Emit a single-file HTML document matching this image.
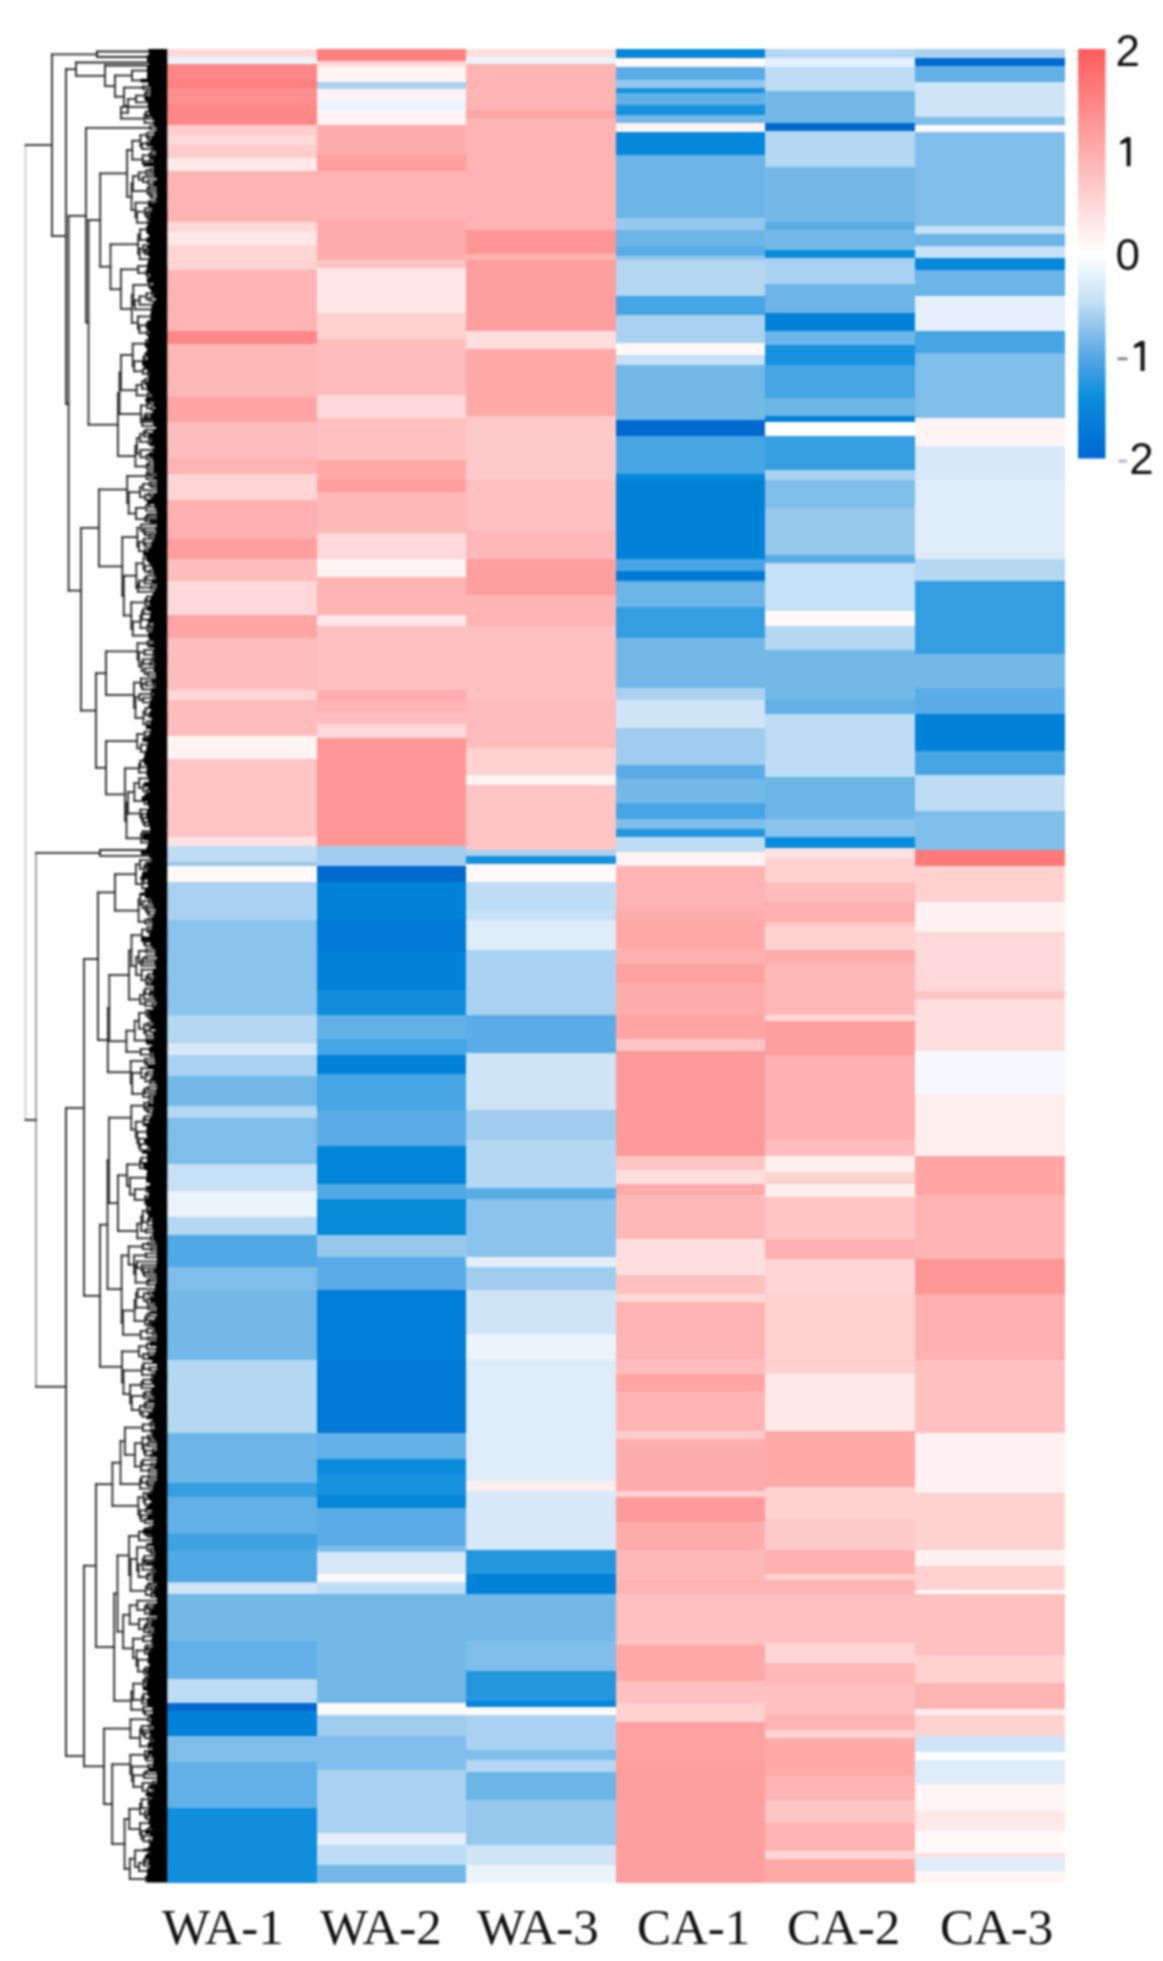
<!DOCTYPE html>
<html><head><meta charset="utf-8"><style>
html,body{margin:0;padding:0;background:#fff;}
body{width:1163px;height:1961px;overflow:hidden;position:relative;}
svg{position:absolute;left:0;top:0;}
#all{position:absolute;left:0;top:0;width:1163px;height:1961px;filter:blur(0.8px);}
.lab{position:absolute;font-family:"Liberation Serif",serif;font-size:51px;color:#111;white-space:nowrap;line-height:1;}
.tk{position:absolute;font-family:"Liberation Sans",sans-serif;font-size:44px;color:#111;white-space:nowrap;line-height:1;}
.tk span{color:#777;}
</style></head><body>
<div id="all">
<svg width="1163" height="1961" viewBox="0 0 1163 1961">
<defs><linearGradient id="cb" x1="0" y1="0" x2="0" y2="1">
<stop offset="0.000" stop-color="#ff5c5c"/>
<stop offset="0.025" stop-color="#ff6464"/>
<stop offset="0.050" stop-color="#ff6c6c"/>
<stop offset="0.075" stop-color="#ff7474"/>
<stop offset="0.100" stop-color="#ff7c7c"/>
<stop offset="0.125" stop-color="#ff8484"/>
<stop offset="0.150" stop-color="#ff8c8c"/>
<stop offset="0.175" stop-color="#ff9494"/>
<stop offset="0.200" stop-color="#ff9c9c"/>
<stop offset="0.225" stop-color="#ffa4a4"/>
<stop offset="0.250" stop-color="#ffacac"/>
<stop offset="0.275" stop-color="#ffb4b4"/>
<stop offset="0.300" stop-color="#ffbdbd"/>
<stop offset="0.325" stop-color="#ffc5c5"/>
<stop offset="0.350" stop-color="#ffcdcd"/>
<stop offset="0.375" stop-color="#ffd6d6"/>
<stop offset="0.400" stop-color="#ffdede"/>
<stop offset="0.425" stop-color="#ffe6e6"/>
<stop offset="0.450" stop-color="#ffeeee"/>
<stop offset="0.475" stop-color="#fff7f7"/>
<stop offset="0.500" stop-color="#ffffff"/>
<stop offset="0.525" stop-color="#f3f8fd"/>
<stop offset="0.550" stop-color="#e7f2fb"/>
<stop offset="0.575" stop-color="#daebf8"/>
<stop offset="0.600" stop-color="#cee4f6"/>
<stop offset="0.625" stop-color="#bedcf4"/>
<stop offset="0.650" stop-color="#a9d1f1"/>
<stop offset="0.675" stop-color="#95c7ee"/>
<stop offset="0.700" stop-color="#81bceb"/>
<stop offset="0.725" stop-color="#6cb2e9"/>
<stop offset="0.750" stop-color="#58a7e6"/>
<stop offset="0.775" stop-color="#44a1e4"/>
<stop offset="0.800" stop-color="#319ae2"/>
<stop offset="0.825" stop-color="#1d94df"/>
<stop offset="0.850" stop-color="#0a8edd"/>
<stop offset="0.875" stop-color="#0887dc"/>
<stop offset="0.900" stop-color="#0781da"/>
<stop offset="0.925" stop-color="#057ad8"/>
<stop offset="0.950" stop-color="#0373d7"/>
<stop offset="0.975" stop-color="#026dd6"/>
<stop offset="1.000" stop-color="#0066d4"/>
</linearGradient></defs>
<g shape-rendering="crispEdges">
<rect x="167.0" y="49.0" width="150.2" height="8.6" fill="#ffd9d9"/>
<rect x="167.0" y="57.0" width="150.2" height="7.1" fill="#ebf3fc"/>
<rect x="167.0" y="63.5" width="150.2" height="17.1" fill="#ff8787"/>
<rect x="167.0" y="80.0" width="150.2" height="8.6" fill="#ff8080"/>
<rect x="167.0" y="88.0" width="150.2" height="16.6" fill="#ff8f8f"/>
<rect x="167.0" y="104.0" width="150.2" height="21.6" fill="#ff8787"/>
<rect x="167.0" y="125.0" width="150.2" height="10.6" fill="#ffcdcd"/>
<rect x="167.0" y="135.0" width="150.2" height="10.6" fill="#ffd9d9"/>
<rect x="167.0" y="145.0" width="150.2" height="13.6" fill="#ffcdcd"/>
<rect x="167.0" y="158.0" width="150.2" height="13.1" fill="#ffe8e8"/>
<rect x="167.0" y="170.5" width="150.2" height="52.1" fill="#ffb4b4"/>
<rect x="167.0" y="222.0" width="150.2" height="10.6" fill="#ffd9d9"/>
<rect x="167.0" y="232.0" width="150.2" height="13.6" fill="#ffe8e8"/>
<rect x="167.0" y="245.0" width="150.2" height="17.6" fill="#ffd5d5"/>
<rect x="167.0" y="262.0" width="150.2" height="8.6" fill="#ffd1d1"/>
<rect x="167.0" y="270.0" width="150.2" height="61.6" fill="#ffb4b4"/>
<rect x="167.0" y="331.0" width="150.2" height="13.6" fill="#ff8787"/>
<rect x="167.0" y="344.0" width="150.2" height="53.1" fill="#ffb8b8"/>
<rect x="167.0" y="396.5" width="150.2" height="26.1" fill="#ffa5a5"/>
<rect x="167.0" y="422.0" width="150.2" height="36.6" fill="#ffbcbc"/>
<rect x="167.0" y="458.0" width="150.2" height="16.2" fill="#ffb4b4"/>
<rect x="167.0" y="473.6" width="150.2" height="27.0" fill="#ffd5d5"/>
<rect x="167.0" y="500.0" width="150.2" height="39.6" fill="#ffb0b0"/>
<rect x="167.0" y="539.0" width="150.2" height="20.6" fill="#ff9e9e"/>
<rect x="167.0" y="559.0" width="150.2" height="22.6" fill="#ffbcbc"/>
<rect x="167.0" y="581.0" width="150.2" height="34.1" fill="#ffd9d9"/>
<rect x="167.0" y="614.5" width="150.2" height="24.1" fill="#ffa5a5"/>
<rect x="167.0" y="638.0" width="150.2" height="52.6" fill="#ffbcbc"/>
<rect x="167.0" y="690.0" width="150.2" height="10.6" fill="#ffd5d5"/>
<rect x="167.0" y="700.0" width="150.2" height="36.2" fill="#ffbcbc"/>
<rect x="167.0" y="735.6" width="150.2" height="24.0" fill="#fff3f3"/>
<rect x="167.0" y="759.0" width="150.2" height="78.1" fill="#ffc4c4"/>
<rect x="167.0" y="836.5" width="150.2" height="10.1" fill="#ffe3e3"/>
<rect x="167.0" y="846.0" width="150.2" height="16.6" fill="#bedcf3"/>
<rect x="167.0" y="862.0" width="150.2" height="4.6" fill="#96c8ed"/>
<rect x="167.0" y="866.0" width="150.2" height="16.6" fill="#fff9f9"/>
<rect x="167.0" y="882.0" width="150.2" height="38.6" fill="#aad2f0"/>
<rect x="167.0" y="920.0" width="150.2" height="95.6" fill="#8ac3eb"/>
<rect x="167.0" y="1015.0" width="150.2" height="28.2" fill="#b4d7f2"/>
<rect x="167.0" y="1042.6" width="150.2" height="12.5" fill="#d7e8f8"/>
<rect x="167.0" y="1054.5" width="150.2" height="22.1" fill="#aad2f0"/>
<rect x="167.0" y="1076.0" width="150.2" height="30.6" fill="#73b9e8"/>
<rect x="167.0" y="1106.0" width="150.2" height="12.6" fill="#b4d7f2"/>
<rect x="167.0" y="1118.0" width="150.2" height="46.6" fill="#7fbeea"/>
<rect x="167.0" y="1164.0" width="150.2" height="27.6" fill="#c6e0f5"/>
<rect x="167.0" y="1191.0" width="150.2" height="26.6" fill="#ebf3fc"/>
<rect x="167.0" y="1217.0" width="150.2" height="18.6" fill="#b4d7f2"/>
<rect x="167.0" y="1235.0" width="150.2" height="32.2" fill="#50a8e5"/>
<rect x="167.0" y="1266.6" width="150.2" height="24.0" fill="#7fbeea"/>
<rect x="167.0" y="1290.0" width="150.2" height="70.6" fill="#73b9e8"/>
<rect x="167.0" y="1360.0" width="150.2" height="73.6" fill="#b4d7f2"/>
<rect x="167.0" y="1433.0" width="150.2" height="50.2" fill="#6bb5e7"/>
<rect x="167.0" y="1482.6" width="150.2" height="14.5" fill="#349ee1"/>
<rect x="167.0" y="1496.5" width="150.2" height="38.1" fill="#62b0e7"/>
<rect x="167.0" y="1534.0" width="150.2" height="16.6" fill="#3da1e2"/>
<rect x="167.0" y="1550.0" width="150.2" height="32.1" fill="#50a8e5"/>
<rect x="167.0" y="1581.5" width="150.2" height="3.1" fill="#b4d7f2"/>
<rect x="167.0" y="1584.0" width="150.2" height="10.6" fill="#cfe4f6"/>
<rect x="167.0" y="1594.0" width="150.2" height="47.6" fill="#73b9e8"/>
<rect x="167.0" y="1641.0" width="150.2" height="38.6" fill="#62b0e7"/>
<rect x="167.0" y="1679.0" width="150.2" height="24.2" fill="#bedcf3"/>
<rect x="167.0" y="1702.6" width="150.2" height="8.5" fill="#0069d0"/>
<rect x="167.0" y="1710.5" width="150.2" height="26.1" fill="#0082d8"/>
<rect x="167.0" y="1736.0" width="150.2" height="26.6" fill="#7fbeea"/>
<rect x="167.0" y="1762.0" width="150.2" height="46.1" fill="#62b0e7"/>
<rect x="167.0" y="1807.5" width="150.2" height="75.6" fill="#108edc"/>
<rect x="316.6" y="49.0" width="150.2" height="12.2" fill="#ff8080"/>
<rect x="316.6" y="60.6" width="150.2" height="5.7" fill="#ffd5d5"/>
<rect x="316.6" y="65.7" width="150.2" height="16.4" fill="#fff3f3"/>
<rect x="316.6" y="81.5" width="150.2" height="8.5" fill="#aad2f0"/>
<rect x="316.6" y="89.4" width="150.2" height="11.2" fill="#fff3f3"/>
<rect x="316.6" y="100.0" width="150.2" height="10.6" fill="#ebf3fc"/>
<rect x="316.6" y="110.0" width="150.2" height="15.6" fill="#fff3f3"/>
<rect x="316.6" y="125.0" width="150.2" height="30.3" fill="#ffacac"/>
<rect x="316.6" y="154.7" width="150.2" height="16.4" fill="#ff9e9e"/>
<rect x="316.6" y="170.5" width="150.2" height="50.1" fill="#ffb4b4"/>
<rect x="316.6" y="220.0" width="150.2" height="40.6" fill="#ffacac"/>
<rect x="316.6" y="260.0" width="150.2" height="8.6" fill="#ffc4c4"/>
<rect x="316.6" y="268.0" width="150.2" height="45.6" fill="#ffe6e6"/>
<rect x="316.6" y="313.0" width="150.2" height="26.6" fill="#ffd1d1"/>
<rect x="316.6" y="339.0" width="150.2" height="56.1" fill="#ffbcbc"/>
<rect x="316.6" y="394.5" width="150.2" height="24.1" fill="#ffd9d9"/>
<rect x="316.6" y="418.0" width="150.2" height="42.6" fill="#ffc0c0"/>
<rect x="316.6" y="460.0" width="150.2" height="20.6" fill="#ffa9a9"/>
<rect x="316.6" y="480.0" width="150.2" height="12.6" fill="#ff9e9e"/>
<rect x="316.6" y="492.0" width="150.2" height="41.6" fill="#ffb8b8"/>
<rect x="316.6" y="533.0" width="150.2" height="26.6" fill="#ffd9d9"/>
<rect x="316.6" y="559.0" width="150.2" height="18.6" fill="#fff3f3"/>
<rect x="316.6" y="577.0" width="150.2" height="38.1" fill="#ffb4b4"/>
<rect x="316.6" y="614.5" width="150.2" height="12.1" fill="#ffe8e8"/>
<rect x="316.6" y="626.0" width="150.2" height="64.6" fill="#ffc0c0"/>
<rect x="316.6" y="690.0" width="150.2" height="10.6" fill="#ffacac"/>
<rect x="316.6" y="700.0" width="150.2" height="12.6" fill="#ffb4b4"/>
<rect x="316.6" y="712.0" width="150.2" height="12.6" fill="#ffbcbc"/>
<rect x="316.6" y="724.0" width="150.2" height="14.2" fill="#ffd9d9"/>
<rect x="316.6" y="737.6" width="150.2" height="109.0" fill="#ff9696"/>
<rect x="316.6" y="846.0" width="150.2" height="20.6" fill="#a0cdee"/>
<rect x="316.6" y="866.0" width="150.2" height="16.6" fill="#0069d0"/>
<rect x="316.6" y="882.0" width="150.2" height="38.6" fill="#0082d8"/>
<rect x="316.6" y="920.0" width="150.2" height="32.2" fill="#007ad5"/>
<rect x="316.6" y="951.6" width="150.2" height="39.0" fill="#0082d8"/>
<rect x="316.6" y="990.0" width="150.2" height="25.6" fill="#108edc"/>
<rect x="316.6" y="1015.0" width="150.2" height="24.3" fill="#62b0e7"/>
<rect x="316.6" y="1038.7" width="150.2" height="16.4" fill="#46a5e4"/>
<rect x="316.6" y="1054.5" width="150.2" height="20.1" fill="#0082d8"/>
<rect x="316.6" y="1074.0" width="150.2" height="36.6" fill="#46a5e4"/>
<rect x="316.6" y="1110.0" width="150.2" height="36.1" fill="#5aace6"/>
<rect x="316.6" y="1145.5" width="150.2" height="3.1" fill="#0587da"/>
<rect x="316.6" y="1148.0" width="150.2" height="36.1" fill="#0284d9"/>
<rect x="316.6" y="1183.5" width="150.2" height="16.1" fill="#50a8e5"/>
<rect x="316.6" y="1199.0" width="150.2" height="36.6" fill="#088adb"/>
<rect x="316.6" y="1235.0" width="150.2" height="22.3" fill="#96c8ed"/>
<rect x="316.6" y="1256.7" width="150.2" height="33.9" fill="#5aace6"/>
<rect x="316.6" y="1290.0" width="150.2" height="70.6" fill="#007ed7"/>
<rect x="316.6" y="1360.0" width="150.2" height="73.6" fill="#007ad5"/>
<rect x="316.6" y="1433.0" width="150.2" height="26.6" fill="#62b0e7"/>
<rect x="316.6" y="1459.0" width="150.2" height="16.3" fill="#0a8cdc"/>
<rect x="316.6" y="1474.7" width="150.2" height="20.4" fill="#1691dd"/>
<rect x="316.6" y="1494.5" width="150.2" height="14.1" fill="#0587da"/>
<rect x="316.6" y="1508.0" width="150.2" height="38.6" fill="#5aace6"/>
<rect x="316.6" y="1546.0" width="150.2" height="6.6" fill="#7fbeea"/>
<rect x="316.6" y="1552.0" width="150.2" height="22.2" fill="#d7e8f8"/>
<rect x="316.6" y="1573.6" width="150.2" height="8.5" fill="#fff9f9"/>
<rect x="316.6" y="1581.5" width="150.2" height="5.1" fill="#c6e0f5"/>
<rect x="316.6" y="1586.0" width="150.2" height="8.6" fill="#bedcf3"/>
<rect x="316.6" y="1594.0" width="150.2" height="47.6" fill="#73b9e8"/>
<rect x="316.6" y="1641.0" width="150.2" height="62.2" fill="#73b9e8"/>
<rect x="316.6" y="1702.6" width="150.2" height="12.5" fill="#fff9f9"/>
<rect x="316.6" y="1714.5" width="150.2" height="22.1" fill="#a0cdee"/>
<rect x="316.6" y="1736.0" width="150.2" height="34.6" fill="#7fbeea"/>
<rect x="316.6" y="1770.0" width="150.2" height="38.1" fill="#aad2f0"/>
<rect x="316.6" y="1807.5" width="150.2" height="26.1" fill="#aad2f0"/>
<rect x="316.6" y="1833.0" width="150.2" height="12.6" fill="#e4effb"/>
<rect x="316.6" y="1845.0" width="150.2" height="20.6" fill="#bedcf3"/>
<rect x="316.6" y="1865.0" width="150.2" height="18.1" fill="#73b9e8"/>
<rect x="466.2" y="49.0" width="150.2" height="8.6" fill="#ffdede"/>
<rect x="466.2" y="57.0" width="150.2" height="7.1" fill="#ebf3fc"/>
<rect x="466.2" y="63.5" width="150.2" height="47.1" fill="#ffb4b4"/>
<rect x="466.2" y="110.0" width="150.2" height="8.6" fill="#ffa5a5"/>
<rect x="466.2" y="118.0" width="150.2" height="112.6" fill="#ffb4b4"/>
<rect x="466.2" y="230.0" width="150.2" height="24.2" fill="#ff9696"/>
<rect x="466.2" y="253.6" width="150.2" height="7.0" fill="#ffb4b4"/>
<rect x="466.2" y="260.0" width="150.2" height="71.6" fill="#ff9e9e"/>
<rect x="466.2" y="331.0" width="150.2" height="18.6" fill="#ffdede"/>
<rect x="466.2" y="349.0" width="150.2" height="67.6" fill="#ffa9a9"/>
<rect x="466.2" y="416.0" width="150.2" height="64.6" fill="#ffc9c9"/>
<rect x="466.2" y="480.0" width="150.2" height="51.6" fill="#ffc0c0"/>
<rect x="466.2" y="531.0" width="150.2" height="28.6" fill="#ffb8b8"/>
<rect x="466.2" y="559.0" width="150.2" height="36.6" fill="#ff9e9e"/>
<rect x="466.2" y="595.0" width="150.2" height="31.6" fill="#ffb4b4"/>
<rect x="466.2" y="626.0" width="150.2" height="74.6" fill="#ffc0c0"/>
<rect x="466.2" y="700.0" width="150.2" height="48.1" fill="#ffbcbc"/>
<rect x="466.2" y="747.5" width="150.2" height="28.1" fill="#ffd1d1"/>
<rect x="466.2" y="775.0" width="150.2" height="10.6" fill="#fff3f3"/>
<rect x="466.2" y="785.0" width="150.2" height="65.6" fill="#ffc4c4"/>
<rect x="466.2" y="850.0" width="150.2" height="6.6" fill="#aad2f0"/>
<rect x="466.2" y="856.0" width="150.2" height="8.6" fill="#1691dd"/>
<rect x="466.2" y="864.0" width="150.2" height="18.6" fill="#fff9f9"/>
<rect x="466.2" y="882.0" width="150.2" height="28.2" fill="#bedcf3"/>
<rect x="466.2" y="909.6" width="150.2" height="11.0" fill="#c6e0f5"/>
<rect x="466.2" y="920.0" width="150.2" height="30.3" fill="#deecf9"/>
<rect x="466.2" y="949.7" width="150.2" height="65.9" fill="#aad2f0"/>
<rect x="466.2" y="1015.0" width="150.2" height="38.1" fill="#5aace6"/>
<rect x="466.2" y="1052.5" width="150.2" height="58.1" fill="#cfe4f6"/>
<rect x="466.2" y="1110.0" width="150.2" height="30.6" fill="#a0cdee"/>
<rect x="466.2" y="1140.0" width="150.2" height="48.1" fill="#b4d7f2"/>
<rect x="466.2" y="1187.5" width="150.2" height="12.1" fill="#5aace6"/>
<rect x="466.2" y="1199.0" width="150.2" height="58.3" fill="#8ac3eb"/>
<rect x="466.2" y="1256.7" width="150.2" height="10.5" fill="#e4effb"/>
<rect x="466.2" y="1266.6" width="150.2" height="24.0" fill="#a0cdee"/>
<rect x="466.2" y="1290.0" width="150.2" height="44.6" fill="#cfe4f6"/>
<rect x="466.2" y="1334.0" width="150.2" height="26.6" fill="#ebf3fc"/>
<rect x="466.2" y="1360.0" width="150.2" height="121.2" fill="#deecf9"/>
<rect x="466.2" y="1480.6" width="150.2" height="10.5" fill="#ffeeee"/>
<rect x="466.2" y="1490.5" width="150.2" height="60.1" fill="#d7e8f8"/>
<rect x="466.2" y="1550.0" width="150.2" height="24.2" fill="#2396de"/>
<rect x="466.2" y="1573.6" width="150.2" height="21.0" fill="#0082d8"/>
<rect x="466.2" y="1594.0" width="150.2" height="47.6" fill="#73b9e8"/>
<rect x="466.2" y="1641.0" width="150.2" height="30.6" fill="#7fbeea"/>
<rect x="466.2" y="1671.0" width="150.2" height="30.2" fill="#2396de"/>
<rect x="466.2" y="1700.6" width="150.2" height="6.6" fill="#0587da"/>
<rect x="466.2" y="1706.6" width="150.2" height="8.5" fill="#fffbfb"/>
<rect x="466.2" y="1714.5" width="150.2" height="36.1" fill="#aad2f0"/>
<rect x="466.2" y="1750.0" width="150.2" height="10.6" fill="#7fbeea"/>
<rect x="466.2" y="1760.0" width="150.2" height="12.6" fill="#b4d7f2"/>
<rect x="466.2" y="1772.0" width="150.2" height="28.1" fill="#6bb5e7"/>
<rect x="466.2" y="1799.5" width="150.2" height="46.1" fill="#96c8ed"/>
<rect x="466.2" y="1845.0" width="150.2" height="20.6" fill="#cfe4f6"/>
<rect x="466.2" y="1865.0" width="150.2" height="18.1" fill="#ebf3fc"/>
<rect x="615.8" y="49.0" width="150.2" height="9.4" fill="#0587da"/>
<rect x="615.8" y="57.8" width="150.2" height="9.8" fill="#fff9f9"/>
<rect x="615.8" y="67.0" width="150.2" height="13.2" fill="#5aace6"/>
<rect x="615.8" y="79.6" width="150.2" height="8.5" fill="#96c8ed"/>
<rect x="615.8" y="87.5" width="150.2" height="6.5" fill="#1691dd"/>
<rect x="615.8" y="93.4" width="150.2" height="12.2" fill="#62b0e7"/>
<rect x="615.8" y="105.0" width="150.2" height="10.6" fill="#1691dd"/>
<rect x="615.8" y="115.0" width="150.2" height="8.6" fill="#73b9e8"/>
<rect x="615.8" y="123.0" width="150.2" height="9.4" fill="#fff3f3"/>
<rect x="615.8" y="131.8" width="150.2" height="23.5" fill="#0587da"/>
<rect x="615.8" y="154.7" width="150.2" height="63.9" fill="#6bb5e7"/>
<rect x="615.8" y="218.0" width="150.2" height="12.6" fill="#96c8ed"/>
<rect x="615.8" y="230.0" width="150.2" height="16.6" fill="#6bb5e7"/>
<rect x="615.8" y="246.0" width="150.2" height="10.2" fill="#5aace6"/>
<rect x="615.8" y="255.6" width="150.2" height="5.0" fill="#96c8ed"/>
<rect x="615.8" y="260.0" width="150.2" height="36.2" fill="#b4d7f2"/>
<rect x="615.8" y="295.6" width="150.2" height="20.4" fill="#46a5e4"/>
<rect x="615.8" y="315.4" width="150.2" height="28.2" fill="#aad2f0"/>
<rect x="615.8" y="343.0" width="150.2" height="12.6" fill="#fff9f9"/>
<rect x="615.8" y="355.0" width="150.2" height="10.6" fill="#c6e0f5"/>
<rect x="615.8" y="365.0" width="150.2" height="55.6" fill="#73b9e8"/>
<rect x="615.8" y="420.0" width="150.2" height="16.6" fill="#0069d0"/>
<rect x="615.8" y="436.0" width="150.2" height="38.2" fill="#46a5e4"/>
<rect x="615.8" y="473.6" width="150.2" height="7.0" fill="#0587da"/>
<rect x="615.8" y="480.0" width="150.2" height="79.6" fill="#0082d8"/>
<rect x="615.8" y="559.0" width="150.2" height="12.6" fill="#46a5e4"/>
<rect x="615.8" y="571.0" width="150.2" height="10.6" fill="#007ad5"/>
<rect x="615.8" y="581.0" width="150.2" height="26.2" fill="#6bb5e7"/>
<rect x="615.8" y="606.6" width="150.2" height="32.0" fill="#349ee1"/>
<rect x="615.8" y="638.0" width="150.2" height="50.3" fill="#73b9e8"/>
<rect x="615.8" y="687.7" width="150.2" height="12.9" fill="#aad2f0"/>
<rect x="615.8" y="700.0" width="150.2" height="28.3" fill="#cfe4f6"/>
<rect x="615.8" y="727.7" width="150.2" height="37.9" fill="#a0cdee"/>
<rect x="615.8" y="765.0" width="150.2" height="14.6" fill="#5aace6"/>
<rect x="615.8" y="779.0" width="150.2" height="24.6" fill="#73b9e8"/>
<rect x="615.8" y="803.0" width="150.2" height="16.3" fill="#46a5e4"/>
<rect x="615.8" y="818.7" width="150.2" height="10.5" fill="#7fbeea"/>
<rect x="615.8" y="828.6" width="150.2" height="8.5" fill="#2396de"/>
<rect x="615.8" y="836.5" width="150.2" height="16.4" fill="#bedcf3"/>
<rect x="615.8" y="852.3" width="150.2" height="14.3" fill="#fff3f3"/>
<rect x="615.8" y="866.0" width="150.2" height="44.2" fill="#ffb4b4"/>
<rect x="615.8" y="909.6" width="150.2" height="11.0" fill="#ffacac"/>
<rect x="615.8" y="920.0" width="150.2" height="28.3" fill="#ffa9a9"/>
<rect x="615.8" y="947.7" width="150.2" height="16.4" fill="#ffb0b0"/>
<rect x="615.8" y="963.5" width="150.2" height="20.4" fill="#ffa1a1"/>
<rect x="615.8" y="983.3" width="150.2" height="32.3" fill="#ffacac"/>
<rect x="615.8" y="1015.0" width="150.2" height="24.3" fill="#ffa5a5"/>
<rect x="615.8" y="1038.7" width="150.2" height="12.4" fill="#ffc4c4"/>
<rect x="615.8" y="1050.5" width="150.2" height="106.1" fill="#ff9a9a"/>
<rect x="615.8" y="1156.0" width="150.2" height="14.3" fill="#ffc4c4"/>
<rect x="615.8" y="1169.7" width="150.2" height="14.4" fill="#ffdede"/>
<rect x="615.8" y="1183.5" width="150.2" height="12.5" fill="#ffa9a9"/>
<rect x="615.8" y="1195.4" width="150.2" height="44.2" fill="#ffb8b8"/>
<rect x="615.8" y="1239.0" width="150.2" height="36.1" fill="#ffdede"/>
<rect x="615.8" y="1274.5" width="150.2" height="20.1" fill="#ffc0c0"/>
<rect x="615.8" y="1294.0" width="150.2" height="8.6" fill="#ffd9d9"/>
<rect x="615.8" y="1302.0" width="150.2" height="58.6" fill="#ffb4b4"/>
<rect x="615.8" y="1360.0" width="150.2" height="14.6" fill="#ffbcbc"/>
<rect x="615.8" y="1374.0" width="150.2" height="18.2" fill="#ffa5a5"/>
<rect x="615.8" y="1391.6" width="150.2" height="40.0" fill="#ffb4b4"/>
<rect x="615.8" y="1431.0" width="150.2" height="8.6" fill="#ffcdcd"/>
<rect x="615.8" y="1439.0" width="150.2" height="52.1" fill="#ffacac"/>
<rect x="615.8" y="1490.5" width="150.2" height="6.6" fill="#ffd1d1"/>
<rect x="615.8" y="1496.5" width="150.2" height="26.1" fill="#ff9a9a"/>
<rect x="615.8" y="1522.0" width="150.2" height="28.6" fill="#ffacac"/>
<rect x="615.8" y="1550.0" width="150.2" height="30.6" fill="#ffb8b8"/>
<rect x="615.8" y="1580.0" width="150.2" height="14.6" fill="#ffb4b4"/>
<rect x="615.8" y="1594.0" width="150.2" height="51.6" fill="#ffc0c0"/>
<rect x="615.8" y="1645.0" width="150.2" height="36.6" fill="#ffa9a9"/>
<rect x="615.8" y="1681.0" width="150.2" height="22.2" fill="#ffc0c0"/>
<rect x="615.8" y="1702.6" width="150.2" height="20.4" fill="#ffd1d1"/>
<rect x="615.8" y="1722.4" width="150.2" height="38.2" fill="#ffa1a1"/>
<rect x="615.8" y="1760.0" width="150.2" height="123.1" fill="#ff9e9e"/>
<rect x="765.4" y="49.0" width="150.2" height="9.4" fill="#b4d7f2"/>
<rect x="765.4" y="57.8" width="150.2" height="9.8" fill="#e4effb"/>
<rect x="765.4" y="67.0" width="150.2" height="25.0" fill="#bedcf3"/>
<rect x="765.4" y="91.4" width="150.2" height="32.2" fill="#73b9e8"/>
<rect x="765.4" y="123.0" width="150.2" height="8.6" fill="#0069d0"/>
<rect x="765.4" y="131.0" width="150.2" height="36.2" fill="#b4d7f2"/>
<rect x="765.4" y="166.6" width="150.2" height="56.0" fill="#73b9e8"/>
<rect x="765.4" y="222.0" width="150.2" height="8.6" fill="#5aace6"/>
<rect x="765.4" y="230.0" width="150.2" height="20.2" fill="#73b9e8"/>
<rect x="765.4" y="249.6" width="150.2" height="8.6" fill="#0a8cdc"/>
<rect x="765.4" y="257.6" width="150.2" height="26.7" fill="#aad2f0"/>
<rect x="765.4" y="283.7" width="150.2" height="30.3" fill="#6bb5e7"/>
<rect x="765.4" y="313.4" width="150.2" height="18.4" fill="#0082d8"/>
<rect x="765.4" y="331.2" width="150.2" height="14.4" fill="#6bb5e7"/>
<rect x="765.4" y="345.0" width="150.2" height="20.6" fill="#1691dd"/>
<rect x="765.4" y="365.0" width="150.2" height="34.0" fill="#46a5e4"/>
<rect x="765.4" y="398.4" width="150.2" height="18.2" fill="#6bb5e7"/>
<rect x="765.4" y="416.0" width="150.2" height="6.6" fill="#0082d8"/>
<rect x="765.4" y="422.0" width="150.2" height="14.6" fill="#ffffff"/>
<rect x="765.4" y="436.0" width="150.2" height="34.2" fill="#349ee1"/>
<rect x="765.4" y="469.6" width="150.2" height="11.0" fill="#aad2f0"/>
<rect x="765.4" y="480.0" width="150.2" height="28.3" fill="#7fbeea"/>
<rect x="765.4" y="507.7" width="150.2" height="47.9" fill="#96c8ed"/>
<rect x="765.4" y="555.0" width="150.2" height="8.6" fill="#5aace6"/>
<rect x="765.4" y="563.0" width="150.2" height="48.1" fill="#c6e0f5"/>
<rect x="765.4" y="610.5" width="150.2" height="16.5" fill="#fff9f9"/>
<rect x="765.4" y="626.4" width="150.2" height="24.2" fill="#b4d7f2"/>
<rect x="765.4" y="650.0" width="150.2" height="50.6" fill="#73b9e8"/>
<rect x="765.4" y="700.0" width="150.2" height="14.6" fill="#62b0e7"/>
<rect x="765.4" y="714.0" width="150.2" height="63.6" fill="#bedcf3"/>
<rect x="765.4" y="777.0" width="150.2" height="42.3" fill="#6bb5e7"/>
<rect x="765.4" y="818.7" width="150.2" height="18.4" fill="#8ac3eb"/>
<rect x="765.4" y="836.5" width="150.2" height="12.4" fill="#0a8cdc"/>
<rect x="765.4" y="848.3" width="150.2" height="10.3" fill="#ffe3e3"/>
<rect x="765.4" y="858.0" width="150.2" height="24.6" fill="#ffd1d1"/>
<rect x="765.4" y="882.0" width="150.2" height="20.3" fill="#ffbcbc"/>
<rect x="765.4" y="901.7" width="150.2" height="20.4" fill="#ffb0b0"/>
<rect x="765.4" y="921.5" width="150.2" height="5.1" fill="#ffc4c4"/>
<rect x="765.4" y="926.0" width="150.2" height="24.3" fill="#ffd1d1"/>
<rect x="765.4" y="949.7" width="150.2" height="14.4" fill="#ffacac"/>
<rect x="765.4" y="963.5" width="150.2" height="52.1" fill="#ffb8b8"/>
<rect x="765.4" y="1015.0" width="150.2" height="6.6" fill="#ffd9d9"/>
<rect x="765.4" y="1021.0" width="150.2" height="34.1" fill="#ff9e9e"/>
<rect x="765.4" y="1054.5" width="150.2" height="86.1" fill="#ffb0b0"/>
<rect x="765.4" y="1140.0" width="150.2" height="16.6" fill="#ffbcbc"/>
<rect x="765.4" y="1156.0" width="150.2" height="16.2" fill="#ffeeee"/>
<rect x="765.4" y="1171.6" width="150.2" height="12.5" fill="#ffd1d1"/>
<rect x="765.4" y="1183.5" width="150.2" height="14.5" fill="#ffeeee"/>
<rect x="765.4" y="1197.4" width="150.2" height="42.2" fill="#ffc4c4"/>
<rect x="765.4" y="1239.0" width="150.2" height="20.3" fill="#ffb0b0"/>
<rect x="765.4" y="1258.7" width="150.2" height="35.9" fill="#ffd5d5"/>
<rect x="765.4" y="1294.0" width="150.2" height="80.6" fill="#ffd1d1"/>
<rect x="765.4" y="1374.0" width="150.2" height="57.6" fill="#ffe8e8"/>
<rect x="765.4" y="1431.0" width="150.2" height="56.2" fill="#ffa9a9"/>
<rect x="765.4" y="1486.6" width="150.2" height="32.0" fill="#ffd1d1"/>
<rect x="765.4" y="1518.0" width="150.2" height="32.6" fill="#ffc9c9"/>
<rect x="765.4" y="1550.0" width="150.2" height="24.2" fill="#ffb0b0"/>
<rect x="765.4" y="1573.6" width="150.2" height="7.0" fill="#ffd1d1"/>
<rect x="765.4" y="1580.0" width="150.2" height="14.6" fill="#ffb4b4"/>
<rect x="765.4" y="1594.0" width="150.2" height="49.6" fill="#ffc0c0"/>
<rect x="765.4" y="1643.0" width="150.2" height="20.6" fill="#ffd5d5"/>
<rect x="765.4" y="1663.0" width="150.2" height="22.6" fill="#ffb8b8"/>
<rect x="765.4" y="1685.0" width="150.2" height="30.1" fill="#ffc0c0"/>
<rect x="765.4" y="1714.5" width="150.2" height="16.1" fill="#ffb4b4"/>
<rect x="765.4" y="1730.0" width="150.2" height="8.6" fill="#ffd1d1"/>
<rect x="765.4" y="1738.0" width="150.2" height="38.6" fill="#ffa9a9"/>
<rect x="765.4" y="1776.0" width="150.2" height="24.1" fill="#ffb4b4"/>
<rect x="765.4" y="1799.5" width="150.2" height="24.1" fill="#ffc4c4"/>
<rect x="765.4" y="1823.0" width="150.2" height="28.6" fill="#ffb4b4"/>
<rect x="765.4" y="1851.0" width="150.2" height="8.6" fill="#ffd5d5"/>
<rect x="765.4" y="1859.0" width="150.2" height="24.1" fill="#ffa9a9"/>
<rect x="915.0" y="49.0" width="150.2" height="9.4" fill="#aad2f0"/>
<rect x="915.0" y="57.8" width="150.2" height="8.5" fill="#0069d0"/>
<rect x="915.0" y="65.7" width="150.2" height="16.4" fill="#62b0e7"/>
<rect x="915.0" y="81.5" width="150.2" height="36.1" fill="#cfe4f6"/>
<rect x="915.0" y="117.0" width="150.2" height="8.6" fill="#7fbeea"/>
<rect x="915.0" y="125.0" width="150.2" height="7.4" fill="#fff9f9"/>
<rect x="915.0" y="131.8" width="150.2" height="94.8" fill="#7fbeea"/>
<rect x="915.0" y="226.0" width="150.2" height="8.4" fill="#c6e0f5"/>
<rect x="915.0" y="233.8" width="150.2" height="12.5" fill="#6bb5e7"/>
<rect x="915.0" y="245.7" width="150.2" height="12.5" fill="#c6e0f5"/>
<rect x="915.0" y="257.6" width="150.2" height="13.0" fill="#0587da"/>
<rect x="915.0" y="270.0" width="150.2" height="26.2" fill="#6bb5e7"/>
<rect x="915.0" y="295.6" width="150.2" height="36.2" fill="#e4effb"/>
<rect x="915.0" y="331.2" width="150.2" height="22.4" fill="#46a5e4"/>
<rect x="915.0" y="353.0" width="150.2" height="65.6" fill="#7fbeea"/>
<rect x="915.0" y="418.0" width="150.2" height="28.6" fill="#fff3f3"/>
<rect x="915.0" y="446.0" width="150.2" height="34.6" fill="#d7e8f8"/>
<rect x="915.0" y="480.0" width="150.2" height="79.6" fill="#deecf9"/>
<rect x="915.0" y="559.0" width="150.2" height="22.6" fill="#b4d7f2"/>
<rect x="915.0" y="581.0" width="150.2" height="73.6" fill="#349ee1"/>
<rect x="915.0" y="654.0" width="150.2" height="34.3" fill="#73b9e8"/>
<rect x="915.0" y="687.7" width="150.2" height="26.9" fill="#5aace6"/>
<rect x="915.0" y="714.0" width="150.2" height="38.0" fill="#0082d8"/>
<rect x="915.0" y="751.4" width="150.2" height="24.2" fill="#46a5e4"/>
<rect x="915.0" y="775.0" width="150.2" height="36.4" fill="#bedcf3"/>
<rect x="915.0" y="810.8" width="150.2" height="40.1" fill="#7fbeea"/>
<rect x="915.0" y="850.3" width="150.2" height="16.3" fill="#ff7979"/>
<rect x="915.0" y="866.0" width="150.2" height="36.3" fill="#ffd1d1"/>
<rect x="915.0" y="901.7" width="150.2" height="30.9" fill="#fff1f1"/>
<rect x="915.0" y="932.0" width="150.2" height="59.6" fill="#ffd9d9"/>
<rect x="915.0" y="991.0" width="150.2" height="8.6" fill="#ffc4c4"/>
<rect x="915.0" y="999.0" width="150.2" height="52.1" fill="#ffdede"/>
<rect x="915.0" y="1050.5" width="150.2" height="44.1" fill="#f5f9fe"/>
<rect x="915.0" y="1094.0" width="150.2" height="62.6" fill="#ffeeee"/>
<rect x="915.0" y="1156.0" width="150.2" height="40.0" fill="#ffa5a5"/>
<rect x="915.0" y="1195.4" width="150.2" height="63.9" fill="#ffb4b4"/>
<rect x="915.0" y="1258.7" width="150.2" height="35.9" fill="#ff9696"/>
<rect x="915.0" y="1294.0" width="150.2" height="66.6" fill="#ffb0b0"/>
<rect x="915.0" y="1360.0" width="150.2" height="73.6" fill="#ffc0c0"/>
<rect x="915.0" y="1433.0" width="150.2" height="60.1" fill="#fff1f1"/>
<rect x="915.0" y="1492.5" width="150.2" height="58.1" fill="#ffd1d1"/>
<rect x="915.0" y="1550.0" width="150.2" height="16.3" fill="#fff1f1"/>
<rect x="915.0" y="1565.7" width="150.2" height="24.9" fill="#ffd1d1"/>
<rect x="915.0" y="1590.0" width="150.2" height="4.6" fill="#fff9f9"/>
<rect x="915.0" y="1594.0" width="150.2" height="61.6" fill="#ffc0c0"/>
<rect x="915.0" y="1655.0" width="150.2" height="28.6" fill="#ffd1d1"/>
<rect x="915.0" y="1683.0" width="150.2" height="26.2" fill="#ffb4b4"/>
<rect x="915.0" y="1708.6" width="150.2" height="6.5" fill="#ffeeee"/>
<rect x="915.0" y="1714.5" width="150.2" height="22.1" fill="#ffd1d1"/>
<rect x="915.0" y="1736.0" width="150.2" height="16.6" fill="#cfe4f6"/>
<rect x="915.0" y="1752.0" width="150.2" height="8.6" fill="#ffffff"/>
<rect x="915.0" y="1760.0" width="150.2" height="24.3" fill="#deecf9"/>
<rect x="915.0" y="1783.7" width="150.2" height="28.3" fill="#fff5f5"/>
<rect x="915.0" y="1811.4" width="150.2" height="20.2" fill="#ffe8e8"/>
<rect x="915.0" y="1831.0" width="150.2" height="22.6" fill="#fff9f9"/>
<rect x="915.0" y="1853.0" width="150.2" height="4.6" fill="#ffdede"/>
<rect x="915.0" y="1857.0" width="150.2" height="14.6" fill="#deecf9"/>
<rect x="915.0" y="1871.0" width="150.2" height="12.1" fill="#fff5f5"/>
</g>
<g stroke-width="1.8" fill="none" stroke-linecap="square">
<line x1="150.1" y1="50.4" x2="150.1" y2="52.7" stroke="#262626"/>
<line x1="150.1" y1="50.4" x2="166.5" y2="50.4" stroke="#262626"/>
<line x1="150.1" y1="52.7" x2="166.5" y2="52.7" stroke="#262626"/>
<line x1="152.0" y1="57.8" x2="152.0" y2="60.1" stroke="#262626"/>
<line x1="152.0" y1="57.8" x2="166.5" y2="57.8" stroke="#262626"/>
<line x1="152.0" y1="60.1" x2="166.5" y2="60.1" stroke="#262626"/>
<line x1="150.5" y1="55.1" x2="150.5" y2="58.9" stroke="#262626"/>
<line x1="150.5" y1="55.1" x2="166.5" y2="55.1" stroke="#262626"/>
<line x1="150.5" y1="58.9" x2="152.0" y2="58.9" stroke="#262626"/>
<line x1="97.0" y1="51.5" x2="97.0" y2="57.0" stroke="#262626"/>
<line x1="97.0" y1="51.5" x2="150.1" y2="51.5" stroke="#262626"/>
<line x1="97.0" y1="57.0" x2="150.5" y2="57.0" stroke="#262626"/>
<line x1="152.2" y1="71.2" x2="152.2" y2="74.4" stroke="#262626"/>
<line x1="152.2" y1="71.2" x2="166.5" y2="71.2" stroke="#262626"/>
<line x1="152.2" y1="74.4" x2="166.5" y2="74.4" stroke="#262626"/>
<line x1="150.2" y1="68.3" x2="150.2" y2="72.8" stroke="#262626"/>
<line x1="150.2" y1="68.3" x2="166.5" y2="68.3" stroke="#262626"/>
<line x1="150.2" y1="72.8" x2="152.2" y2="72.8" stroke="#262626"/>
<line x1="153.2" y1="81.5" x2="153.2" y2="83.9" stroke="#262626"/>
<line x1="153.2" y1="81.5" x2="166.5" y2="81.5" stroke="#262626"/>
<line x1="153.2" y1="83.9" x2="166.5" y2="83.9" stroke="#262626"/>
<line x1="149.3" y1="78.1" x2="149.3" y2="82.7" stroke="#262626"/>
<line x1="149.3" y1="78.1" x2="166.5" y2="78.1" stroke="#262626"/>
<line x1="149.3" y1="82.7" x2="153.2" y2="82.7" stroke="#262626"/>
<line x1="132.0" y1="70.6" x2="132.0" y2="80.4" stroke="#262626"/>
<line x1="132.0" y1="70.6" x2="150.2" y2="70.6" stroke="#262626"/>
<line x1="132.0" y1="80.4" x2="149.3" y2="80.4" stroke="#262626"/>
<line x1="143.0" y1="86.3" x2="143.0" y2="88.8" stroke="#262626"/>
<line x1="143.0" y1="86.3" x2="166.5" y2="86.3" stroke="#262626"/>
<line x1="143.0" y1="88.8" x2="166.5" y2="88.8" stroke="#262626"/>
<line x1="146.6" y1="91.3" x2="146.6" y2="94.3" stroke="#262626"/>
<line x1="146.6" y1="91.3" x2="166.5" y2="91.3" stroke="#262626"/>
<line x1="146.6" y1="94.3" x2="166.5" y2="94.3" stroke="#262626"/>
<line x1="148.6" y1="97.2" x2="148.6" y2="99.7" stroke="#262626"/>
<line x1="148.6" y1="97.2" x2="166.5" y2="97.2" stroke="#262626"/>
<line x1="148.6" y1="99.7" x2="166.5" y2="99.7" stroke="#262626"/>
<line x1="145.1" y1="92.8" x2="145.1" y2="98.4" stroke="#262626"/>
<line x1="145.1" y1="92.8" x2="146.6" y2="92.8" stroke="#262626"/>
<line x1="145.1" y1="98.4" x2="148.6" y2="98.4" stroke="#262626"/>
<line x1="136.0" y1="95.6" x2="136.0" y2="102.4" stroke="#262626"/>
<line x1="136.0" y1="95.6" x2="145.1" y2="95.6" stroke="#262626"/>
<line x1="136.0" y1="102.4" x2="166.5" y2="102.4" stroke="#262626"/>
<line x1="150.9" y1="105.3" x2="150.9" y2="108.4" stroke="#262626"/>
<line x1="150.9" y1="105.3" x2="166.5" y2="105.3" stroke="#262626"/>
<line x1="150.9" y1="108.4" x2="166.5" y2="108.4" stroke="#262626"/>
<line x1="147.6" y1="115.2" x2="147.6" y2="118.7" stroke="#262626"/>
<line x1="147.6" y1="115.2" x2="166.5" y2="115.2" stroke="#262626"/>
<line x1="147.6" y1="118.7" x2="166.5" y2="118.7" stroke="#262626"/>
<line x1="146.1" y1="111.6" x2="146.1" y2="117.0" stroke="#262626"/>
<line x1="146.1" y1="111.6" x2="166.5" y2="111.6" stroke="#262626"/>
<line x1="146.1" y1="117.0" x2="147.6" y2="117.0" stroke="#262626"/>
<line x1="153.8" y1="121.7" x2="153.8" y2="124.0" stroke="#262626"/>
<line x1="153.8" y1="121.7" x2="166.5" y2="121.7" stroke="#262626"/>
<line x1="153.8" y1="124.0" x2="166.5" y2="124.0" stroke="#262626"/>
<line x1="144.6" y1="114.3" x2="144.6" y2="122.9" stroke="#262626"/>
<line x1="144.6" y1="114.3" x2="146.1" y2="114.3" stroke="#262626"/>
<line x1="144.6" y1="122.9" x2="153.8" y2="122.9" stroke="#262626"/>
<line x1="121.0" y1="106.9" x2="121.0" y2="118.6" stroke="#262626"/>
<line x1="121.0" y1="106.9" x2="150.9" y2="106.9" stroke="#262626"/>
<line x1="121.0" y1="118.6" x2="144.6" y2="118.6" stroke="#262626"/>
<line x1="128.0" y1="99.0" x2="128.0" y2="112.7" stroke="#262626"/>
<line x1="128.0" y1="99.0" x2="136.0" y2="99.0" stroke="#262626"/>
<line x1="128.0" y1="112.7" x2="121.0" y2="112.7" stroke="#262626"/>
<line x1="124.0" y1="87.6" x2="124.0" y2="105.9" stroke="#262626"/>
<line x1="124.0" y1="87.6" x2="143.0" y2="87.6" stroke="#262626"/>
<line x1="124.0" y1="105.9" x2="128.0" y2="105.9" stroke="#262626"/>
<line x1="115.0" y1="75.5" x2="115.0" y2="96.7" stroke="#262626"/>
<line x1="115.0" y1="75.5" x2="132.0" y2="75.5" stroke="#262626"/>
<line x1="115.0" y1="96.7" x2="124.0" y2="96.7" stroke="#262626"/>
<line x1="105.0" y1="65.5" x2="105.0" y2="86.1" stroke="#262626"/>
<line x1="105.0" y1="65.5" x2="166.5" y2="65.5" stroke="#262626"/>
<line x1="105.0" y1="86.1" x2="115.0" y2="86.1" stroke="#262626"/>
<line x1="76.0" y1="62.5" x2="76.0" y2="75.8" stroke="#262626"/>
<line x1="76.0" y1="62.5" x2="166.5" y2="62.5" stroke="#262626"/>
<line x1="76.0" y1="75.8" x2="105.0" y2="75.8" stroke="#262626"/>
<line x1="150.0" y1="126.3" x2="150.0" y2="129.3" stroke="#262626"/>
<line x1="150.0" y1="126.3" x2="166.5" y2="126.3" stroke="#262626"/>
<line x1="150.0" y1="129.3" x2="166.5" y2="129.3" stroke="#262626"/>
<line x1="148.4" y1="136.2" x2="148.4" y2="139.2" stroke="#262626"/>
<line x1="148.4" y1="136.2" x2="166.5" y2="136.2" stroke="#262626"/>
<line x1="148.4" y1="139.2" x2="166.5" y2="139.2" stroke="#262626"/>
<line x1="146.9" y1="132.8" x2="146.9" y2="137.7" stroke="#262626"/>
<line x1="146.9" y1="132.8" x2="166.5" y2="132.8" stroke="#262626"/>
<line x1="146.9" y1="137.7" x2="148.4" y2="137.7" stroke="#262626"/>
<line x1="147.4" y1="142.0" x2="147.4" y2="144.9" stroke="#262626"/>
<line x1="147.4" y1="142.0" x2="166.5" y2="142.0" stroke="#262626"/>
<line x1="147.4" y1="144.9" x2="166.5" y2="144.9" stroke="#262626"/>
<line x1="152.2" y1="147.7" x2="152.2" y2="150.1" stroke="#262626"/>
<line x1="152.2" y1="147.7" x2="166.5" y2="147.7" stroke="#262626"/>
<line x1="152.2" y1="150.1" x2="166.5" y2="150.1" stroke="#262626"/>
<line x1="141.9" y1="143.5" x2="141.9" y2="148.9" stroke="#262626"/>
<line x1="141.9" y1="143.5" x2="147.4" y2="143.5" stroke="#262626"/>
<line x1="141.9" y1="148.9" x2="152.2" y2="148.9" stroke="#262626"/>
<line x1="140.4" y1="135.2" x2="140.4" y2="146.2" stroke="#262626"/>
<line x1="140.4" y1="135.2" x2="146.9" y2="135.2" stroke="#262626"/>
<line x1="140.4" y1="146.2" x2="141.9" y2="146.2" stroke="#262626"/>
<line x1="151.1" y1="152.5" x2="151.1" y2="154.9" stroke="#262626"/>
<line x1="151.1" y1="152.5" x2="166.5" y2="152.5" stroke="#262626"/>
<line x1="151.1" y1="154.9" x2="166.5" y2="154.9" stroke="#262626"/>
<line x1="149.6" y1="153.7" x2="149.6" y2="157.2" stroke="#262626"/>
<line x1="149.6" y1="153.7" x2="151.1" y2="153.7" stroke="#262626"/>
<line x1="149.6" y1="157.2" x2="166.5" y2="157.2" stroke="#262626"/>
<line x1="149.8" y1="159.9" x2="149.8" y2="162.6" stroke="#262626"/>
<line x1="149.8" y1="159.9" x2="166.5" y2="159.9" stroke="#262626"/>
<line x1="149.8" y1="162.6" x2="166.5" y2="162.6" stroke="#262626"/>
<line x1="144.2" y1="161.3" x2="144.2" y2="165.8" stroke="#262626"/>
<line x1="144.2" y1="161.3" x2="149.8" y2="161.3" stroke="#262626"/>
<line x1="144.2" y1="165.8" x2="166.5" y2="165.8" stroke="#262626"/>
<line x1="142.7" y1="155.4" x2="142.7" y2="163.5" stroke="#262626"/>
<line x1="142.7" y1="155.4" x2="149.6" y2="155.4" stroke="#262626"/>
<line x1="142.7" y1="163.5" x2="144.2" y2="163.5" stroke="#262626"/>
<line x1="132.3" y1="140.7" x2="132.3" y2="159.5" stroke="#262626"/>
<line x1="132.3" y1="140.7" x2="140.4" y2="140.7" stroke="#262626"/>
<line x1="132.3" y1="159.5" x2="142.7" y2="159.5" stroke="#262626"/>
<line x1="150.2" y1="169.0" x2="150.2" y2="171.8" stroke="#262626"/>
<line x1="150.2" y1="169.0" x2="166.5" y2="169.0" stroke="#262626"/>
<line x1="150.2" y1="171.8" x2="166.5" y2="171.8" stroke="#262626"/>
<line x1="146.4" y1="170.4" x2="146.4" y2="174.5" stroke="#262626"/>
<line x1="146.4" y1="170.4" x2="150.2" y2="170.4" stroke="#262626"/>
<line x1="146.4" y1="174.5" x2="166.5" y2="174.5" stroke="#262626"/>
<line x1="148.1" y1="180.5" x2="148.1" y2="183.8" stroke="#262626"/>
<line x1="148.1" y1="180.5" x2="166.5" y2="180.5" stroke="#262626"/>
<line x1="148.1" y1="183.8" x2="166.5" y2="183.8" stroke="#262626"/>
<line x1="143.0" y1="177.2" x2="143.0" y2="182.1" stroke="#262626"/>
<line x1="143.0" y1="177.2" x2="166.5" y2="177.2" stroke="#262626"/>
<line x1="143.0" y1="182.1" x2="148.1" y2="182.1" stroke="#262626"/>
<line x1="138.8" y1="172.5" x2="138.8" y2="179.7" stroke="#262626"/>
<line x1="138.8" y1="172.5" x2="146.4" y2="172.5" stroke="#262626"/>
<line x1="138.8" y1="179.7" x2="143.0" y2="179.7" stroke="#262626"/>
<line x1="149.2" y1="186.5" x2="149.2" y2="189.2" stroke="#262626"/>
<line x1="149.2" y1="186.5" x2="166.5" y2="186.5" stroke="#262626"/>
<line x1="149.2" y1="189.2" x2="166.5" y2="189.2" stroke="#262626"/>
<line x1="151.5" y1="194.7" x2="151.5" y2="197.9" stroke="#262626"/>
<line x1="151.5" y1="194.7" x2="166.5" y2="194.7" stroke="#262626"/>
<line x1="151.5" y1="197.9" x2="166.5" y2="197.9" stroke="#262626"/>
<line x1="150.0" y1="191.8" x2="150.0" y2="196.3" stroke="#262626"/>
<line x1="150.0" y1="191.8" x2="166.5" y2="191.8" stroke="#262626"/>
<line x1="150.0" y1="196.3" x2="151.5" y2="196.3" stroke="#262626"/>
<line x1="147.6" y1="187.8" x2="147.6" y2="194.1" stroke="#262626"/>
<line x1="147.6" y1="187.8" x2="149.2" y2="187.8" stroke="#262626"/>
<line x1="147.6" y1="194.1" x2="150.0" y2="194.1" stroke="#262626"/>
<line x1="133.0" y1="176.1" x2="133.0" y2="191.0" stroke="#262626"/>
<line x1="133.0" y1="176.1" x2="138.8" y2="176.1" stroke="#262626"/>
<line x1="133.0" y1="191.0" x2="147.6" y2="191.0" stroke="#262626"/>
<line x1="149.4" y1="201.0" x2="149.4" y2="204.5" stroke="#262626"/>
<line x1="149.4" y1="201.0" x2="166.5" y2="201.0" stroke="#262626"/>
<line x1="149.4" y1="204.5" x2="166.5" y2="204.5" stroke="#262626"/>
<line x1="148.7" y1="211.4" x2="148.7" y2="213.7" stroke="#262626"/>
<line x1="148.7" y1="211.4" x2="166.5" y2="211.4" stroke="#262626"/>
<line x1="148.7" y1="213.7" x2="166.5" y2="213.7" stroke="#262626"/>
<line x1="148.0" y1="216.1" x2="148.0" y2="218.7" stroke="#262626"/>
<line x1="148.0" y1="216.1" x2="166.5" y2="216.1" stroke="#262626"/>
<line x1="148.0" y1="218.7" x2="166.5" y2="218.7" stroke="#262626"/>
<line x1="146.5" y1="212.5" x2="146.5" y2="217.4" stroke="#262626"/>
<line x1="146.5" y1="212.5" x2="148.7" y2="212.5" stroke="#262626"/>
<line x1="146.5" y1="217.4" x2="148.0" y2="217.4" stroke="#262626"/>
<line x1="145.0" y1="208.4" x2="145.0" y2="215.0" stroke="#262626"/>
<line x1="145.0" y1="208.4" x2="166.5" y2="208.4" stroke="#262626"/>
<line x1="145.0" y1="215.0" x2="146.5" y2="215.0" stroke="#262626"/>
<line x1="148.1" y1="221.4" x2="148.1" y2="223.9" stroke="#262626"/>
<line x1="148.1" y1="221.4" x2="166.5" y2="221.4" stroke="#262626"/>
<line x1="148.1" y1="223.9" x2="166.5" y2="223.9" stroke="#262626"/>
<line x1="137.0" y1="211.7" x2="137.0" y2="222.7" stroke="#262626"/>
<line x1="137.0" y1="211.7" x2="145.0" y2="211.7" stroke="#262626"/>
<line x1="137.0" y1="222.7" x2="148.1" y2="222.7" stroke="#262626"/>
<line x1="135.5" y1="202.7" x2="135.5" y2="217.2" stroke="#262626"/>
<line x1="135.5" y1="202.7" x2="149.4" y2="202.7" stroke="#262626"/>
<line x1="135.5" y1="217.2" x2="137.0" y2="217.2" stroke="#262626"/>
<line x1="131.5" y1="183.5" x2="131.5" y2="209.9" stroke="#262626"/>
<line x1="131.5" y1="183.5" x2="133.0" y2="183.5" stroke="#262626"/>
<line x1="131.5" y1="209.9" x2="135.5" y2="209.9" stroke="#262626"/>
<line x1="127.1" y1="150.1" x2="127.1" y2="196.7" stroke="#262626"/>
<line x1="127.1" y1="150.1" x2="132.3" y2="150.1" stroke="#262626"/>
<line x1="127.1" y1="196.7" x2="131.5" y2="196.7" stroke="#262626"/>
<line x1="149.6" y1="230.2" x2="149.6" y2="233.5" stroke="#262626"/>
<line x1="149.6" y1="230.2" x2="166.5" y2="230.2" stroke="#262626"/>
<line x1="149.6" y1="233.5" x2="166.5" y2="233.5" stroke="#262626"/>
<line x1="147.2" y1="227.0" x2="147.2" y2="231.9" stroke="#262626"/>
<line x1="147.2" y1="227.0" x2="166.5" y2="227.0" stroke="#262626"/>
<line x1="147.2" y1="231.9" x2="149.6" y2="231.9" stroke="#262626"/>
<line x1="150.1" y1="236.8" x2="150.1" y2="239.1" stroke="#262626"/>
<line x1="150.1" y1="236.8" x2="166.5" y2="236.8" stroke="#262626"/>
<line x1="150.1" y1="239.1" x2="166.5" y2="239.1" stroke="#262626"/>
<line x1="147.5" y1="238.0" x2="147.5" y2="241.9" stroke="#262626"/>
<line x1="147.5" y1="238.0" x2="150.1" y2="238.0" stroke="#262626"/>
<line x1="147.5" y1="241.9" x2="166.5" y2="241.9" stroke="#262626"/>
<line x1="140.2" y1="229.4" x2="140.2" y2="239.9" stroke="#262626"/>
<line x1="140.2" y1="229.4" x2="147.2" y2="229.4" stroke="#262626"/>
<line x1="140.2" y1="239.9" x2="147.5" y2="239.9" stroke="#262626"/>
<line x1="146.8" y1="248.4" x2="146.8" y2="251.5" stroke="#262626"/>
<line x1="146.8" y1="248.4" x2="166.5" y2="248.4" stroke="#262626"/>
<line x1="146.8" y1="251.5" x2="166.5" y2="251.5" stroke="#262626"/>
<line x1="144.8" y1="250.0" x2="144.8" y2="254.2" stroke="#262626"/>
<line x1="144.8" y1="250.0" x2="146.8" y2="250.0" stroke="#262626"/>
<line x1="144.8" y1="254.2" x2="166.5" y2="254.2" stroke="#262626"/>
<line x1="143.3" y1="245.2" x2="143.3" y2="252.1" stroke="#262626"/>
<line x1="143.3" y1="245.2" x2="166.5" y2="245.2" stroke="#262626"/>
<line x1="143.3" y1="252.1" x2="144.8" y2="252.1" stroke="#262626"/>
<line x1="151.1" y1="257.3" x2="151.1" y2="261.1" stroke="#262626"/>
<line x1="151.1" y1="257.3" x2="166.5" y2="257.3" stroke="#262626"/>
<line x1="151.1" y1="261.1" x2="166.5" y2="261.1" stroke="#262626"/>
<line x1="139.7" y1="248.7" x2="139.7" y2="259.2" stroke="#262626"/>
<line x1="139.7" y1="248.7" x2="143.3" y2="248.7" stroke="#262626"/>
<line x1="139.7" y1="259.2" x2="151.1" y2="259.2" stroke="#262626"/>
<line x1="138.2" y1="234.7" x2="138.2" y2="253.9" stroke="#262626"/>
<line x1="138.2" y1="234.7" x2="140.2" y2="234.7" stroke="#262626"/>
<line x1="138.2" y1="253.9" x2="139.7" y2="253.9" stroke="#262626"/>
<line x1="150.9" y1="264.6" x2="150.9" y2="267.5" stroke="#262626"/>
<line x1="150.9" y1="264.6" x2="166.5" y2="264.6" stroke="#262626"/>
<line x1="150.9" y1="267.5" x2="166.5" y2="267.5" stroke="#262626"/>
<line x1="151.9" y1="275.8" x2="151.9" y2="279.1" stroke="#262626"/>
<line x1="151.9" y1="275.8" x2="166.5" y2="275.8" stroke="#262626"/>
<line x1="151.9" y1="279.1" x2="166.5" y2="279.1" stroke="#262626"/>
<line x1="148.0" y1="273.1" x2="148.0" y2="277.5" stroke="#262626"/>
<line x1="148.0" y1="273.1" x2="166.5" y2="273.1" stroke="#262626"/>
<line x1="148.0" y1="277.5" x2="151.9" y2="277.5" stroke="#262626"/>
<line x1="146.5" y1="270.4" x2="146.5" y2="275.3" stroke="#262626"/>
<line x1="146.5" y1="270.4" x2="166.5" y2="270.4" stroke="#262626"/>
<line x1="146.5" y1="275.3" x2="148.0" y2="275.3" stroke="#262626"/>
<line x1="138.2" y1="266.0" x2="138.2" y2="272.9" stroke="#262626"/>
<line x1="138.2" y1="266.0" x2="150.9" y2="266.0" stroke="#262626"/>
<line x1="138.2" y1="272.9" x2="146.5" y2="272.9" stroke="#262626"/>
<line x1="150.6" y1="285.6" x2="150.6" y2="288.6" stroke="#262626"/>
<line x1="150.6" y1="285.6" x2="166.5" y2="285.6" stroke="#262626"/>
<line x1="150.6" y1="288.6" x2="166.5" y2="288.6" stroke="#262626"/>
<line x1="149.1" y1="282.6" x2="149.1" y2="287.1" stroke="#262626"/>
<line x1="149.1" y1="282.6" x2="166.5" y2="282.6" stroke="#262626"/>
<line x1="149.1" y1="287.1" x2="150.6" y2="287.1" stroke="#262626"/>
<line x1="152.3" y1="291.8" x2="152.3" y2="294.8" stroke="#262626"/>
<line x1="152.3" y1="291.8" x2="166.5" y2="291.8" stroke="#262626"/>
<line x1="152.3" y1="294.8" x2="166.5" y2="294.8" stroke="#262626"/>
<line x1="150.1" y1="297.7" x2="150.1" y2="301.1" stroke="#262626"/>
<line x1="150.1" y1="297.7" x2="166.5" y2="297.7" stroke="#262626"/>
<line x1="150.1" y1="301.1" x2="166.5" y2="301.1" stroke="#262626"/>
<line x1="146.6" y1="293.3" x2="146.6" y2="299.4" stroke="#262626"/>
<line x1="146.6" y1="293.3" x2="152.3" y2="293.3" stroke="#262626"/>
<line x1="146.6" y1="299.4" x2="150.1" y2="299.4" stroke="#262626"/>
<line x1="139.6" y1="296.4" x2="139.6" y2="304.7" stroke="#262626"/>
<line x1="139.6" y1="296.4" x2="146.6" y2="296.4" stroke="#262626"/>
<line x1="139.6" y1="304.7" x2="166.5" y2="304.7" stroke="#262626"/>
<line x1="152.4" y1="307.7" x2="152.4" y2="311.0" stroke="#262626"/>
<line x1="152.4" y1="307.7" x2="166.5" y2="307.7" stroke="#262626"/>
<line x1="152.4" y1="311.0" x2="166.5" y2="311.0" stroke="#262626"/>
<line x1="134.8" y1="300.5" x2="134.8" y2="309.4" stroke="#262626"/>
<line x1="134.8" y1="300.5" x2="139.6" y2="300.5" stroke="#262626"/>
<line x1="134.8" y1="309.4" x2="152.4" y2="309.4" stroke="#262626"/>
<line x1="133.3" y1="284.9" x2="133.3" y2="304.9" stroke="#262626"/>
<line x1="133.3" y1="284.9" x2="149.1" y2="284.9" stroke="#262626"/>
<line x1="133.3" y1="304.9" x2="134.8" y2="304.9" stroke="#262626"/>
<line x1="152.1" y1="314.8" x2="152.1" y2="318.3" stroke="#262626"/>
<line x1="152.1" y1="314.8" x2="166.5" y2="314.8" stroke="#262626"/>
<line x1="152.1" y1="318.3" x2="166.5" y2="318.3" stroke="#262626"/>
<line x1="148.1" y1="321.7" x2="148.1" y2="324.8" stroke="#262626"/>
<line x1="148.1" y1="321.7" x2="166.5" y2="321.7" stroke="#262626"/>
<line x1="148.1" y1="324.8" x2="166.5" y2="324.8" stroke="#262626"/>
<line x1="146.6" y1="323.2" x2="146.6" y2="327.5" stroke="#262626"/>
<line x1="146.6" y1="323.2" x2="148.1" y2="323.2" stroke="#262626"/>
<line x1="146.6" y1="327.5" x2="166.5" y2="327.5" stroke="#262626"/>
<line x1="149.2" y1="333.7" x2="149.2" y2="336.1" stroke="#262626"/>
<line x1="149.2" y1="333.7" x2="166.5" y2="333.7" stroke="#262626"/>
<line x1="149.2" y1="336.1" x2="166.5" y2="336.1" stroke="#262626"/>
<line x1="147.3" y1="330.6" x2="147.3" y2="334.9" stroke="#262626"/>
<line x1="147.3" y1="330.6" x2="166.5" y2="330.6" stroke="#262626"/>
<line x1="147.3" y1="334.9" x2="149.2" y2="334.9" stroke="#262626"/>
<line x1="139.4" y1="325.4" x2="139.4" y2="332.8" stroke="#262626"/>
<line x1="139.4" y1="325.4" x2="146.6" y2="325.4" stroke="#262626"/>
<line x1="139.4" y1="332.8" x2="147.3" y2="332.8" stroke="#262626"/>
<line x1="137.9" y1="316.5" x2="137.9" y2="329.1" stroke="#262626"/>
<line x1="137.9" y1="316.5" x2="152.1" y2="316.5" stroke="#262626"/>
<line x1="137.9" y1="329.1" x2="139.4" y2="329.1" stroke="#262626"/>
<line x1="131.8" y1="294.9" x2="131.8" y2="322.8" stroke="#262626"/>
<line x1="131.8" y1="294.9" x2="133.3" y2="294.9" stroke="#262626"/>
<line x1="131.8" y1="322.8" x2="137.9" y2="322.8" stroke="#262626"/>
<line x1="120.9" y1="269.4" x2="120.9" y2="308.9" stroke="#262626"/>
<line x1="120.9" y1="269.4" x2="138.2" y2="269.4" stroke="#262626"/>
<line x1="120.9" y1="308.9" x2="131.8" y2="308.9" stroke="#262626"/>
<line x1="110.5" y1="244.3" x2="110.5" y2="289.2" stroke="#262626"/>
<line x1="110.5" y1="244.3" x2="138.2" y2="244.3" stroke="#262626"/>
<line x1="110.5" y1="289.2" x2="120.9" y2="289.2" stroke="#262626"/>
<line x1="100.2" y1="173.4" x2="100.2" y2="266.7" stroke="#262626"/>
<line x1="100.2" y1="173.4" x2="127.1" y2="173.4" stroke="#262626"/>
<line x1="100.2" y1="266.7" x2="110.5" y2="266.7" stroke="#262626"/>
<line x1="152.1" y1="338.6" x2="152.1" y2="342.1" stroke="#262626"/>
<line x1="152.1" y1="338.6" x2="166.5" y2="338.6" stroke="#262626"/>
<line x1="152.1" y1="342.1" x2="166.5" y2="342.1" stroke="#262626"/>
<line x1="150.6" y1="345.5" x2="150.6" y2="348.8" stroke="#262626"/>
<line x1="150.6" y1="345.5" x2="166.5" y2="345.5" stroke="#262626"/>
<line x1="150.6" y1="348.8" x2="166.5" y2="348.8" stroke="#262626"/>
<line x1="146.2" y1="340.4" x2="146.2" y2="347.1" stroke="#262626"/>
<line x1="146.2" y1="340.4" x2="152.1" y2="340.4" stroke="#262626"/>
<line x1="146.2" y1="347.1" x2="150.6" y2="347.1" stroke="#262626"/>
<line x1="146.4" y1="352.4" x2="146.4" y2="355.4" stroke="#262626"/>
<line x1="146.4" y1="352.4" x2="166.5" y2="352.4" stroke="#262626"/>
<line x1="146.4" y1="355.4" x2="166.5" y2="355.4" stroke="#262626"/>
<line x1="149.9" y1="358.8" x2="149.9" y2="362.2" stroke="#262626"/>
<line x1="149.9" y1="358.8" x2="166.5" y2="358.8" stroke="#262626"/>
<line x1="149.9" y1="362.2" x2="166.5" y2="362.2" stroke="#262626"/>
<line x1="144.9" y1="353.9" x2="144.9" y2="360.5" stroke="#262626"/>
<line x1="144.9" y1="353.9" x2="146.4" y2="353.9" stroke="#262626"/>
<line x1="144.9" y1="360.5" x2="149.9" y2="360.5" stroke="#262626"/>
<line x1="143.4" y1="357.2" x2="143.4" y2="365.4" stroke="#262626"/>
<line x1="143.4" y1="357.2" x2="144.9" y2="357.2" stroke="#262626"/>
<line x1="143.4" y1="365.4" x2="166.5" y2="365.4" stroke="#262626"/>
<line x1="147.8" y1="371.9" x2="147.8" y2="375.4" stroke="#262626"/>
<line x1="147.8" y1="371.9" x2="166.5" y2="371.9" stroke="#262626"/>
<line x1="147.8" y1="375.4" x2="166.5" y2="375.4" stroke="#262626"/>
<line x1="142.9" y1="368.9" x2="142.9" y2="373.7" stroke="#262626"/>
<line x1="142.9" y1="368.9" x2="166.5" y2="368.9" stroke="#262626"/>
<line x1="142.9" y1="373.7" x2="147.8" y2="373.7" stroke="#262626"/>
<line x1="134.2" y1="361.3" x2="134.2" y2="371.3" stroke="#262626"/>
<line x1="134.2" y1="361.3" x2="143.4" y2="361.3" stroke="#262626"/>
<line x1="134.2" y1="371.3" x2="142.9" y2="371.3" stroke="#262626"/>
<line x1="132.7" y1="343.7" x2="132.7" y2="366.3" stroke="#262626"/>
<line x1="132.7" y1="343.7" x2="146.2" y2="343.7" stroke="#262626"/>
<line x1="132.7" y1="366.3" x2="134.2" y2="366.3" stroke="#262626"/>
<line x1="146.6" y1="382.1" x2="146.6" y2="385.2" stroke="#262626"/>
<line x1="146.6" y1="382.1" x2="166.5" y2="382.1" stroke="#262626"/>
<line x1="146.6" y1="385.2" x2="166.5" y2="385.2" stroke="#262626"/>
<line x1="144.9" y1="378.9" x2="144.9" y2="383.7" stroke="#262626"/>
<line x1="144.9" y1="378.9" x2="166.5" y2="378.9" stroke="#262626"/>
<line x1="144.9" y1="383.7" x2="146.6" y2="383.7" stroke="#262626"/>
<line x1="142.1" y1="381.3" x2="142.1" y2="388.7" stroke="#262626"/>
<line x1="142.1" y1="381.3" x2="144.9" y2="381.3" stroke="#262626"/>
<line x1="142.1" y1="388.7" x2="166.5" y2="388.7" stroke="#262626"/>
<line x1="149.3" y1="396.6" x2="149.3" y2="398.9" stroke="#262626"/>
<line x1="149.3" y1="396.6" x2="166.5" y2="396.6" stroke="#262626"/>
<line x1="149.3" y1="398.9" x2="166.5" y2="398.9" stroke="#262626"/>
<line x1="147.8" y1="393.0" x2="147.8" y2="397.8" stroke="#262626"/>
<line x1="147.8" y1="393.0" x2="166.5" y2="393.0" stroke="#262626"/>
<line x1="147.8" y1="397.8" x2="149.3" y2="397.8" stroke="#262626"/>
<line x1="136.6" y1="385.0" x2="136.6" y2="395.4" stroke="#262626"/>
<line x1="136.6" y1="385.0" x2="142.1" y2="385.0" stroke="#262626"/>
<line x1="136.6" y1="395.4" x2="147.8" y2="395.4" stroke="#262626"/>
<line x1="121.0" y1="355.0" x2="121.0" y2="390.2" stroke="#262626"/>
<line x1="121.0" y1="355.0" x2="132.7" y2="355.0" stroke="#262626"/>
<line x1="121.0" y1="390.2" x2="136.6" y2="390.2" stroke="#262626"/>
<line x1="148.8" y1="401.3" x2="148.8" y2="404.0" stroke="#262626"/>
<line x1="148.8" y1="401.3" x2="166.5" y2="401.3" stroke="#262626"/>
<line x1="148.8" y1="404.0" x2="166.5" y2="404.0" stroke="#262626"/>
<line x1="151.5" y1="406.7" x2="151.5" y2="410.1" stroke="#262626"/>
<line x1="151.5" y1="406.7" x2="166.5" y2="406.7" stroke="#262626"/>
<line x1="151.5" y1="410.1" x2="166.5" y2="410.1" stroke="#262626"/>
<line x1="147.3" y1="402.6" x2="147.3" y2="408.4" stroke="#262626"/>
<line x1="147.3" y1="402.6" x2="148.8" y2="402.6" stroke="#262626"/>
<line x1="147.3" y1="408.4" x2="151.5" y2="408.4" stroke="#262626"/>
<line x1="147.2" y1="416.3" x2="147.2" y2="418.9" stroke="#262626"/>
<line x1="147.2" y1="416.3" x2="166.5" y2="416.3" stroke="#262626"/>
<line x1="147.2" y1="418.9" x2="166.5" y2="418.9" stroke="#262626"/>
<line x1="145.7" y1="413.6" x2="145.7" y2="417.6" stroke="#262626"/>
<line x1="145.7" y1="413.6" x2="166.5" y2="413.6" stroke="#262626"/>
<line x1="145.7" y1="417.6" x2="147.2" y2="417.6" stroke="#262626"/>
<line x1="144.2" y1="415.6" x2="144.2" y2="422.1" stroke="#262626"/>
<line x1="144.2" y1="415.6" x2="145.7" y2="415.6" stroke="#262626"/>
<line x1="144.2" y1="422.1" x2="166.5" y2="422.1" stroke="#262626"/>
<line x1="142.4" y1="418.8" x2="142.4" y2="426.0" stroke="#262626"/>
<line x1="142.4" y1="418.8" x2="144.2" y2="418.8" stroke="#262626"/>
<line x1="142.4" y1="426.0" x2="166.5" y2="426.0" stroke="#262626"/>
<line x1="140.9" y1="405.5" x2="140.9" y2="422.4" stroke="#262626"/>
<line x1="140.9" y1="405.5" x2="147.3" y2="405.5" stroke="#262626"/>
<line x1="140.9" y1="422.4" x2="142.4" y2="422.4" stroke="#262626"/>
<line x1="119.5" y1="372.6" x2="119.5" y2="414.0" stroke="#262626"/>
<line x1="119.5" y1="372.6" x2="121.0" y2="372.6" stroke="#262626"/>
<line x1="119.5" y1="414.0" x2="140.9" y2="414.0" stroke="#262626"/>
<line x1="145.8" y1="429.7" x2="145.8" y2="433.3" stroke="#262626"/>
<line x1="145.8" y1="429.7" x2="166.5" y2="429.7" stroke="#262626"/>
<line x1="145.8" y1="433.3" x2="166.5" y2="433.3" stroke="#262626"/>
<line x1="143.7" y1="431.5" x2="143.7" y2="436.6" stroke="#262626"/>
<line x1="143.7" y1="431.5" x2="145.8" y2="431.5" stroke="#262626"/>
<line x1="143.7" y1="436.6" x2="166.5" y2="436.6" stroke="#262626"/>
<line x1="150.8" y1="442.4" x2="150.8" y2="445.6" stroke="#262626"/>
<line x1="150.8" y1="442.4" x2="166.5" y2="442.4" stroke="#262626"/>
<line x1="150.8" y1="445.6" x2="166.5" y2="445.6" stroke="#262626"/>
<line x1="148.8" y1="439.5" x2="148.8" y2="444.0" stroke="#262626"/>
<line x1="148.8" y1="439.5" x2="166.5" y2="439.5" stroke="#262626"/>
<line x1="148.8" y1="444.0" x2="150.8" y2="444.0" stroke="#262626"/>
<line x1="140.2" y1="434.1" x2="140.2" y2="441.8" stroke="#262626"/>
<line x1="140.2" y1="434.1" x2="143.7" y2="434.1" stroke="#262626"/>
<line x1="140.2" y1="441.8" x2="148.8" y2="441.8" stroke="#262626"/>
<line x1="153.2" y1="448.7" x2="153.2" y2="451.1" stroke="#262626"/>
<line x1="153.2" y1="448.7" x2="166.5" y2="448.7" stroke="#262626"/>
<line x1="153.2" y1="451.1" x2="166.5" y2="451.1" stroke="#262626"/>
<line x1="149.9" y1="453.5" x2="149.9" y2="456.5" stroke="#262626"/>
<line x1="149.9" y1="453.5" x2="166.5" y2="453.5" stroke="#262626"/>
<line x1="149.9" y1="456.5" x2="166.5" y2="456.5" stroke="#262626"/>
<line x1="146.7" y1="455.0" x2="146.7" y2="459.5" stroke="#262626"/>
<line x1="146.7" y1="455.0" x2="149.9" y2="455.0" stroke="#262626"/>
<line x1="146.7" y1="459.5" x2="166.5" y2="459.5" stroke="#262626"/>
<line x1="140.5" y1="449.9" x2="140.5" y2="457.3" stroke="#262626"/>
<line x1="140.5" y1="449.9" x2="153.2" y2="449.9" stroke="#262626"/>
<line x1="140.5" y1="457.3" x2="146.7" y2="457.3" stroke="#262626"/>
<line x1="136.9" y1="437.9" x2="136.9" y2="453.6" stroke="#262626"/>
<line x1="136.9" y1="437.9" x2="140.2" y2="437.9" stroke="#262626"/>
<line x1="136.9" y1="453.6" x2="140.5" y2="453.6" stroke="#262626"/>
<line x1="149.0" y1="462.5" x2="149.0" y2="465.7" stroke="#262626"/>
<line x1="149.0" y1="462.5" x2="166.5" y2="462.5" stroke="#262626"/>
<line x1="149.0" y1="465.7" x2="166.5" y2="465.7" stroke="#262626"/>
<line x1="146.8" y1="464.1" x2="146.8" y2="468.6" stroke="#262626"/>
<line x1="146.8" y1="464.1" x2="149.0" y2="464.1" stroke="#262626"/>
<line x1="146.8" y1="468.6" x2="166.5" y2="468.6" stroke="#262626"/>
<line x1="135.4" y1="445.8" x2="135.4" y2="466.4" stroke="#262626"/>
<line x1="135.4" y1="445.8" x2="136.9" y2="445.8" stroke="#262626"/>
<line x1="135.4" y1="466.4" x2="146.8" y2="466.4" stroke="#262626"/>
<line x1="117.9" y1="393.3" x2="117.9" y2="456.1" stroke="#262626"/>
<line x1="117.9" y1="393.3" x2="119.5" y2="393.3" stroke="#262626"/>
<line x1="117.9" y1="456.1" x2="135.4" y2="456.1" stroke="#262626"/>
<line x1="88.5" y1="220.1" x2="88.5" y2="424.7" stroke="#262626"/>
<line x1="88.5" y1="220.1" x2="100.2" y2="220.1" stroke="#262626"/>
<line x1="88.5" y1="424.7" x2="117.9" y2="424.7" stroke="#262626"/>
<line x1="86.0" y1="127.8" x2="86.0" y2="322.4" stroke="#262626"/>
<line x1="86.0" y1="127.8" x2="150.0" y2="127.8" stroke="#262626"/>
<line x1="86.0" y1="322.4" x2="88.5" y2="322.4" stroke="#262626"/>
<line x1="149.8" y1="474.0" x2="149.8" y2="476.3" stroke="#262626"/>
<line x1="149.8" y1="474.0" x2="166.5" y2="474.0" stroke="#262626"/>
<line x1="149.8" y1="476.3" x2="166.5" y2="476.3" stroke="#262626"/>
<line x1="148.1" y1="471.4" x2="148.1" y2="475.2" stroke="#262626"/>
<line x1="148.1" y1="471.4" x2="166.5" y2="471.4" stroke="#262626"/>
<line x1="148.1" y1="475.2" x2="149.8" y2="475.2" stroke="#262626"/>
<line x1="146.6" y1="473.3" x2="146.6" y2="479.0" stroke="#262626"/>
<line x1="146.6" y1="473.3" x2="148.1" y2="473.3" stroke="#262626"/>
<line x1="146.6" y1="479.0" x2="166.5" y2="479.0" stroke="#262626"/>
<line x1="152.3" y1="484.7" x2="152.3" y2="487.2" stroke="#262626"/>
<line x1="152.3" y1="484.7" x2="166.5" y2="484.7" stroke="#262626"/>
<line x1="152.3" y1="487.2" x2="166.5" y2="487.2" stroke="#262626"/>
<line x1="149.8" y1="482.0" x2="149.8" y2="486.0" stroke="#262626"/>
<line x1="149.8" y1="482.0" x2="166.5" y2="482.0" stroke="#262626"/>
<line x1="149.8" y1="486.0" x2="152.3" y2="486.0" stroke="#262626"/>
<line x1="143.1" y1="484.0" x2="143.1" y2="490.2" stroke="#262626"/>
<line x1="143.1" y1="484.0" x2="149.8" y2="484.0" stroke="#262626"/>
<line x1="143.1" y1="490.2" x2="166.5" y2="490.2" stroke="#262626"/>
<line x1="149.0" y1="493.5" x2="149.0" y2="496.0" stroke="#262626"/>
<line x1="149.0" y1="493.5" x2="166.5" y2="493.5" stroke="#262626"/>
<line x1="149.0" y1="496.0" x2="166.5" y2="496.0" stroke="#262626"/>
<line x1="151.1" y1="498.5" x2="151.1" y2="501.0" stroke="#262626"/>
<line x1="151.1" y1="498.5" x2="166.5" y2="498.5" stroke="#262626"/>
<line x1="151.1" y1="501.0" x2="166.5" y2="501.0" stroke="#262626"/>
<line x1="145.4" y1="494.7" x2="145.4" y2="499.8" stroke="#262626"/>
<line x1="145.4" y1="494.7" x2="149.0" y2="494.7" stroke="#262626"/>
<line x1="145.4" y1="499.8" x2="151.1" y2="499.8" stroke="#262626"/>
<line x1="140.1" y1="487.1" x2="140.1" y2="497.2" stroke="#262626"/>
<line x1="140.1" y1="487.1" x2="143.1" y2="487.1" stroke="#262626"/>
<line x1="140.1" y1="497.2" x2="145.4" y2="497.2" stroke="#262626"/>
<line x1="149.0" y1="503.6" x2="149.0" y2="506.9" stroke="#262626"/>
<line x1="149.0" y1="503.6" x2="166.5" y2="503.6" stroke="#262626"/>
<line x1="149.0" y1="506.9" x2="166.5" y2="506.9" stroke="#262626"/>
<line x1="146.2" y1="505.2" x2="146.2" y2="510.6" stroke="#262626"/>
<line x1="146.2" y1="505.2" x2="149.0" y2="505.2" stroke="#262626"/>
<line x1="146.2" y1="510.6" x2="166.5" y2="510.6" stroke="#262626"/>
<line x1="148.4" y1="513.9" x2="148.4" y2="516.2" stroke="#262626"/>
<line x1="148.4" y1="513.9" x2="166.5" y2="513.9" stroke="#262626"/>
<line x1="148.4" y1="516.2" x2="166.5" y2="516.2" stroke="#262626"/>
<line x1="146.9" y1="515.1" x2="146.9" y2="518.6" stroke="#262626"/>
<line x1="146.9" y1="515.1" x2="148.4" y2="515.1" stroke="#262626"/>
<line x1="146.9" y1="518.6" x2="166.5" y2="518.6" stroke="#262626"/>
<line x1="145.4" y1="516.8" x2="145.4" y2="521.3" stroke="#262626"/>
<line x1="145.4" y1="516.8" x2="146.9" y2="516.8" stroke="#262626"/>
<line x1="145.4" y1="521.3" x2="166.5" y2="521.3" stroke="#262626"/>
<line x1="136.0" y1="507.9" x2="136.0" y2="519.1" stroke="#262626"/>
<line x1="136.0" y1="507.9" x2="146.2" y2="507.9" stroke="#262626"/>
<line x1="136.0" y1="519.1" x2="145.4" y2="519.1" stroke="#262626"/>
<line x1="128.7" y1="492.2" x2="128.7" y2="513.5" stroke="#262626"/>
<line x1="128.7" y1="492.2" x2="140.1" y2="492.2" stroke="#262626"/>
<line x1="128.7" y1="513.5" x2="136.0" y2="513.5" stroke="#262626"/>
<line x1="127.2" y1="476.1" x2="127.2" y2="502.8" stroke="#262626"/>
<line x1="127.2" y1="476.1" x2="146.6" y2="476.1" stroke="#262626"/>
<line x1="127.2" y1="502.8" x2="128.7" y2="502.8" stroke="#262626"/>
<line x1="149.3" y1="534.2" x2="149.3" y2="536.6" stroke="#262626"/>
<line x1="149.3" y1="534.2" x2="166.5" y2="534.2" stroke="#262626"/>
<line x1="149.3" y1="536.6" x2="166.5" y2="536.6" stroke="#262626"/>
<line x1="145.5" y1="531.5" x2="145.5" y2="535.4" stroke="#262626"/>
<line x1="145.5" y1="531.5" x2="166.5" y2="531.5" stroke="#262626"/>
<line x1="145.5" y1="535.4" x2="149.3" y2="535.4" stroke="#262626"/>
<line x1="144.0" y1="528.2" x2="144.0" y2="533.5" stroke="#262626"/>
<line x1="144.0" y1="528.2" x2="166.5" y2="528.2" stroke="#262626"/>
<line x1="144.0" y1="533.5" x2="145.5" y2="533.5" stroke="#262626"/>
<line x1="141.3" y1="524.5" x2="141.3" y2="530.9" stroke="#262626"/>
<line x1="141.3" y1="524.5" x2="166.5" y2="524.5" stroke="#262626"/>
<line x1="141.3" y1="530.9" x2="144.0" y2="530.9" stroke="#262626"/>
<line x1="152.9" y1="541.8" x2="152.9" y2="544.1" stroke="#262626"/>
<line x1="152.9" y1="541.8" x2="166.5" y2="541.8" stroke="#262626"/>
<line x1="152.9" y1="544.1" x2="166.5" y2="544.1" stroke="#262626"/>
<line x1="145.2" y1="543.0" x2="145.2" y2="546.4" stroke="#262626"/>
<line x1="145.2" y1="543.0" x2="152.9" y2="543.0" stroke="#262626"/>
<line x1="145.2" y1="546.4" x2="166.5" y2="546.4" stroke="#262626"/>
<line x1="143.7" y1="539.0" x2="143.7" y2="544.7" stroke="#262626"/>
<line x1="143.7" y1="539.0" x2="166.5" y2="539.0" stroke="#262626"/>
<line x1="143.7" y1="544.7" x2="145.2" y2="544.7" stroke="#262626"/>
<line x1="145.3" y1="549.5" x2="145.3" y2="552.9" stroke="#262626"/>
<line x1="145.3" y1="549.5" x2="166.5" y2="549.5" stroke="#262626"/>
<line x1="145.3" y1="552.9" x2="166.5" y2="552.9" stroke="#262626"/>
<line x1="138.9" y1="541.9" x2="138.9" y2="551.2" stroke="#262626"/>
<line x1="138.9" y1="541.9" x2="143.7" y2="541.9" stroke="#262626"/>
<line x1="138.9" y1="551.2" x2="145.3" y2="551.2" stroke="#262626"/>
<line x1="137.4" y1="527.7" x2="137.4" y2="546.5" stroke="#262626"/>
<line x1="137.4" y1="527.7" x2="141.3" y2="527.7" stroke="#262626"/>
<line x1="137.4" y1="546.5" x2="138.9" y2="546.5" stroke="#262626"/>
<line x1="148.9" y1="558.8" x2="148.9" y2="561.4" stroke="#262626"/>
<line x1="148.9" y1="558.8" x2="166.5" y2="558.8" stroke="#262626"/>
<line x1="148.9" y1="561.4" x2="166.5" y2="561.4" stroke="#262626"/>
<line x1="147.4" y1="556.1" x2="147.4" y2="560.1" stroke="#262626"/>
<line x1="147.4" y1="556.1" x2="166.5" y2="556.1" stroke="#262626"/>
<line x1="147.4" y1="560.1" x2="148.9" y2="560.1" stroke="#262626"/>
<line x1="152.6" y1="564.2" x2="152.6" y2="567.4" stroke="#262626"/>
<line x1="152.6" y1="564.2" x2="166.5" y2="564.2" stroke="#262626"/>
<line x1="152.6" y1="567.4" x2="166.5" y2="567.4" stroke="#262626"/>
<line x1="149.3" y1="570.4" x2="149.3" y2="573.2" stroke="#262626"/>
<line x1="149.3" y1="570.4" x2="166.5" y2="570.4" stroke="#262626"/>
<line x1="149.3" y1="573.2" x2="166.5" y2="573.2" stroke="#262626"/>
<line x1="145.0" y1="565.8" x2="145.0" y2="571.8" stroke="#262626"/>
<line x1="145.0" y1="565.8" x2="152.6" y2="565.8" stroke="#262626"/>
<line x1="145.0" y1="571.8" x2="149.3" y2="571.8" stroke="#262626"/>
<line x1="143.5" y1="558.1" x2="143.5" y2="568.8" stroke="#262626"/>
<line x1="143.5" y1="558.1" x2="147.4" y2="558.1" stroke="#262626"/>
<line x1="143.5" y1="568.8" x2="145.0" y2="568.8" stroke="#262626"/>
<line x1="153.8" y1="578.7" x2="153.8" y2="581.1" stroke="#262626"/>
<line x1="153.8" y1="578.7" x2="166.5" y2="578.7" stroke="#262626"/>
<line x1="153.8" y1="581.1" x2="166.5" y2="581.1" stroke="#262626"/>
<line x1="146.2" y1="576.0" x2="146.2" y2="579.9" stroke="#262626"/>
<line x1="146.2" y1="576.0" x2="166.5" y2="576.0" stroke="#262626"/>
<line x1="146.2" y1="579.9" x2="153.8" y2="579.9" stroke="#262626"/>
<line x1="144.7" y1="577.9" x2="144.7" y2="583.5" stroke="#262626"/>
<line x1="144.7" y1="577.9" x2="146.2" y2="577.9" stroke="#262626"/>
<line x1="144.7" y1="583.5" x2="166.5" y2="583.5" stroke="#262626"/>
<line x1="151.2" y1="586.2" x2="151.2" y2="588.7" stroke="#262626"/>
<line x1="151.2" y1="586.2" x2="166.5" y2="586.2" stroke="#262626"/>
<line x1="151.2" y1="588.7" x2="166.5" y2="588.7" stroke="#262626"/>
<line x1="139.3" y1="580.7" x2="139.3" y2="587.5" stroke="#262626"/>
<line x1="139.3" y1="580.7" x2="144.7" y2="580.7" stroke="#262626"/>
<line x1="139.3" y1="587.5" x2="151.2" y2="587.5" stroke="#262626"/>
<line x1="137.8" y1="584.1" x2="137.8" y2="591.8" stroke="#262626"/>
<line x1="137.8" y1="584.1" x2="139.3" y2="584.1" stroke="#262626"/>
<line x1="137.8" y1="591.8" x2="166.5" y2="591.8" stroke="#262626"/>
<line x1="136.3" y1="563.4" x2="136.3" y2="588.0" stroke="#262626"/>
<line x1="136.3" y1="563.4" x2="143.5" y2="563.4" stroke="#262626"/>
<line x1="136.3" y1="588.0" x2="137.8" y2="588.0" stroke="#262626"/>
<line x1="152.9" y1="595.2" x2="152.9" y2="597.9" stroke="#262626"/>
<line x1="152.9" y1="595.2" x2="166.5" y2="595.2" stroke="#262626"/>
<line x1="152.9" y1="597.9" x2="166.5" y2="597.9" stroke="#262626"/>
<line x1="150.0" y1="600.6" x2="150.0" y2="602.9" stroke="#262626"/>
<line x1="150.0" y1="600.6" x2="166.5" y2="600.6" stroke="#262626"/>
<line x1="150.0" y1="602.9" x2="166.5" y2="602.9" stroke="#262626"/>
<line x1="146.9" y1="596.6" x2="146.9" y2="601.8" stroke="#262626"/>
<line x1="146.9" y1="596.6" x2="152.9" y2="596.6" stroke="#262626"/>
<line x1="146.9" y1="601.8" x2="150.0" y2="601.8" stroke="#262626"/>
<line x1="145.4" y1="599.2" x2="145.4" y2="605.6" stroke="#262626"/>
<line x1="145.4" y1="599.2" x2="146.9" y2="599.2" stroke="#262626"/>
<line x1="145.4" y1="605.6" x2="166.5" y2="605.6" stroke="#262626"/>
<line x1="151.7" y1="612.2" x2="151.7" y2="615.8" stroke="#262626"/>
<line x1="151.7" y1="612.2" x2="166.5" y2="612.2" stroke="#262626"/>
<line x1="151.7" y1="615.8" x2="166.5" y2="615.8" stroke="#262626"/>
<line x1="143.5" y1="608.6" x2="143.5" y2="614.0" stroke="#262626"/>
<line x1="143.5" y1="608.6" x2="166.5" y2="608.6" stroke="#262626"/>
<line x1="143.5" y1="614.0" x2="151.7" y2="614.0" stroke="#262626"/>
<line x1="152.1" y1="618.5" x2="152.1" y2="620.8" stroke="#262626"/>
<line x1="152.1" y1="618.5" x2="166.5" y2="618.5" stroke="#262626"/>
<line x1="152.1" y1="620.8" x2="166.5" y2="620.8" stroke="#262626"/>
<line x1="142.0" y1="611.3" x2="142.0" y2="619.6" stroke="#262626"/>
<line x1="142.0" y1="611.3" x2="143.5" y2="611.3" stroke="#262626"/>
<line x1="142.0" y1="619.6" x2="152.1" y2="619.6" stroke="#262626"/>
<line x1="150.5" y1="625.9" x2="150.5" y2="628.4" stroke="#262626"/>
<line x1="150.5" y1="625.9" x2="166.5" y2="625.9" stroke="#262626"/>
<line x1="150.5" y1="628.4" x2="166.5" y2="628.4" stroke="#262626"/>
<line x1="149.0" y1="623.1" x2="149.0" y2="627.1" stroke="#262626"/>
<line x1="149.0" y1="623.1" x2="166.5" y2="623.1" stroke="#262626"/>
<line x1="149.0" y1="627.1" x2="150.5" y2="627.1" stroke="#262626"/>
<line x1="147.5" y1="625.1" x2="147.5" y2="630.9" stroke="#262626"/>
<line x1="147.5" y1="625.1" x2="149.0" y2="625.1" stroke="#262626"/>
<line x1="147.5" y1="630.9" x2="166.5" y2="630.9" stroke="#262626"/>
<line x1="140.5" y1="615.4" x2="140.5" y2="628.0" stroke="#262626"/>
<line x1="140.5" y1="615.4" x2="142.0" y2="615.4" stroke="#262626"/>
<line x1="140.5" y1="628.0" x2="147.5" y2="628.0" stroke="#262626"/>
<line x1="151.8" y1="636.3" x2="151.8" y2="638.8" stroke="#262626"/>
<line x1="151.8" y1="636.3" x2="166.5" y2="636.3" stroke="#262626"/>
<line x1="151.8" y1="638.8" x2="166.5" y2="638.8" stroke="#262626"/>
<line x1="149.5" y1="633.6" x2="149.5" y2="637.5" stroke="#262626"/>
<line x1="149.5" y1="633.6" x2="166.5" y2="633.6" stroke="#262626"/>
<line x1="149.5" y1="637.5" x2="151.8" y2="637.5" stroke="#262626"/>
<line x1="132.8" y1="621.7" x2="132.8" y2="635.6" stroke="#262626"/>
<line x1="132.8" y1="621.7" x2="140.5" y2="621.7" stroke="#262626"/>
<line x1="132.8" y1="635.6" x2="149.5" y2="635.6" stroke="#262626"/>
<line x1="131.3" y1="602.4" x2="131.3" y2="628.6" stroke="#262626"/>
<line x1="131.3" y1="602.4" x2="145.4" y2="602.4" stroke="#262626"/>
<line x1="131.3" y1="628.6" x2="132.8" y2="628.6" stroke="#262626"/>
<line x1="123.8" y1="575.7" x2="123.8" y2="615.5" stroke="#262626"/>
<line x1="123.8" y1="575.7" x2="136.3" y2="575.7" stroke="#262626"/>
<line x1="123.8" y1="615.5" x2="131.3" y2="615.5" stroke="#262626"/>
<line x1="122.3" y1="537.1" x2="122.3" y2="595.6" stroke="#262626"/>
<line x1="122.3" y1="537.1" x2="137.4" y2="537.1" stroke="#262626"/>
<line x1="122.3" y1="595.6" x2="123.8" y2="595.6" stroke="#262626"/>
<line x1="99.0" y1="489.5" x2="99.0" y2="566.4" stroke="#262626"/>
<line x1="99.0" y1="489.5" x2="127.2" y2="489.5" stroke="#262626"/>
<line x1="99.0" y1="566.4" x2="122.3" y2="566.4" stroke="#262626"/>
<line x1="149.2" y1="644.1" x2="149.2" y2="646.6" stroke="#262626"/>
<line x1="149.2" y1="644.1" x2="166.5" y2="644.1" stroke="#262626"/>
<line x1="149.2" y1="646.6" x2="166.5" y2="646.6" stroke="#262626"/>
<line x1="147.7" y1="641.4" x2="147.7" y2="645.3" stroke="#262626"/>
<line x1="147.7" y1="641.4" x2="166.5" y2="641.4" stroke="#262626"/>
<line x1="147.7" y1="645.3" x2="149.2" y2="645.3" stroke="#262626"/>
<line x1="153.5" y1="653.5" x2="153.5" y2="655.8" stroke="#262626"/>
<line x1="153.5" y1="653.5" x2="166.5" y2="653.5" stroke="#262626"/>
<line x1="153.5" y1="655.8" x2="166.5" y2="655.8" stroke="#262626"/>
<line x1="144.5" y1="650.0" x2="144.5" y2="654.7" stroke="#262626"/>
<line x1="144.5" y1="650.0" x2="166.5" y2="650.0" stroke="#262626"/>
<line x1="144.5" y1="654.7" x2="153.5" y2="654.7" stroke="#262626"/>
<line x1="151.9" y1="658.2" x2="151.9" y2="660.5" stroke="#262626"/>
<line x1="151.9" y1="658.2" x2="166.5" y2="658.2" stroke="#262626"/>
<line x1="151.9" y1="660.5" x2="166.5" y2="660.5" stroke="#262626"/>
<line x1="150.0" y1="662.7" x2="150.0" y2="665.0" stroke="#262626"/>
<line x1="150.0" y1="662.7" x2="166.5" y2="662.7" stroke="#262626"/>
<line x1="150.0" y1="665.0" x2="166.5" y2="665.0" stroke="#262626"/>
<line x1="143.2" y1="659.3" x2="143.2" y2="663.9" stroke="#262626"/>
<line x1="143.2" y1="659.3" x2="151.9" y2="659.3" stroke="#262626"/>
<line x1="143.2" y1="663.9" x2="150.0" y2="663.9" stroke="#262626"/>
<line x1="147.8" y1="672.2" x2="147.8" y2="675.4" stroke="#262626"/>
<line x1="147.8" y1="672.2" x2="166.5" y2="672.2" stroke="#262626"/>
<line x1="147.8" y1="675.4" x2="166.5" y2="675.4" stroke="#262626"/>
<line x1="144.7" y1="668.2" x2="144.7" y2="673.8" stroke="#262626"/>
<line x1="144.7" y1="668.2" x2="166.5" y2="668.2" stroke="#262626"/>
<line x1="144.7" y1="673.8" x2="147.8" y2="673.8" stroke="#262626"/>
<line x1="141.7" y1="661.6" x2="141.7" y2="671.0" stroke="#262626"/>
<line x1="141.7" y1="661.6" x2="143.2" y2="661.6" stroke="#262626"/>
<line x1="141.7" y1="671.0" x2="144.7" y2="671.0" stroke="#262626"/>
<line x1="139.0" y1="652.3" x2="139.0" y2="666.3" stroke="#262626"/>
<line x1="139.0" y1="652.3" x2="144.5" y2="652.3" stroke="#262626"/>
<line x1="139.0" y1="666.3" x2="141.7" y2="666.3" stroke="#262626"/>
<line x1="137.5" y1="643.3" x2="137.5" y2="659.3" stroke="#262626"/>
<line x1="137.5" y1="643.3" x2="147.7" y2="643.3" stroke="#262626"/>
<line x1="137.5" y1="659.3" x2="139.0" y2="659.3" stroke="#262626"/>
<line x1="153.8" y1="684.4" x2="153.8" y2="686.6" stroke="#262626"/>
<line x1="153.8" y1="684.4" x2="166.5" y2="684.4" stroke="#262626"/>
<line x1="153.8" y1="686.6" x2="166.5" y2="686.6" stroke="#262626"/>
<line x1="146.1" y1="681.7" x2="146.1" y2="685.5" stroke="#262626"/>
<line x1="146.1" y1="681.7" x2="166.5" y2="681.7" stroke="#262626"/>
<line x1="146.1" y1="685.5" x2="153.8" y2="685.5" stroke="#262626"/>
<line x1="142.4" y1="683.6" x2="142.4" y2="689.5" stroke="#262626"/>
<line x1="142.4" y1="683.6" x2="146.1" y2="683.6" stroke="#262626"/>
<line x1="142.4" y1="689.5" x2="166.5" y2="689.5" stroke="#262626"/>
<line x1="140.9" y1="678.5" x2="140.9" y2="686.6" stroke="#262626"/>
<line x1="140.9" y1="678.5" x2="166.5" y2="678.5" stroke="#262626"/>
<line x1="140.9" y1="686.6" x2="142.4" y2="686.6" stroke="#262626"/>
<line x1="151.1" y1="692.9" x2="151.1" y2="695.3" stroke="#262626"/>
<line x1="151.1" y1="692.9" x2="166.5" y2="692.9" stroke="#262626"/>
<line x1="151.1" y1="695.3" x2="166.5" y2="695.3" stroke="#262626"/>
<line x1="150.8" y1="700.7" x2="150.8" y2="704.0" stroke="#262626"/>
<line x1="150.8" y1="700.7" x2="166.5" y2="700.7" stroke="#262626"/>
<line x1="150.8" y1="704.0" x2="166.5" y2="704.0" stroke="#262626"/>
<line x1="143.2" y1="697.8" x2="143.2" y2="702.4" stroke="#262626"/>
<line x1="143.2" y1="697.8" x2="166.5" y2="697.8" stroke="#262626"/>
<line x1="143.2" y1="702.4" x2="150.8" y2="702.4" stroke="#262626"/>
<line x1="139.4" y1="694.1" x2="139.4" y2="700.1" stroke="#262626"/>
<line x1="139.4" y1="694.1" x2="151.1" y2="694.1" stroke="#262626"/>
<line x1="139.4" y1="700.1" x2="143.2" y2="700.1" stroke="#262626"/>
<line x1="150.9" y1="711.5" x2="150.9" y2="714.4" stroke="#262626"/>
<line x1="150.9" y1="711.5" x2="166.5" y2="711.5" stroke="#262626"/>
<line x1="150.9" y1="714.4" x2="166.5" y2="714.4" stroke="#262626"/>
<line x1="149.4" y1="712.9" x2="149.4" y2="717.2" stroke="#262626"/>
<line x1="149.4" y1="712.9" x2="150.9" y2="712.9" stroke="#262626"/>
<line x1="149.4" y1="717.2" x2="166.5" y2="717.2" stroke="#262626"/>
<line x1="145.6" y1="708.0" x2="145.6" y2="715.1" stroke="#262626"/>
<line x1="145.6" y1="708.0" x2="166.5" y2="708.0" stroke="#262626"/>
<line x1="145.6" y1="715.1" x2="149.4" y2="715.1" stroke="#262626"/>
<line x1="152.1" y1="719.9" x2="152.1" y2="722.7" stroke="#262626"/>
<line x1="152.1" y1="719.9" x2="166.5" y2="719.9" stroke="#262626"/>
<line x1="152.1" y1="722.7" x2="166.5" y2="722.7" stroke="#262626"/>
<line x1="153.1" y1="725.6" x2="153.1" y2="728.5" stroke="#262626"/>
<line x1="153.1" y1="725.6" x2="166.5" y2="725.6" stroke="#262626"/>
<line x1="153.1" y1="728.5" x2="166.5" y2="728.5" stroke="#262626"/>
<line x1="147.4" y1="721.3" x2="147.4" y2="727.1" stroke="#262626"/>
<line x1="147.4" y1="721.3" x2="152.1" y2="721.3" stroke="#262626"/>
<line x1="147.4" y1="727.1" x2="153.1" y2="727.1" stroke="#262626"/>
<line x1="143.5" y1="711.5" x2="143.5" y2="724.2" stroke="#262626"/>
<line x1="143.5" y1="711.5" x2="145.6" y2="711.5" stroke="#262626"/>
<line x1="143.5" y1="724.2" x2="147.4" y2="724.2" stroke="#262626"/>
<line x1="135.5" y1="697.1" x2="135.5" y2="717.9" stroke="#262626"/>
<line x1="135.5" y1="697.1" x2="139.4" y2="697.1" stroke="#262626"/>
<line x1="135.5" y1="717.9" x2="143.5" y2="717.9" stroke="#262626"/>
<line x1="134.0" y1="682.6" x2="134.0" y2="707.5" stroke="#262626"/>
<line x1="134.0" y1="682.6" x2="140.9" y2="682.6" stroke="#262626"/>
<line x1="134.0" y1="707.5" x2="135.5" y2="707.5" stroke="#262626"/>
<line x1="106.0" y1="651.3" x2="106.0" y2="695.0" stroke="#262626"/>
<line x1="106.0" y1="651.3" x2="137.5" y2="651.3" stroke="#262626"/>
<line x1="106.0" y1="695.0" x2="134.0" y2="695.0" stroke="#262626"/>
<line x1="149.2" y1="734.9" x2="149.2" y2="738.1" stroke="#262626"/>
<line x1="149.2" y1="734.9" x2="166.5" y2="734.9" stroke="#262626"/>
<line x1="149.2" y1="738.1" x2="166.5" y2="738.1" stroke="#262626"/>
<line x1="144.7" y1="731.6" x2="144.7" y2="736.5" stroke="#262626"/>
<line x1="144.7" y1="731.6" x2="166.5" y2="731.6" stroke="#262626"/>
<line x1="144.7" y1="736.5" x2="149.2" y2="736.5" stroke="#262626"/>
<line x1="150.7" y1="741.0" x2="150.7" y2="743.8" stroke="#262626"/>
<line x1="150.7" y1="741.0" x2="166.5" y2="741.0" stroke="#262626"/>
<line x1="150.7" y1="743.8" x2="166.5" y2="743.8" stroke="#262626"/>
<line x1="148.4" y1="742.4" x2="148.4" y2="746.9" stroke="#262626"/>
<line x1="148.4" y1="742.4" x2="150.7" y2="742.4" stroke="#262626"/>
<line x1="148.4" y1="746.9" x2="166.5" y2="746.9" stroke="#262626"/>
<line x1="151.8" y1="750.3" x2="151.8" y2="753.4" stroke="#262626"/>
<line x1="151.8" y1="750.3" x2="166.5" y2="750.3" stroke="#262626"/>
<line x1="151.8" y1="753.4" x2="166.5" y2="753.4" stroke="#262626"/>
<line x1="141.0" y1="744.6" x2="141.0" y2="751.9" stroke="#262626"/>
<line x1="141.0" y1="744.6" x2="148.4" y2="744.6" stroke="#262626"/>
<line x1="141.0" y1="751.9" x2="151.8" y2="751.9" stroke="#262626"/>
<line x1="137.2" y1="734.1" x2="137.2" y2="748.3" stroke="#262626"/>
<line x1="137.2" y1="734.1" x2="144.7" y2="734.1" stroke="#262626"/>
<line x1="137.2" y1="748.3" x2="141.0" y2="748.3" stroke="#262626"/>
<line x1="147.4" y1="756.5" x2="147.4" y2="759.5" stroke="#262626"/>
<line x1="147.4" y1="756.5" x2="166.5" y2="756.5" stroke="#262626"/>
<line x1="147.4" y1="759.5" x2="166.5" y2="759.5" stroke="#262626"/>
<line x1="151.1" y1="762.2" x2="151.1" y2="764.5" stroke="#262626"/>
<line x1="151.1" y1="762.2" x2="166.5" y2="762.2" stroke="#262626"/>
<line x1="151.1" y1="764.5" x2="166.5" y2="764.5" stroke="#262626"/>
<line x1="145.9" y1="758.0" x2="145.9" y2="763.4" stroke="#262626"/>
<line x1="145.9" y1="758.0" x2="147.4" y2="758.0" stroke="#262626"/>
<line x1="145.9" y1="763.4" x2="151.1" y2="763.4" stroke="#262626"/>
<line x1="140.5" y1="760.7" x2="140.5" y2="767.3" stroke="#262626"/>
<line x1="140.5" y1="760.7" x2="145.9" y2="760.7" stroke="#262626"/>
<line x1="140.5" y1="767.3" x2="166.5" y2="767.3" stroke="#262626"/>
<line x1="147.3" y1="771.0" x2="147.3" y2="774.1" stroke="#262626"/>
<line x1="147.3" y1="771.0" x2="166.5" y2="771.0" stroke="#262626"/>
<line x1="147.3" y1="774.1" x2="166.5" y2="774.1" stroke="#262626"/>
<line x1="139.0" y1="764.0" x2="139.0" y2="772.5" stroke="#262626"/>
<line x1="139.0" y1="764.0" x2="140.5" y2="764.0" stroke="#262626"/>
<line x1="139.0" y1="772.5" x2="147.3" y2="772.5" stroke="#262626"/>
<line x1="151.6" y1="776.8" x2="151.6" y2="780.1" stroke="#262626"/>
<line x1="151.6" y1="776.8" x2="166.5" y2="776.8" stroke="#262626"/>
<line x1="151.6" y1="780.1" x2="166.5" y2="780.1" stroke="#262626"/>
<line x1="148.1" y1="783.4" x2="148.1" y2="786.0" stroke="#262626"/>
<line x1="148.1" y1="783.4" x2="166.5" y2="783.4" stroke="#262626"/>
<line x1="148.1" y1="786.0" x2="166.5" y2="786.0" stroke="#262626"/>
<line x1="147.3" y1="789.4" x2="147.3" y2="793.2" stroke="#262626"/>
<line x1="147.3" y1="789.4" x2="166.5" y2="789.4" stroke="#262626"/>
<line x1="147.3" y1="793.2" x2="166.5" y2="793.2" stroke="#262626"/>
<line x1="143.4" y1="784.7" x2="143.4" y2="791.3" stroke="#262626"/>
<line x1="143.4" y1="784.7" x2="148.1" y2="784.7" stroke="#262626"/>
<line x1="143.4" y1="791.3" x2="147.3" y2="791.3" stroke="#262626"/>
<line x1="139.2" y1="778.4" x2="139.2" y2="788.0" stroke="#262626"/>
<line x1="139.2" y1="778.4" x2="151.6" y2="778.4" stroke="#262626"/>
<line x1="139.2" y1="788.0" x2="143.4" y2="788.0" stroke="#262626"/>
<line x1="147.6" y1="796.3" x2="147.6" y2="799.3" stroke="#262626"/>
<line x1="147.6" y1="796.3" x2="166.5" y2="796.3" stroke="#262626"/>
<line x1="147.6" y1="799.3" x2="166.5" y2="799.3" stroke="#262626"/>
<line x1="149.5" y1="802.6" x2="149.5" y2="805.7" stroke="#262626"/>
<line x1="149.5" y1="802.6" x2="166.5" y2="802.6" stroke="#262626"/>
<line x1="149.5" y1="805.7" x2="166.5" y2="805.7" stroke="#262626"/>
<line x1="144.6" y1="797.8" x2="144.6" y2="804.2" stroke="#262626"/>
<line x1="144.6" y1="797.8" x2="147.6" y2="797.8" stroke="#262626"/>
<line x1="144.6" y1="804.2" x2="149.5" y2="804.2" stroke="#262626"/>
<line x1="134.4" y1="783.2" x2="134.4" y2="801.0" stroke="#262626"/>
<line x1="134.4" y1="783.2" x2="139.2" y2="783.2" stroke="#262626"/>
<line x1="134.4" y1="801.0" x2="144.6" y2="801.0" stroke="#262626"/>
<line x1="152.4" y1="808.4" x2="152.4" y2="810.9" stroke="#262626"/>
<line x1="152.4" y1="808.4" x2="166.5" y2="808.4" stroke="#262626"/>
<line x1="152.4" y1="810.9" x2="166.5" y2="810.9" stroke="#262626"/>
<line x1="149.5" y1="821.2" x2="149.5" y2="823.6" stroke="#262626"/>
<line x1="149.5" y1="821.2" x2="166.5" y2="821.2" stroke="#262626"/>
<line x1="149.5" y1="823.6" x2="166.5" y2="823.6" stroke="#262626"/>
<line x1="144.9" y1="822.4" x2="144.9" y2="826.0" stroke="#262626"/>
<line x1="144.9" y1="822.4" x2="149.5" y2="822.4" stroke="#262626"/>
<line x1="144.9" y1="826.0" x2="166.5" y2="826.0" stroke="#262626"/>
<line x1="143.4" y1="817.8" x2="143.4" y2="824.2" stroke="#262626"/>
<line x1="143.4" y1="817.8" x2="166.5" y2="817.8" stroke="#262626"/>
<line x1="143.4" y1="824.2" x2="144.9" y2="824.2" stroke="#262626"/>
<line x1="141.9" y1="813.8" x2="141.9" y2="821.0" stroke="#262626"/>
<line x1="141.9" y1="813.8" x2="166.5" y2="813.8" stroke="#262626"/>
<line x1="141.9" y1="821.0" x2="143.4" y2="821.0" stroke="#262626"/>
<line x1="140.4" y1="809.6" x2="140.4" y2="817.4" stroke="#262626"/>
<line x1="140.4" y1="809.6" x2="152.4" y2="809.6" stroke="#262626"/>
<line x1="140.4" y1="817.4" x2="141.9" y2="817.4" stroke="#262626"/>
<line x1="128.0" y1="792.1" x2="128.0" y2="813.5" stroke="#262626"/>
<line x1="128.0" y1="792.1" x2="134.4" y2="792.1" stroke="#262626"/>
<line x1="128.0" y1="813.5" x2="140.4" y2="813.5" stroke="#262626"/>
<line x1="151.7" y1="829.4" x2="151.7" y2="832.9" stroke="#262626"/>
<line x1="151.7" y1="829.4" x2="166.5" y2="829.4" stroke="#262626"/>
<line x1="151.7" y1="832.9" x2="166.5" y2="832.9" stroke="#262626"/>
<line x1="152.0" y1="835.7" x2="152.0" y2="838.4" stroke="#262626"/>
<line x1="152.0" y1="835.7" x2="166.5" y2="835.7" stroke="#262626"/>
<line x1="152.0" y1="838.4" x2="166.5" y2="838.4" stroke="#262626"/>
<line x1="142.7" y1="831.2" x2="142.7" y2="837.0" stroke="#262626"/>
<line x1="142.7" y1="831.2" x2="151.7" y2="831.2" stroke="#262626"/>
<line x1="142.7" y1="837.0" x2="152.0" y2="837.0" stroke="#262626"/>
<line x1="148.9" y1="841.0" x2="148.9" y2="844.2" stroke="#262626"/>
<line x1="148.9" y1="841.0" x2="166.5" y2="841.0" stroke="#262626"/>
<line x1="148.9" y1="844.2" x2="166.5" y2="844.2" stroke="#262626"/>
<line x1="141.2" y1="834.1" x2="141.2" y2="842.6" stroke="#262626"/>
<line x1="141.2" y1="834.1" x2="142.7" y2="834.1" stroke="#262626"/>
<line x1="141.2" y1="842.6" x2="148.9" y2="842.6" stroke="#262626"/>
<line x1="126.5" y1="802.8" x2="126.5" y2="838.3" stroke="#262626"/>
<line x1="126.5" y1="802.8" x2="128.0" y2="802.8" stroke="#262626"/>
<line x1="126.5" y1="838.3" x2="141.2" y2="838.3" stroke="#262626"/>
<line x1="125.0" y1="768.3" x2="125.0" y2="820.6" stroke="#262626"/>
<line x1="125.0" y1="768.3" x2="139.0" y2="768.3" stroke="#262626"/>
<line x1="125.0" y1="820.6" x2="126.5" y2="820.6" stroke="#262626"/>
<line x1="106.0" y1="741.2" x2="106.0" y2="794.4" stroke="#262626"/>
<line x1="106.0" y1="741.2" x2="137.2" y2="741.2" stroke="#262626"/>
<line x1="106.0" y1="794.4" x2="125.0" y2="794.4" stroke="#262626"/>
<line x1="96.0" y1="673.2" x2="96.0" y2="767.8" stroke="#262626"/>
<line x1="96.0" y1="673.2" x2="106.0" y2="673.2" stroke="#262626"/>
<line x1="96.0" y1="767.8" x2="106.0" y2="767.8" stroke="#262626"/>
<line x1="81.0" y1="527.9" x2="81.0" y2="710.6" stroke="#262626"/>
<line x1="81.0" y1="527.9" x2="99.0" y2="527.9" stroke="#262626"/>
<line x1="81.0" y1="710.6" x2="96.0" y2="710.6" stroke="#262626"/>
<line x1="68.6" y1="215.8" x2="68.6" y2="590.6" stroke="#262626"/>
<line x1="68.6" y1="215.8" x2="86.0" y2="215.8" stroke="#262626"/>
<line x1="68.6" y1="590.6" x2="81.0" y2="590.6" stroke="#262626"/>
<line x1="66.0" y1="69.2" x2="66.0" y2="404.0" stroke="#262626"/>
<line x1="66.0" y1="69.2" x2="76.0" y2="69.2" stroke="#262626"/>
<line x1="66.0" y1="404.0" x2="68.6" y2="404.0" stroke="#262626"/>
<line x1="52.0" y1="54.3" x2="52.0" y2="236.0" stroke="#262626"/>
<line x1="52.0" y1="54.3" x2="97.0" y2="54.3" stroke="#262626"/>
<line x1="52.0" y1="236.0" x2="66.0" y2="236.0" stroke="#262626"/>
<line x1="147.2" y1="848.2" x2="147.2" y2="851.8" stroke="#262626"/>
<line x1="147.2" y1="848.2" x2="166.5" y2="848.2" stroke="#262626"/>
<line x1="147.2" y1="851.8" x2="166.5" y2="851.8" stroke="#262626"/>
<line x1="150.9" y1="854.6" x2="150.9" y2="857.0" stroke="#262626"/>
<line x1="150.9" y1="854.6" x2="166.5" y2="854.6" stroke="#262626"/>
<line x1="150.9" y1="857.0" x2="166.5" y2="857.0" stroke="#262626"/>
<line x1="100.0" y1="850.0" x2="100.0" y2="855.8" stroke="#262626"/>
<line x1="100.0" y1="850.0" x2="147.2" y2="850.0" stroke="#262626"/>
<line x1="100.0" y1="855.8" x2="150.9" y2="855.8" stroke="#262626"/>
<line x1="147.2" y1="866.3" x2="147.2" y2="869.1" stroke="#262626"/>
<line x1="147.2" y1="866.3" x2="166.5" y2="866.3" stroke="#262626"/>
<line x1="147.2" y1="869.1" x2="166.5" y2="869.1" stroke="#262626"/>
<line x1="145.7" y1="863.5" x2="145.7" y2="867.7" stroke="#262626"/>
<line x1="145.7" y1="863.5" x2="166.5" y2="863.5" stroke="#262626"/>
<line x1="145.7" y1="867.7" x2="147.2" y2="867.7" stroke="#262626"/>
<line x1="144.2" y1="865.6" x2="144.2" y2="871.9" stroke="#262626"/>
<line x1="144.2" y1="865.6" x2="145.7" y2="865.6" stroke="#262626"/>
<line x1="144.2" y1="871.9" x2="166.5" y2="871.9" stroke="#262626"/>
<line x1="140.1" y1="860.1" x2="140.1" y2="868.8" stroke="#262626"/>
<line x1="140.1" y1="860.1" x2="166.5" y2="860.1" stroke="#262626"/>
<line x1="140.1" y1="868.8" x2="144.2" y2="868.8" stroke="#262626"/>
<line x1="151.5" y1="874.7" x2="151.5" y2="877.8" stroke="#262626"/>
<line x1="151.5" y1="874.7" x2="166.5" y2="874.7" stroke="#262626"/>
<line x1="151.5" y1="877.8" x2="166.5" y2="877.8" stroke="#262626"/>
<line x1="150.8" y1="881.6" x2="150.8" y2="885.1" stroke="#262626"/>
<line x1="150.8" y1="881.6" x2="166.5" y2="881.6" stroke="#262626"/>
<line x1="150.8" y1="885.1" x2="166.5" y2="885.1" stroke="#262626"/>
<line x1="143.7" y1="876.3" x2="143.7" y2="883.3" stroke="#262626"/>
<line x1="143.7" y1="876.3" x2="151.5" y2="876.3" stroke="#262626"/>
<line x1="143.7" y1="883.3" x2="150.8" y2="883.3" stroke="#262626"/>
<line x1="142.2" y1="879.8" x2="142.2" y2="888.3" stroke="#262626"/>
<line x1="142.2" y1="879.8" x2="143.7" y2="879.8" stroke="#262626"/>
<line x1="142.2" y1="888.3" x2="166.5" y2="888.3" stroke="#262626"/>
<line x1="135.9" y1="864.4" x2="135.9" y2="884.0" stroke="#262626"/>
<line x1="135.9" y1="864.4" x2="140.1" y2="864.4" stroke="#262626"/>
<line x1="135.9" y1="884.0" x2="142.2" y2="884.0" stroke="#262626"/>
<line x1="148.5" y1="891.4" x2="148.5" y2="893.8" stroke="#262626"/>
<line x1="148.5" y1="891.4" x2="166.5" y2="891.4" stroke="#262626"/>
<line x1="148.5" y1="893.8" x2="166.5" y2="893.8" stroke="#262626"/>
<line x1="146.8" y1="892.6" x2="146.8" y2="896.3" stroke="#262626"/>
<line x1="146.8" y1="892.6" x2="148.5" y2="892.6" stroke="#262626"/>
<line x1="146.8" y1="896.3" x2="166.5" y2="896.3" stroke="#262626"/>
<line x1="149.2" y1="899.6" x2="149.2" y2="902.8" stroke="#262626"/>
<line x1="149.2" y1="899.6" x2="166.5" y2="899.6" stroke="#262626"/>
<line x1="149.2" y1="902.8" x2="166.5" y2="902.8" stroke="#262626"/>
<line x1="148.7" y1="911.5" x2="148.7" y2="915.2" stroke="#262626"/>
<line x1="148.7" y1="911.5" x2="166.5" y2="911.5" stroke="#262626"/>
<line x1="148.7" y1="915.2" x2="166.5" y2="915.2" stroke="#262626"/>
<line x1="147.2" y1="908.3" x2="147.2" y2="913.3" stroke="#262626"/>
<line x1="147.2" y1="908.3" x2="166.5" y2="908.3" stroke="#262626"/>
<line x1="147.2" y1="913.3" x2="148.7" y2="913.3" stroke="#262626"/>
<line x1="145.7" y1="905.6" x2="145.7" y2="910.8" stroke="#262626"/>
<line x1="145.7" y1="905.6" x2="166.5" y2="905.6" stroke="#262626"/>
<line x1="145.7" y1="910.8" x2="147.2" y2="910.8" stroke="#262626"/>
<line x1="142.7" y1="901.2" x2="142.7" y2="908.2" stroke="#262626"/>
<line x1="142.7" y1="901.2" x2="149.2" y2="901.2" stroke="#262626"/>
<line x1="142.7" y1="908.2" x2="145.7" y2="908.2" stroke="#262626"/>
<line x1="140.1" y1="894.5" x2="140.1" y2="904.7" stroke="#262626"/>
<line x1="140.1" y1="894.5" x2="146.8" y2="894.5" stroke="#262626"/>
<line x1="140.1" y1="904.7" x2="142.7" y2="904.7" stroke="#262626"/>
<line x1="148.8" y1="918.4" x2="148.8" y2="921.0" stroke="#262626"/>
<line x1="148.8" y1="918.4" x2="166.5" y2="918.4" stroke="#262626"/>
<line x1="148.8" y1="921.0" x2="166.5" y2="921.0" stroke="#262626"/>
<line x1="145.4" y1="919.7" x2="145.4" y2="923.6" stroke="#262626"/>
<line x1="145.4" y1="919.7" x2="148.8" y2="919.7" stroke="#262626"/>
<line x1="145.4" y1="923.6" x2="166.5" y2="923.6" stroke="#262626"/>
<line x1="138.6" y1="899.6" x2="138.6" y2="921.7" stroke="#262626"/>
<line x1="138.6" y1="899.6" x2="140.1" y2="899.6" stroke="#262626"/>
<line x1="138.6" y1="921.7" x2="145.4" y2="921.7" stroke="#262626"/>
<line x1="115.0" y1="874.2" x2="115.0" y2="910.6" stroke="#262626"/>
<line x1="115.0" y1="874.2" x2="135.9" y2="874.2" stroke="#262626"/>
<line x1="115.0" y1="910.6" x2="138.6" y2="910.6" stroke="#262626"/>
<line x1="149.6" y1="930.6" x2="149.6" y2="933.4" stroke="#262626"/>
<line x1="149.6" y1="930.6" x2="166.5" y2="930.6" stroke="#262626"/>
<line x1="149.6" y1="933.4" x2="166.5" y2="933.4" stroke="#262626"/>
<line x1="147.6" y1="927.1" x2="147.6" y2="932.0" stroke="#262626"/>
<line x1="147.6" y1="927.1" x2="166.5" y2="927.1" stroke="#262626"/>
<line x1="147.6" y1="932.0" x2="149.6" y2="932.0" stroke="#262626"/>
<line x1="152.6" y1="936.1" x2="152.6" y2="939.1" stroke="#262626"/>
<line x1="152.6" y1="936.1" x2="166.5" y2="936.1" stroke="#262626"/>
<line x1="152.6" y1="939.1" x2="166.5" y2="939.1" stroke="#262626"/>
<line x1="152.6" y1="944.8" x2="152.6" y2="947.1" stroke="#262626"/>
<line x1="152.6" y1="944.8" x2="166.5" y2="944.8" stroke="#262626"/>
<line x1="152.6" y1="947.1" x2="166.5" y2="947.1" stroke="#262626"/>
<line x1="145.4" y1="942.1" x2="145.4" y2="946.0" stroke="#262626"/>
<line x1="145.4" y1="942.1" x2="166.5" y2="942.1" stroke="#262626"/>
<line x1="145.4" y1="946.0" x2="152.6" y2="946.0" stroke="#262626"/>
<line x1="143.9" y1="937.6" x2="143.9" y2="944.1" stroke="#262626"/>
<line x1="143.9" y1="937.6" x2="152.6" y2="937.6" stroke="#262626"/>
<line x1="143.9" y1="944.1" x2="145.4" y2="944.1" stroke="#262626"/>
<line x1="142.1" y1="929.6" x2="142.1" y2="940.8" stroke="#262626"/>
<line x1="142.1" y1="929.6" x2="147.6" y2="929.6" stroke="#262626"/>
<line x1="142.1" y1="940.8" x2="143.9" y2="940.8" stroke="#262626"/>
<line x1="146.4" y1="949.4" x2="146.4" y2="952.4" stroke="#262626"/>
<line x1="146.4" y1="949.4" x2="166.5" y2="949.4" stroke="#262626"/>
<line x1="146.4" y1="952.4" x2="166.5" y2="952.4" stroke="#262626"/>
<line x1="146.1" y1="956.1" x2="146.1" y2="959.4" stroke="#262626"/>
<line x1="146.1" y1="956.1" x2="166.5" y2="956.1" stroke="#262626"/>
<line x1="146.1" y1="959.4" x2="166.5" y2="959.4" stroke="#262626"/>
<line x1="143.0" y1="957.8" x2="143.0" y2="962.4" stroke="#262626"/>
<line x1="143.0" y1="957.8" x2="146.1" y2="957.8" stroke="#262626"/>
<line x1="143.0" y1="962.4" x2="166.5" y2="962.4" stroke="#262626"/>
<line x1="141.5" y1="960.1" x2="141.5" y2="965.7" stroke="#262626"/>
<line x1="141.5" y1="960.1" x2="143.0" y2="960.1" stroke="#262626"/>
<line x1="141.5" y1="965.7" x2="166.5" y2="965.7" stroke="#262626"/>
<line x1="138.8" y1="950.9" x2="138.8" y2="962.9" stroke="#262626"/>
<line x1="138.8" y1="950.9" x2="146.4" y2="950.9" stroke="#262626"/>
<line x1="138.8" y1="962.9" x2="141.5" y2="962.9" stroke="#262626"/>
<line x1="149.8" y1="977.6" x2="149.8" y2="980.1" stroke="#262626"/>
<line x1="149.8" y1="977.6" x2="166.5" y2="977.6" stroke="#262626"/>
<line x1="149.8" y1="980.1" x2="166.5" y2="980.1" stroke="#262626"/>
<line x1="148.3" y1="974.1" x2="148.3" y2="978.9" stroke="#262626"/>
<line x1="148.3" y1="974.1" x2="166.5" y2="974.1" stroke="#262626"/>
<line x1="148.3" y1="978.9" x2="149.8" y2="978.9" stroke="#262626"/>
<line x1="147.6" y1="982.6" x2="147.6" y2="985.2" stroke="#262626"/>
<line x1="147.6" y1="982.6" x2="166.5" y2="982.6" stroke="#262626"/>
<line x1="147.6" y1="985.2" x2="166.5" y2="985.2" stroke="#262626"/>
<line x1="146.1" y1="976.5" x2="146.1" y2="983.9" stroke="#262626"/>
<line x1="146.1" y1="976.5" x2="148.3" y2="976.5" stroke="#262626"/>
<line x1="146.1" y1="983.9" x2="147.6" y2="983.9" stroke="#262626"/>
<line x1="141.6" y1="969.7" x2="141.6" y2="980.2" stroke="#262626"/>
<line x1="141.6" y1="969.7" x2="166.5" y2="969.7" stroke="#262626"/>
<line x1="141.6" y1="980.2" x2="146.1" y2="980.2" stroke="#262626"/>
<line x1="136.2" y1="956.9" x2="136.2" y2="975.0" stroke="#262626"/>
<line x1="136.2" y1="956.9" x2="138.8" y2="956.9" stroke="#262626"/>
<line x1="136.2" y1="975.0" x2="141.6" y2="975.0" stroke="#262626"/>
<line x1="131.5" y1="935.2" x2="131.5" y2="965.9" stroke="#262626"/>
<line x1="131.5" y1="935.2" x2="142.1" y2="935.2" stroke="#262626"/>
<line x1="131.5" y1="965.9" x2="136.2" y2="965.9" stroke="#262626"/>
<line x1="150.1" y1="992.5" x2="150.1" y2="996.0" stroke="#262626"/>
<line x1="150.1" y1="992.5" x2="166.5" y2="992.5" stroke="#262626"/>
<line x1="150.1" y1="996.0" x2="166.5" y2="996.0" stroke="#262626"/>
<line x1="145.3" y1="988.5" x2="145.3" y2="994.2" stroke="#262626"/>
<line x1="145.3" y1="988.5" x2="166.5" y2="988.5" stroke="#262626"/>
<line x1="145.3" y1="994.2" x2="150.1" y2="994.2" stroke="#262626"/>
<line x1="143.8" y1="991.3" x2="143.8" y2="998.9" stroke="#262626"/>
<line x1="143.8" y1="991.3" x2="145.3" y2="991.3" stroke="#262626"/>
<line x1="143.8" y1="998.9" x2="166.5" y2="998.9" stroke="#262626"/>
<line x1="152.6" y1="1004.4" x2="152.6" y2="1006.9" stroke="#262626"/>
<line x1="152.6" y1="1004.4" x2="166.5" y2="1004.4" stroke="#262626"/>
<line x1="152.6" y1="1006.9" x2="166.5" y2="1006.9" stroke="#262626"/>
<line x1="145.2" y1="1001.7" x2="145.2" y2="1005.7" stroke="#262626"/>
<line x1="145.2" y1="1001.7" x2="166.5" y2="1001.7" stroke="#262626"/>
<line x1="145.2" y1="1005.7" x2="152.6" y2="1005.7" stroke="#262626"/>
<line x1="140.2" y1="995.1" x2="140.2" y2="1003.7" stroke="#262626"/>
<line x1="140.2" y1="995.1" x2="143.8" y2="995.1" stroke="#262626"/>
<line x1="140.2" y1="1003.7" x2="145.2" y2="1003.7" stroke="#262626"/>
<line x1="129.0" y1="950.6" x2="129.0" y2="999.4" stroke="#262626"/>
<line x1="129.0" y1="950.6" x2="131.5" y2="950.6" stroke="#262626"/>
<line x1="129.0" y1="999.4" x2="140.2" y2="999.4" stroke="#262626"/>
<line x1="150.1" y1="1016.4" x2="150.1" y2="1019.8" stroke="#262626"/>
<line x1="150.1" y1="1016.4" x2="166.5" y2="1016.4" stroke="#262626"/>
<line x1="150.1" y1="1019.8" x2="166.5" y2="1019.8" stroke="#262626"/>
<line x1="148.6" y1="1013.5" x2="148.6" y2="1018.1" stroke="#262626"/>
<line x1="148.6" y1="1013.5" x2="166.5" y2="1013.5" stroke="#262626"/>
<line x1="148.6" y1="1018.1" x2="150.1" y2="1018.1" stroke="#262626"/>
<line x1="146.3" y1="1010.0" x2="146.3" y2="1015.8" stroke="#262626"/>
<line x1="146.3" y1="1010.0" x2="166.5" y2="1010.0" stroke="#262626"/>
<line x1="146.3" y1="1015.8" x2="148.6" y2="1015.8" stroke="#262626"/>
<line x1="147.6" y1="1023.2" x2="147.6" y2="1025.9" stroke="#262626"/>
<line x1="147.6" y1="1023.2" x2="166.5" y2="1023.2" stroke="#262626"/>
<line x1="147.6" y1="1025.9" x2="166.5" y2="1025.9" stroke="#262626"/>
<line x1="149.8" y1="1028.7" x2="149.8" y2="1032.0" stroke="#262626"/>
<line x1="149.8" y1="1028.7" x2="166.5" y2="1028.7" stroke="#262626"/>
<line x1="149.8" y1="1032.0" x2="166.5" y2="1032.0" stroke="#262626"/>
<line x1="146.2" y1="1030.3" x2="146.2" y2="1035.5" stroke="#262626"/>
<line x1="146.2" y1="1030.3" x2="149.8" y2="1030.3" stroke="#262626"/>
<line x1="146.2" y1="1035.5" x2="166.5" y2="1035.5" stroke="#262626"/>
<line x1="144.2" y1="1024.5" x2="144.2" y2="1032.9" stroke="#262626"/>
<line x1="144.2" y1="1024.5" x2="147.6" y2="1024.5" stroke="#262626"/>
<line x1="144.2" y1="1032.9" x2="146.2" y2="1032.9" stroke="#262626"/>
<line x1="139.1" y1="1012.9" x2="139.1" y2="1028.7" stroke="#262626"/>
<line x1="139.1" y1="1012.9" x2="146.3" y2="1012.9" stroke="#262626"/>
<line x1="139.1" y1="1028.7" x2="144.2" y2="1028.7" stroke="#262626"/>
<line x1="148.1" y1="1041.3" x2="148.1" y2="1043.7" stroke="#262626"/>
<line x1="148.1" y1="1041.3" x2="166.5" y2="1041.3" stroke="#262626"/>
<line x1="148.1" y1="1043.7" x2="166.5" y2="1043.7" stroke="#262626"/>
<line x1="146.6" y1="1038.6" x2="146.6" y2="1042.5" stroke="#262626"/>
<line x1="146.6" y1="1038.6" x2="166.5" y2="1038.6" stroke="#262626"/>
<line x1="146.6" y1="1042.5" x2="148.1" y2="1042.5" stroke="#262626"/>
<line x1="134.7" y1="1020.8" x2="134.7" y2="1040.5" stroke="#262626"/>
<line x1="134.7" y1="1020.8" x2="139.1" y2="1020.8" stroke="#262626"/>
<line x1="134.7" y1="1040.5" x2="146.6" y2="1040.5" stroke="#262626"/>
<line x1="152.6" y1="1046.0" x2="152.6" y2="1048.3" stroke="#262626"/>
<line x1="152.6" y1="1046.0" x2="166.5" y2="1046.0" stroke="#262626"/>
<line x1="152.6" y1="1048.3" x2="166.5" y2="1048.3" stroke="#262626"/>
<line x1="150.3" y1="1047.2" x2="150.3" y2="1050.6" stroke="#262626"/>
<line x1="150.3" y1="1047.2" x2="152.6" y2="1047.2" stroke="#262626"/>
<line x1="150.3" y1="1050.6" x2="166.5" y2="1050.6" stroke="#262626"/>
<line x1="150.7" y1="1053.3" x2="150.7" y2="1056.0" stroke="#262626"/>
<line x1="150.7" y1="1053.3" x2="166.5" y2="1053.3" stroke="#262626"/>
<line x1="150.7" y1="1056.0" x2="166.5" y2="1056.0" stroke="#262626"/>
<line x1="140.7" y1="1048.9" x2="140.7" y2="1054.6" stroke="#262626"/>
<line x1="140.7" y1="1048.9" x2="150.3" y2="1048.9" stroke="#262626"/>
<line x1="140.7" y1="1054.6" x2="150.7" y2="1054.6" stroke="#262626"/>
<line x1="126.4" y1="1030.7" x2="126.4" y2="1051.8" stroke="#262626"/>
<line x1="126.4" y1="1030.7" x2="134.7" y2="1030.7" stroke="#262626"/>
<line x1="126.4" y1="1051.8" x2="140.7" y2="1051.8" stroke="#262626"/>
<line x1="109.3" y1="975.0" x2="109.3" y2="1041.2" stroke="#262626"/>
<line x1="109.3" y1="975.0" x2="129.0" y2="975.0" stroke="#262626"/>
<line x1="109.3" y1="1041.2" x2="126.4" y2="1041.2" stroke="#262626"/>
<line x1="146.5" y1="1061.8" x2="146.5" y2="1065.0" stroke="#262626"/>
<line x1="146.5" y1="1061.8" x2="166.5" y2="1061.8" stroke="#262626"/>
<line x1="146.5" y1="1065.0" x2="166.5" y2="1065.0" stroke="#262626"/>
<line x1="145.0" y1="1058.6" x2="145.0" y2="1063.4" stroke="#262626"/>
<line x1="145.0" y1="1058.6" x2="166.5" y2="1058.6" stroke="#262626"/>
<line x1="145.0" y1="1063.4" x2="146.5" y2="1063.4" stroke="#262626"/>
<line x1="147.0" y1="1072.0" x2="147.0" y2="1075.2" stroke="#262626"/>
<line x1="147.0" y1="1072.0" x2="166.5" y2="1072.0" stroke="#262626"/>
<line x1="147.0" y1="1075.2" x2="166.5" y2="1075.2" stroke="#262626"/>
<line x1="151.6" y1="1078.1" x2="151.6" y2="1080.9" stroke="#262626"/>
<line x1="151.6" y1="1078.1" x2="166.5" y2="1078.1" stroke="#262626"/>
<line x1="151.6" y1="1080.9" x2="166.5" y2="1080.9" stroke="#262626"/>
<line x1="150.1" y1="1079.5" x2="150.1" y2="1083.6" stroke="#262626"/>
<line x1="150.1" y1="1079.5" x2="151.6" y2="1079.5" stroke="#262626"/>
<line x1="150.1" y1="1083.6" x2="166.5" y2="1083.6" stroke="#262626"/>
<line x1="145.5" y1="1073.6" x2="145.5" y2="1081.5" stroke="#262626"/>
<line x1="145.5" y1="1073.6" x2="147.0" y2="1073.6" stroke="#262626"/>
<line x1="145.5" y1="1081.5" x2="150.1" y2="1081.5" stroke="#262626"/>
<line x1="141.3" y1="1068.2" x2="141.3" y2="1077.6" stroke="#262626"/>
<line x1="141.3" y1="1068.2" x2="166.5" y2="1068.2" stroke="#262626"/>
<line x1="141.3" y1="1077.6" x2="145.5" y2="1077.6" stroke="#262626"/>
<line x1="148.2" y1="1086.8" x2="148.2" y2="1090.1" stroke="#262626"/>
<line x1="148.2" y1="1086.8" x2="166.5" y2="1086.8" stroke="#262626"/>
<line x1="148.2" y1="1090.1" x2="166.5" y2="1090.1" stroke="#262626"/>
<line x1="144.9" y1="1088.5" x2="144.9" y2="1092.8" stroke="#262626"/>
<line x1="144.9" y1="1088.5" x2="148.2" y2="1088.5" stroke="#262626"/>
<line x1="144.9" y1="1092.8" x2="166.5" y2="1092.8" stroke="#262626"/>
<line x1="149.4" y1="1095.5" x2="149.4" y2="1098.5" stroke="#262626"/>
<line x1="149.4" y1="1095.5" x2="166.5" y2="1095.5" stroke="#262626"/>
<line x1="149.4" y1="1098.5" x2="166.5" y2="1098.5" stroke="#262626"/>
<line x1="143.4" y1="1090.6" x2="143.4" y2="1097.0" stroke="#262626"/>
<line x1="143.4" y1="1090.6" x2="144.9" y2="1090.6" stroke="#262626"/>
<line x1="143.4" y1="1097.0" x2="149.4" y2="1097.0" stroke="#262626"/>
<line x1="132.2" y1="1072.9" x2="132.2" y2="1093.8" stroke="#262626"/>
<line x1="132.2" y1="1072.9" x2="141.3" y2="1072.9" stroke="#262626"/>
<line x1="132.2" y1="1093.8" x2="143.4" y2="1093.8" stroke="#262626"/>
<line x1="130.7" y1="1061.0" x2="130.7" y2="1083.3" stroke="#262626"/>
<line x1="130.7" y1="1061.0" x2="145.0" y2="1061.0" stroke="#262626"/>
<line x1="130.7" y1="1083.3" x2="132.2" y2="1083.3" stroke="#262626"/>
<line x1="107.8" y1="1008.1" x2="107.8" y2="1072.2" stroke="#262626"/>
<line x1="107.8" y1="1008.1" x2="109.3" y2="1008.1" stroke="#262626"/>
<line x1="107.8" y1="1072.2" x2="130.7" y2="1072.2" stroke="#262626"/>
<line x1="98.0" y1="892.4" x2="98.0" y2="1040.1" stroke="#262626"/>
<line x1="98.0" y1="892.4" x2="115.0" y2="892.4" stroke="#262626"/>
<line x1="98.0" y1="1040.1" x2="107.8" y2="1040.1" stroke="#262626"/>
<line x1="149.1" y1="1101.3" x2="149.1" y2="1104.0" stroke="#262626"/>
<line x1="149.1" y1="1101.3" x2="166.5" y2="1101.3" stroke="#262626"/>
<line x1="149.1" y1="1104.0" x2="166.5" y2="1104.0" stroke="#262626"/>
<line x1="148.5" y1="1109.3" x2="148.5" y2="1112.8" stroke="#262626"/>
<line x1="148.5" y1="1109.3" x2="166.5" y2="1109.3" stroke="#262626"/>
<line x1="148.5" y1="1112.8" x2="166.5" y2="1112.8" stroke="#262626"/>
<line x1="145.9" y1="1106.6" x2="145.9" y2="1111.1" stroke="#262626"/>
<line x1="145.9" y1="1106.6" x2="166.5" y2="1106.6" stroke="#262626"/>
<line x1="145.9" y1="1111.1" x2="148.5" y2="1111.1" stroke="#262626"/>
<line x1="144.3" y1="1102.7" x2="144.3" y2="1108.8" stroke="#262626"/>
<line x1="144.3" y1="1102.7" x2="149.1" y2="1102.7" stroke="#262626"/>
<line x1="144.3" y1="1108.8" x2="145.9" y2="1108.8" stroke="#262626"/>
<line x1="151.4" y1="1119.0" x2="151.4" y2="1121.3" stroke="#262626"/>
<line x1="151.4" y1="1119.0" x2="166.5" y2="1119.0" stroke="#262626"/>
<line x1="151.4" y1="1121.3" x2="166.5" y2="1121.3" stroke="#262626"/>
<line x1="145.1" y1="1116.3" x2="145.1" y2="1120.2" stroke="#262626"/>
<line x1="145.1" y1="1116.3" x2="166.5" y2="1116.3" stroke="#262626"/>
<line x1="145.1" y1="1120.2" x2="151.4" y2="1120.2" stroke="#262626"/>
<line x1="147.4" y1="1123.8" x2="147.4" y2="1126.7" stroke="#262626"/>
<line x1="147.4" y1="1123.8" x2="166.5" y2="1123.8" stroke="#262626"/>
<line x1="147.4" y1="1126.7" x2="166.5" y2="1126.7" stroke="#262626"/>
<line x1="143.6" y1="1118.2" x2="143.6" y2="1125.2" stroke="#262626"/>
<line x1="143.6" y1="1118.2" x2="145.1" y2="1118.2" stroke="#262626"/>
<line x1="143.6" y1="1125.2" x2="147.4" y2="1125.2" stroke="#262626"/>
<line x1="148.5" y1="1132.6" x2="148.5" y2="1135.5" stroke="#262626"/>
<line x1="148.5" y1="1132.6" x2="166.5" y2="1132.6" stroke="#262626"/>
<line x1="148.5" y1="1135.5" x2="166.5" y2="1135.5" stroke="#262626"/>
<line x1="147.0" y1="1129.6" x2="147.0" y2="1134.1" stroke="#262626"/>
<line x1="147.0" y1="1129.6" x2="166.5" y2="1129.6" stroke="#262626"/>
<line x1="147.0" y1="1134.1" x2="148.5" y2="1134.1" stroke="#262626"/>
<line x1="149.5" y1="1142.5" x2="149.5" y2="1145.9" stroke="#262626"/>
<line x1="149.5" y1="1142.5" x2="166.5" y2="1142.5" stroke="#262626"/>
<line x1="149.5" y1="1145.9" x2="166.5" y2="1145.9" stroke="#262626"/>
<line x1="147.8" y1="1148.6" x2="147.8" y2="1152.0" stroke="#262626"/>
<line x1="147.8" y1="1148.6" x2="166.5" y2="1148.6" stroke="#262626"/>
<line x1="147.8" y1="1152.0" x2="166.5" y2="1152.0" stroke="#262626"/>
<line x1="140.3" y1="1144.2" x2="140.3" y2="1150.3" stroke="#262626"/>
<line x1="140.3" y1="1144.2" x2="149.5" y2="1144.2" stroke="#262626"/>
<line x1="140.3" y1="1150.3" x2="147.8" y2="1150.3" stroke="#262626"/>
<line x1="138.8" y1="1138.7" x2="138.8" y2="1147.3" stroke="#262626"/>
<line x1="138.8" y1="1138.7" x2="166.5" y2="1138.7" stroke="#262626"/>
<line x1="138.8" y1="1147.3" x2="140.3" y2="1147.3" stroke="#262626"/>
<line x1="137.3" y1="1131.8" x2="137.3" y2="1143.0" stroke="#262626"/>
<line x1="137.3" y1="1131.8" x2="147.0" y2="1131.8" stroke="#262626"/>
<line x1="137.3" y1="1143.0" x2="138.8" y2="1143.0" stroke="#262626"/>
<line x1="135.8" y1="1121.7" x2="135.8" y2="1137.4" stroke="#262626"/>
<line x1="135.8" y1="1121.7" x2="143.6" y2="1121.7" stroke="#262626"/>
<line x1="135.8" y1="1137.4" x2="137.3" y2="1137.4" stroke="#262626"/>
<line x1="131.3" y1="1105.7" x2="131.3" y2="1129.6" stroke="#262626"/>
<line x1="131.3" y1="1105.7" x2="144.3" y2="1105.7" stroke="#262626"/>
<line x1="131.3" y1="1129.6" x2="135.8" y2="1129.6" stroke="#262626"/>
<line x1="150.5" y1="1155.9" x2="150.5" y2="1159.6" stroke="#262626"/>
<line x1="150.5" y1="1155.9" x2="166.5" y2="1155.9" stroke="#262626"/>
<line x1="150.5" y1="1159.6" x2="166.5" y2="1159.6" stroke="#262626"/>
<line x1="141.4" y1="1157.7" x2="141.4" y2="1163.5" stroke="#262626"/>
<line x1="141.4" y1="1157.7" x2="150.5" y2="1157.7" stroke="#262626"/>
<line x1="141.4" y1="1163.5" x2="166.5" y2="1163.5" stroke="#262626"/>
<line x1="148.1" y1="1166.9" x2="148.1" y2="1169.6" stroke="#262626"/>
<line x1="148.1" y1="1166.9" x2="166.5" y2="1166.9" stroke="#262626"/>
<line x1="148.1" y1="1169.6" x2="166.5" y2="1169.6" stroke="#262626"/>
<line x1="139.9" y1="1160.6" x2="139.9" y2="1168.2" stroke="#262626"/>
<line x1="139.9" y1="1160.6" x2="141.4" y2="1160.6" stroke="#262626"/>
<line x1="139.9" y1="1168.2" x2="148.1" y2="1168.2" stroke="#262626"/>
<line x1="150.8" y1="1175.3" x2="150.8" y2="1177.8" stroke="#262626"/>
<line x1="150.8" y1="1175.3" x2="166.5" y2="1175.3" stroke="#262626"/>
<line x1="150.8" y1="1177.8" x2="166.5" y2="1177.8" stroke="#262626"/>
<line x1="149.3" y1="1172.5" x2="149.3" y2="1176.6" stroke="#262626"/>
<line x1="149.3" y1="1172.5" x2="166.5" y2="1172.5" stroke="#262626"/>
<line x1="149.3" y1="1176.6" x2="150.8" y2="1176.6" stroke="#262626"/>
<line x1="147.4" y1="1174.5" x2="147.4" y2="1181.0" stroke="#262626"/>
<line x1="147.4" y1="1174.5" x2="149.3" y2="1174.5" stroke="#262626"/>
<line x1="147.4" y1="1181.0" x2="166.5" y2="1181.0" stroke="#262626"/>
<line x1="151.6" y1="1185.0" x2="151.6" y2="1188.2" stroke="#262626"/>
<line x1="151.6" y1="1185.0" x2="166.5" y2="1185.0" stroke="#262626"/>
<line x1="151.6" y1="1188.2" x2="166.5" y2="1188.2" stroke="#262626"/>
<line x1="146.6" y1="1186.6" x2="146.6" y2="1191.8" stroke="#262626"/>
<line x1="146.6" y1="1186.6" x2="151.6" y2="1186.6" stroke="#262626"/>
<line x1="146.6" y1="1191.8" x2="166.5" y2="1191.8" stroke="#262626"/>
<line x1="152.5" y1="1199.6" x2="152.5" y2="1202.8" stroke="#262626"/>
<line x1="152.5" y1="1199.6" x2="166.5" y2="1199.6" stroke="#262626"/>
<line x1="152.5" y1="1202.8" x2="166.5" y2="1202.8" stroke="#262626"/>
<line x1="150.5" y1="1201.2" x2="150.5" y2="1205.9" stroke="#262626"/>
<line x1="150.5" y1="1201.2" x2="152.5" y2="1201.2" stroke="#262626"/>
<line x1="150.5" y1="1205.9" x2="166.5" y2="1205.9" stroke="#262626"/>
<line x1="145.2" y1="1196.1" x2="145.2" y2="1203.5" stroke="#262626"/>
<line x1="145.2" y1="1196.1" x2="166.5" y2="1196.1" stroke="#262626"/>
<line x1="145.2" y1="1203.5" x2="150.5" y2="1203.5" stroke="#262626"/>
<line x1="134.7" y1="1189.2" x2="134.7" y2="1199.8" stroke="#262626"/>
<line x1="134.7" y1="1189.2" x2="146.6" y2="1189.2" stroke="#262626"/>
<line x1="134.7" y1="1199.8" x2="145.2" y2="1199.8" stroke="#262626"/>
<line x1="130.0" y1="1177.7" x2="130.0" y2="1194.5" stroke="#262626"/>
<line x1="130.0" y1="1177.7" x2="147.4" y2="1177.7" stroke="#262626"/>
<line x1="130.0" y1="1194.5" x2="134.7" y2="1194.5" stroke="#262626"/>
<line x1="127.0" y1="1164.4" x2="127.0" y2="1186.1" stroke="#262626"/>
<line x1="127.0" y1="1164.4" x2="139.9" y2="1164.4" stroke="#262626"/>
<line x1="127.0" y1="1186.1" x2="130.0" y2="1186.1" stroke="#262626"/>
<line x1="148.5" y1="1211.3" x2="148.5" y2="1214.1" stroke="#262626"/>
<line x1="148.5" y1="1211.3" x2="166.5" y2="1211.3" stroke="#262626"/>
<line x1="148.5" y1="1214.1" x2="166.5" y2="1214.1" stroke="#262626"/>
<line x1="147.0" y1="1208.6" x2="147.0" y2="1212.7" stroke="#262626"/>
<line x1="147.0" y1="1208.6" x2="166.5" y2="1208.6" stroke="#262626"/>
<line x1="147.0" y1="1212.7" x2="148.5" y2="1212.7" stroke="#262626"/>
<line x1="149.2" y1="1217.0" x2="149.2" y2="1220.8" stroke="#262626"/>
<line x1="149.2" y1="1217.0" x2="166.5" y2="1217.0" stroke="#262626"/>
<line x1="149.2" y1="1220.8" x2="166.5" y2="1220.8" stroke="#262626"/>
<line x1="152.8" y1="1224.2" x2="152.8" y2="1226.7" stroke="#262626"/>
<line x1="152.8" y1="1224.2" x2="166.5" y2="1224.2" stroke="#262626"/>
<line x1="152.8" y1="1226.7" x2="166.5" y2="1226.7" stroke="#262626"/>
<line x1="147.7" y1="1218.9" x2="147.7" y2="1225.5" stroke="#262626"/>
<line x1="147.7" y1="1218.9" x2="149.2" y2="1218.9" stroke="#262626"/>
<line x1="147.7" y1="1225.5" x2="152.8" y2="1225.5" stroke="#262626"/>
<line x1="142.8" y1="1210.7" x2="142.8" y2="1222.2" stroke="#262626"/>
<line x1="142.8" y1="1210.7" x2="147.0" y2="1210.7" stroke="#262626"/>
<line x1="142.8" y1="1222.2" x2="147.7" y2="1222.2" stroke="#262626"/>
<line x1="145.9" y1="1229.2" x2="145.9" y2="1232.5" stroke="#262626"/>
<line x1="145.9" y1="1229.2" x2="166.5" y2="1229.2" stroke="#262626"/>
<line x1="145.9" y1="1232.5" x2="166.5" y2="1232.5" stroke="#262626"/>
<line x1="141.3" y1="1216.4" x2="141.3" y2="1230.9" stroke="#262626"/>
<line x1="141.3" y1="1216.4" x2="142.8" y2="1216.4" stroke="#262626"/>
<line x1="141.3" y1="1230.9" x2="145.9" y2="1230.9" stroke="#262626"/>
<line x1="150.9" y1="1236.5" x2="150.9" y2="1240.0" stroke="#262626"/>
<line x1="150.9" y1="1236.5" x2="166.5" y2="1236.5" stroke="#262626"/>
<line x1="150.9" y1="1240.0" x2="166.5" y2="1240.0" stroke="#262626"/>
<line x1="137.3" y1="1223.7" x2="137.3" y2="1238.3" stroke="#262626"/>
<line x1="137.3" y1="1223.7" x2="141.3" y2="1223.7" stroke="#262626"/>
<line x1="137.3" y1="1238.3" x2="150.9" y2="1238.3" stroke="#262626"/>
<line x1="118.0" y1="1175.3" x2="118.0" y2="1231.0" stroke="#262626"/>
<line x1="118.0" y1="1175.3" x2="127.0" y2="1175.3" stroke="#262626"/>
<line x1="118.0" y1="1231.0" x2="137.3" y2="1231.0" stroke="#262626"/>
<line x1="109.0" y1="1117.7" x2="109.0" y2="1203.1" stroke="#262626"/>
<line x1="109.0" y1="1117.7" x2="131.3" y2="1117.7" stroke="#262626"/>
<line x1="109.0" y1="1203.1" x2="118.0" y2="1203.1" stroke="#262626"/>
<line x1="147.9" y1="1242.7" x2="147.9" y2="1245.2" stroke="#262626"/>
<line x1="147.9" y1="1242.7" x2="166.5" y2="1242.7" stroke="#262626"/>
<line x1="147.9" y1="1245.2" x2="166.5" y2="1245.2" stroke="#262626"/>
<line x1="151.1" y1="1247.7" x2="151.1" y2="1250.4" stroke="#262626"/>
<line x1="151.1" y1="1247.7" x2="166.5" y2="1247.7" stroke="#262626"/>
<line x1="151.1" y1="1250.4" x2="166.5" y2="1250.4" stroke="#262626"/>
<line x1="142.8" y1="1243.9" x2="142.8" y2="1249.1" stroke="#262626"/>
<line x1="142.8" y1="1243.9" x2="147.9" y2="1243.9" stroke="#262626"/>
<line x1="142.8" y1="1249.1" x2="151.1" y2="1249.1" stroke="#262626"/>
<line x1="145.8" y1="1253.5" x2="145.8" y2="1257.3" stroke="#262626"/>
<line x1="145.8" y1="1253.5" x2="166.5" y2="1253.5" stroke="#262626"/>
<line x1="145.8" y1="1257.3" x2="166.5" y2="1257.3" stroke="#262626"/>
<line x1="148.5" y1="1270.7" x2="148.5" y2="1273.5" stroke="#262626"/>
<line x1="148.5" y1="1270.7" x2="166.5" y2="1270.7" stroke="#262626"/>
<line x1="148.5" y1="1273.5" x2="166.5" y2="1273.5" stroke="#262626"/>
<line x1="144.7" y1="1272.1" x2="144.7" y2="1276.3" stroke="#262626"/>
<line x1="144.7" y1="1272.1" x2="148.5" y2="1272.1" stroke="#262626"/>
<line x1="144.7" y1="1276.3" x2="166.5" y2="1276.3" stroke="#262626"/>
<line x1="143.2" y1="1268.0" x2="143.2" y2="1274.2" stroke="#262626"/>
<line x1="143.2" y1="1268.0" x2="166.5" y2="1268.0" stroke="#262626"/>
<line x1="143.2" y1="1274.2" x2="144.7" y2="1274.2" stroke="#262626"/>
<line x1="141.7" y1="1265.1" x2="141.7" y2="1271.1" stroke="#262626"/>
<line x1="141.7" y1="1265.1" x2="166.5" y2="1265.1" stroke="#262626"/>
<line x1="141.7" y1="1271.1" x2="143.2" y2="1271.1" stroke="#262626"/>
<line x1="137.1" y1="1261.5" x2="137.1" y2="1268.1" stroke="#262626"/>
<line x1="137.1" y1="1261.5" x2="166.5" y2="1261.5" stroke="#262626"/>
<line x1="137.1" y1="1268.1" x2="141.7" y2="1268.1" stroke="#262626"/>
<line x1="148.9" y1="1279.0" x2="148.9" y2="1281.6" stroke="#262626"/>
<line x1="148.9" y1="1279.0" x2="166.5" y2="1279.0" stroke="#262626"/>
<line x1="148.9" y1="1281.6" x2="166.5" y2="1281.6" stroke="#262626"/>
<line x1="147.4" y1="1280.3" x2="147.4" y2="1284.9" stroke="#262626"/>
<line x1="147.4" y1="1280.3" x2="148.9" y2="1280.3" stroke="#262626"/>
<line x1="147.4" y1="1284.9" x2="166.5" y2="1284.9" stroke="#262626"/>
<line x1="135.6" y1="1264.8" x2="135.6" y2="1282.6" stroke="#262626"/>
<line x1="135.6" y1="1264.8" x2="137.1" y2="1264.8" stroke="#262626"/>
<line x1="135.6" y1="1282.6" x2="147.4" y2="1282.6" stroke="#262626"/>
<line x1="134.1" y1="1255.4" x2="134.1" y2="1273.7" stroke="#262626"/>
<line x1="134.1" y1="1255.4" x2="145.8" y2="1255.4" stroke="#262626"/>
<line x1="134.1" y1="1273.7" x2="135.6" y2="1273.7" stroke="#262626"/>
<line x1="128.7" y1="1246.5" x2="128.7" y2="1264.6" stroke="#262626"/>
<line x1="128.7" y1="1246.5" x2="142.8" y2="1246.5" stroke="#262626"/>
<line x1="128.7" y1="1264.6" x2="134.1" y2="1264.6" stroke="#262626"/>
<line x1="148.1" y1="1292.1" x2="148.1" y2="1294.5" stroke="#262626"/>
<line x1="148.1" y1="1292.1" x2="166.5" y2="1292.1" stroke="#262626"/>
<line x1="148.1" y1="1294.5" x2="166.5" y2="1294.5" stroke="#262626"/>
<line x1="150.8" y1="1297.0" x2="150.8" y2="1300.3" stroke="#262626"/>
<line x1="150.8" y1="1297.0" x2="166.5" y2="1297.0" stroke="#262626"/>
<line x1="150.8" y1="1300.3" x2="166.5" y2="1300.3" stroke="#262626"/>
<line x1="147.4" y1="1298.6" x2="147.4" y2="1303.5" stroke="#262626"/>
<line x1="147.4" y1="1298.6" x2="150.8" y2="1298.6" stroke="#262626"/>
<line x1="147.4" y1="1303.5" x2="166.5" y2="1303.5" stroke="#262626"/>
<line x1="143.9" y1="1293.3" x2="143.9" y2="1301.1" stroke="#262626"/>
<line x1="143.9" y1="1293.3" x2="148.1" y2="1293.3" stroke="#262626"/>
<line x1="143.9" y1="1301.1" x2="147.4" y2="1301.1" stroke="#262626"/>
<line x1="137.6" y1="1288.9" x2="137.6" y2="1297.2" stroke="#262626"/>
<line x1="137.6" y1="1288.9" x2="166.5" y2="1288.9" stroke="#262626"/>
<line x1="137.6" y1="1297.2" x2="143.9" y2="1297.2" stroke="#262626"/>
<line x1="148.2" y1="1306.2" x2="148.2" y2="1308.9" stroke="#262626"/>
<line x1="148.2" y1="1306.2" x2="166.5" y2="1306.2" stroke="#262626"/>
<line x1="148.2" y1="1308.9" x2="166.5" y2="1308.9" stroke="#262626"/>
<line x1="136.1" y1="1293.0" x2="136.1" y2="1307.6" stroke="#262626"/>
<line x1="136.1" y1="1293.0" x2="137.6" y2="1293.0" stroke="#262626"/>
<line x1="136.1" y1="1307.6" x2="148.2" y2="1307.6" stroke="#262626"/>
<line x1="149.3" y1="1312.5" x2="149.3" y2="1316.4" stroke="#262626"/>
<line x1="149.3" y1="1312.5" x2="166.5" y2="1312.5" stroke="#262626"/>
<line x1="149.3" y1="1316.4" x2="166.5" y2="1316.4" stroke="#262626"/>
<line x1="146.7" y1="1314.4" x2="146.7" y2="1320.1" stroke="#262626"/>
<line x1="146.7" y1="1314.4" x2="149.3" y2="1314.4" stroke="#262626"/>
<line x1="146.7" y1="1320.1" x2="166.5" y2="1320.1" stroke="#262626"/>
<line x1="148.7" y1="1323.4" x2="148.7" y2="1326.0" stroke="#262626"/>
<line x1="148.7" y1="1323.4" x2="166.5" y2="1323.4" stroke="#262626"/>
<line x1="148.7" y1="1326.0" x2="166.5" y2="1326.0" stroke="#262626"/>
<line x1="145.2" y1="1317.3" x2="145.2" y2="1324.7" stroke="#262626"/>
<line x1="145.2" y1="1317.3" x2="146.7" y2="1317.3" stroke="#262626"/>
<line x1="145.2" y1="1324.7" x2="148.7" y2="1324.7" stroke="#262626"/>
<line x1="134.6" y1="1300.3" x2="134.6" y2="1321.0" stroke="#262626"/>
<line x1="134.6" y1="1300.3" x2="136.1" y2="1300.3" stroke="#262626"/>
<line x1="134.6" y1="1321.0" x2="145.2" y2="1321.0" stroke="#262626"/>
<line x1="153.0" y1="1331.6" x2="153.0" y2="1334.4" stroke="#262626"/>
<line x1="153.0" y1="1331.6" x2="166.5" y2="1331.6" stroke="#262626"/>
<line x1="153.0" y1="1334.4" x2="166.5" y2="1334.4" stroke="#262626"/>
<line x1="146.9" y1="1328.7" x2="146.9" y2="1333.0" stroke="#262626"/>
<line x1="146.9" y1="1328.7" x2="166.5" y2="1328.7" stroke="#262626"/>
<line x1="146.9" y1="1333.0" x2="153.0" y2="1333.0" stroke="#262626"/>
<line x1="148.1" y1="1337.3" x2="148.1" y2="1339.6" stroke="#262626"/>
<line x1="148.1" y1="1337.3" x2="166.5" y2="1337.3" stroke="#262626"/>
<line x1="148.1" y1="1339.6" x2="166.5" y2="1339.6" stroke="#262626"/>
<line x1="140.7" y1="1330.9" x2="140.7" y2="1338.5" stroke="#262626"/>
<line x1="140.7" y1="1330.9" x2="146.9" y2="1330.9" stroke="#262626"/>
<line x1="140.7" y1="1338.5" x2="148.1" y2="1338.5" stroke="#262626"/>
<line x1="123.1" y1="1310.6" x2="123.1" y2="1334.7" stroke="#262626"/>
<line x1="123.1" y1="1310.6" x2="134.6" y2="1310.6" stroke="#262626"/>
<line x1="123.1" y1="1334.7" x2="140.7" y2="1334.7" stroke="#262626"/>
<line x1="121.6" y1="1255.5" x2="121.6" y2="1322.6" stroke="#262626"/>
<line x1="121.6" y1="1255.5" x2="128.7" y2="1255.5" stroke="#262626"/>
<line x1="121.6" y1="1322.6" x2="123.1" y2="1322.6" stroke="#262626"/>
<line x1="107.5" y1="1160.4" x2="107.5" y2="1289.1" stroke="#262626"/>
<line x1="107.5" y1="1160.4" x2="109.0" y2="1160.4" stroke="#262626"/>
<line x1="107.5" y1="1289.1" x2="121.6" y2="1289.1" stroke="#262626"/>
<line x1="151.1" y1="1342.1" x2="151.1" y2="1345.3" stroke="#262626"/>
<line x1="151.1" y1="1342.1" x2="166.5" y2="1342.1" stroke="#262626"/>
<line x1="151.1" y1="1345.3" x2="166.5" y2="1345.3" stroke="#262626"/>
<line x1="146.9" y1="1343.7" x2="146.9" y2="1348.9" stroke="#262626"/>
<line x1="146.9" y1="1343.7" x2="151.1" y2="1343.7" stroke="#262626"/>
<line x1="146.9" y1="1348.9" x2="166.5" y2="1348.9" stroke="#262626"/>
<line x1="148.1" y1="1352.4" x2="148.1" y2="1355.4" stroke="#262626"/>
<line x1="148.1" y1="1352.4" x2="166.5" y2="1352.4" stroke="#262626"/>
<line x1="148.1" y1="1355.4" x2="166.5" y2="1355.4" stroke="#262626"/>
<line x1="143.4" y1="1353.9" x2="143.4" y2="1358.9" stroke="#262626"/>
<line x1="143.4" y1="1353.9" x2="148.1" y2="1353.9" stroke="#262626"/>
<line x1="143.4" y1="1358.9" x2="166.5" y2="1358.9" stroke="#262626"/>
<line x1="138.9" y1="1346.3" x2="138.9" y2="1356.4" stroke="#262626"/>
<line x1="138.9" y1="1346.3" x2="146.9" y2="1346.3" stroke="#262626"/>
<line x1="138.9" y1="1356.4" x2="143.4" y2="1356.4" stroke="#262626"/>
<line x1="149.6" y1="1367.3" x2="149.6" y2="1370.8" stroke="#262626"/>
<line x1="149.6" y1="1367.3" x2="166.5" y2="1367.3" stroke="#262626"/>
<line x1="149.6" y1="1370.8" x2="166.5" y2="1370.8" stroke="#262626"/>
<line x1="143.5" y1="1363.2" x2="143.5" y2="1369.0" stroke="#262626"/>
<line x1="143.5" y1="1363.2" x2="166.5" y2="1363.2" stroke="#262626"/>
<line x1="143.5" y1="1369.0" x2="149.6" y2="1369.0" stroke="#262626"/>
<line x1="152.5" y1="1373.8" x2="152.5" y2="1376.1" stroke="#262626"/>
<line x1="152.5" y1="1373.8" x2="166.5" y2="1373.8" stroke="#262626"/>
<line x1="152.5" y1="1376.1" x2="166.5" y2="1376.1" stroke="#262626"/>
<line x1="142.0" y1="1366.1" x2="142.0" y2="1374.9" stroke="#262626"/>
<line x1="142.0" y1="1366.1" x2="143.5" y2="1366.1" stroke="#262626"/>
<line x1="142.0" y1="1374.9" x2="152.5" y2="1374.9" stroke="#262626"/>
<line x1="151.4" y1="1378.5" x2="151.4" y2="1381.0" stroke="#262626"/>
<line x1="151.4" y1="1378.5" x2="166.5" y2="1378.5" stroke="#262626"/>
<line x1="151.4" y1="1381.0" x2="166.5" y2="1381.0" stroke="#262626"/>
<line x1="143.1" y1="1379.8" x2="143.1" y2="1384.2" stroke="#262626"/>
<line x1="143.1" y1="1379.8" x2="151.4" y2="1379.8" stroke="#262626"/>
<line x1="143.1" y1="1384.2" x2="166.5" y2="1384.2" stroke="#262626"/>
<line x1="141.6" y1="1382.0" x2="141.6" y2="1388.0" stroke="#262626"/>
<line x1="141.6" y1="1382.0" x2="143.1" y2="1382.0" stroke="#262626"/>
<line x1="141.6" y1="1388.0" x2="166.5" y2="1388.0" stroke="#262626"/>
<line x1="145.2" y1="1391.8" x2="145.2" y2="1395.3" stroke="#262626"/>
<line x1="145.2" y1="1391.8" x2="166.5" y2="1391.8" stroke="#262626"/>
<line x1="145.2" y1="1395.3" x2="166.5" y2="1395.3" stroke="#262626"/>
<line x1="143.7" y1="1393.5" x2="143.7" y2="1398.3" stroke="#262626"/>
<line x1="143.7" y1="1393.5" x2="145.2" y2="1393.5" stroke="#262626"/>
<line x1="143.7" y1="1398.3" x2="166.5" y2="1398.3" stroke="#262626"/>
<line x1="146.1" y1="1402.0" x2="146.1" y2="1405.3" stroke="#262626"/>
<line x1="146.1" y1="1402.0" x2="166.5" y2="1402.0" stroke="#262626"/>
<line x1="146.1" y1="1405.3" x2="166.5" y2="1405.3" stroke="#262626"/>
<line x1="144.6" y1="1403.6" x2="144.6" y2="1408.2" stroke="#262626"/>
<line x1="144.6" y1="1403.6" x2="146.1" y2="1403.6" stroke="#262626"/>
<line x1="144.6" y1="1408.2" x2="166.5" y2="1408.2" stroke="#262626"/>
<line x1="151.4" y1="1414.9" x2="151.4" y2="1418.1" stroke="#262626"/>
<line x1="151.4" y1="1414.9" x2="166.5" y2="1414.9" stroke="#262626"/>
<line x1="151.4" y1="1418.1" x2="166.5" y2="1418.1" stroke="#262626"/>
<line x1="142.3" y1="1411.6" x2="142.3" y2="1416.5" stroke="#262626"/>
<line x1="142.3" y1="1411.6" x2="166.5" y2="1411.6" stroke="#262626"/>
<line x1="142.3" y1="1416.5" x2="151.4" y2="1416.5" stroke="#262626"/>
<line x1="139.9" y1="1405.9" x2="139.9" y2="1414.1" stroke="#262626"/>
<line x1="139.9" y1="1405.9" x2="144.6" y2="1405.9" stroke="#262626"/>
<line x1="139.9" y1="1414.1" x2="142.3" y2="1414.1" stroke="#262626"/>
<line x1="131.7" y1="1395.9" x2="131.7" y2="1410.0" stroke="#262626"/>
<line x1="131.7" y1="1395.9" x2="143.7" y2="1395.9" stroke="#262626"/>
<line x1="131.7" y1="1410.0" x2="139.9" y2="1410.0" stroke="#262626"/>
<line x1="130.2" y1="1385.0" x2="130.2" y2="1403.0" stroke="#262626"/>
<line x1="130.2" y1="1385.0" x2="141.6" y2="1385.0" stroke="#262626"/>
<line x1="130.2" y1="1403.0" x2="131.7" y2="1403.0" stroke="#262626"/>
<line x1="123.5" y1="1370.5" x2="123.5" y2="1394.0" stroke="#262626"/>
<line x1="123.5" y1="1370.5" x2="142.0" y2="1370.5" stroke="#262626"/>
<line x1="123.5" y1="1394.0" x2="130.2" y2="1394.0" stroke="#262626"/>
<line x1="122.0" y1="1351.4" x2="122.0" y2="1382.3" stroke="#262626"/>
<line x1="122.0" y1="1351.4" x2="138.9" y2="1351.4" stroke="#262626"/>
<line x1="122.0" y1="1382.3" x2="123.5" y2="1382.3" stroke="#262626"/>
<line x1="100.0" y1="1224.7" x2="100.0" y2="1366.8" stroke="#262626"/>
<line x1="100.0" y1="1224.7" x2="107.5" y2="1224.7" stroke="#262626"/>
<line x1="100.0" y1="1366.8" x2="122.0" y2="1366.8" stroke="#262626"/>
<line x1="84.0" y1="959.0" x2="84.0" y2="1295.8" stroke="#262626"/>
<line x1="84.0" y1="959.0" x2="98.0" y2="959.0" stroke="#262626"/>
<line x1="84.0" y1="1295.8" x2="100.0" y2="1295.8" stroke="#262626"/>
<line x1="152.0" y1="1421.3" x2="152.0" y2="1423.6" stroke="#262626"/>
<line x1="152.0" y1="1421.3" x2="166.5" y2="1421.3" stroke="#262626"/>
<line x1="152.0" y1="1423.6" x2="166.5" y2="1423.6" stroke="#262626"/>
<line x1="150.5" y1="1422.5" x2="150.5" y2="1426.2" stroke="#262626"/>
<line x1="150.5" y1="1422.5" x2="152.0" y2="1422.5" stroke="#262626"/>
<line x1="150.5" y1="1426.2" x2="166.5" y2="1426.2" stroke="#262626"/>
<line x1="151.1" y1="1429.3" x2="151.1" y2="1432.4" stroke="#262626"/>
<line x1="151.1" y1="1429.3" x2="166.5" y2="1429.3" stroke="#262626"/>
<line x1="151.1" y1="1432.4" x2="166.5" y2="1432.4" stroke="#262626"/>
<line x1="142.8" y1="1424.4" x2="142.8" y2="1430.8" stroke="#262626"/>
<line x1="142.8" y1="1424.4" x2="150.5" y2="1424.4" stroke="#262626"/>
<line x1="142.8" y1="1430.8" x2="151.1" y2="1430.8" stroke="#262626"/>
<line x1="149.7" y1="1438.3" x2="149.7" y2="1440.7" stroke="#262626"/>
<line x1="149.7" y1="1438.3" x2="166.5" y2="1438.3" stroke="#262626"/>
<line x1="149.7" y1="1440.7" x2="166.5" y2="1440.7" stroke="#262626"/>
<line x1="148.2" y1="1435.6" x2="148.2" y2="1439.5" stroke="#262626"/>
<line x1="148.2" y1="1435.6" x2="166.5" y2="1435.6" stroke="#262626"/>
<line x1="148.2" y1="1439.5" x2="149.7" y2="1439.5" stroke="#262626"/>
<line x1="147.5" y1="1443.1" x2="147.5" y2="1446.2" stroke="#262626"/>
<line x1="147.5" y1="1443.1" x2="166.5" y2="1443.1" stroke="#262626"/>
<line x1="147.5" y1="1446.2" x2="166.5" y2="1446.2" stroke="#262626"/>
<line x1="153.1" y1="1449.3" x2="153.1" y2="1451.8" stroke="#262626"/>
<line x1="153.1" y1="1449.3" x2="166.5" y2="1449.3" stroke="#262626"/>
<line x1="153.1" y1="1451.8" x2="166.5" y2="1451.8" stroke="#262626"/>
<line x1="150.8" y1="1454.4" x2="150.8" y2="1456.7" stroke="#262626"/>
<line x1="150.8" y1="1454.4" x2="166.5" y2="1454.4" stroke="#262626"/>
<line x1="150.8" y1="1456.7" x2="166.5" y2="1456.7" stroke="#262626"/>
<line x1="145.4" y1="1450.6" x2="145.4" y2="1455.6" stroke="#262626"/>
<line x1="145.4" y1="1450.6" x2="153.1" y2="1450.6" stroke="#262626"/>
<line x1="145.4" y1="1455.6" x2="150.8" y2="1455.6" stroke="#262626"/>
<line x1="143.9" y1="1444.7" x2="143.9" y2="1453.1" stroke="#262626"/>
<line x1="143.9" y1="1444.7" x2="147.5" y2="1444.7" stroke="#262626"/>
<line x1="143.9" y1="1453.1" x2="145.4" y2="1453.1" stroke="#262626"/>
<line x1="142.4" y1="1437.5" x2="142.4" y2="1448.9" stroke="#262626"/>
<line x1="142.4" y1="1437.5" x2="148.2" y2="1437.5" stroke="#262626"/>
<line x1="142.4" y1="1448.9" x2="143.9" y2="1448.9" stroke="#262626"/>
<line x1="151.4" y1="1463.5" x2="151.4" y2="1466.3" stroke="#262626"/>
<line x1="151.4" y1="1463.5" x2="166.5" y2="1463.5" stroke="#262626"/>
<line x1="151.4" y1="1466.3" x2="166.5" y2="1466.3" stroke="#262626"/>
<line x1="142.7" y1="1459.9" x2="142.7" y2="1464.9" stroke="#262626"/>
<line x1="142.7" y1="1459.9" x2="166.5" y2="1459.9" stroke="#262626"/>
<line x1="142.7" y1="1464.9" x2="151.4" y2="1464.9" stroke="#262626"/>
<line x1="149.0" y1="1469.0" x2="149.0" y2="1472.1" stroke="#262626"/>
<line x1="149.0" y1="1469.0" x2="166.5" y2="1469.0" stroke="#262626"/>
<line x1="149.0" y1="1472.1" x2="166.5" y2="1472.1" stroke="#262626"/>
<line x1="141.2" y1="1462.4" x2="141.2" y2="1470.6" stroke="#262626"/>
<line x1="141.2" y1="1462.4" x2="142.7" y2="1462.4" stroke="#262626"/>
<line x1="141.2" y1="1470.6" x2="149.0" y2="1470.6" stroke="#262626"/>
<line x1="134.9" y1="1443.2" x2="134.9" y2="1466.5" stroke="#262626"/>
<line x1="134.9" y1="1443.2" x2="142.4" y2="1443.2" stroke="#262626"/>
<line x1="134.9" y1="1466.5" x2="141.2" y2="1466.5" stroke="#262626"/>
<line x1="124.9" y1="1427.6" x2="124.9" y2="1454.8" stroke="#262626"/>
<line x1="124.9" y1="1427.6" x2="142.8" y2="1427.6" stroke="#262626"/>
<line x1="124.9" y1="1454.8" x2="134.9" y2="1454.8" stroke="#262626"/>
<line x1="148.7" y1="1475.3" x2="148.7" y2="1478.0" stroke="#262626"/>
<line x1="148.7" y1="1475.3" x2="166.5" y2="1475.3" stroke="#262626"/>
<line x1="148.7" y1="1478.0" x2="166.5" y2="1478.0" stroke="#262626"/>
<line x1="148.3" y1="1483.4" x2="148.3" y2="1485.9" stroke="#262626"/>
<line x1="148.3" y1="1483.4" x2="166.5" y2="1483.4" stroke="#262626"/>
<line x1="148.3" y1="1485.9" x2="166.5" y2="1485.9" stroke="#262626"/>
<line x1="146.8" y1="1480.7" x2="146.8" y2="1484.6" stroke="#262626"/>
<line x1="146.8" y1="1480.7" x2="166.5" y2="1480.7" stroke="#262626"/>
<line x1="146.8" y1="1484.6" x2="148.3" y2="1484.6" stroke="#262626"/>
<line x1="141.6" y1="1476.6" x2="141.6" y2="1482.7" stroke="#262626"/>
<line x1="141.6" y1="1476.6" x2="148.7" y2="1476.6" stroke="#262626"/>
<line x1="141.6" y1="1482.7" x2="146.8" y2="1482.7" stroke="#262626"/>
<line x1="140.1" y1="1479.6" x2="140.1" y2="1488.6" stroke="#262626"/>
<line x1="140.1" y1="1479.6" x2="141.6" y2="1479.6" stroke="#262626"/>
<line x1="140.1" y1="1488.6" x2="166.5" y2="1488.6" stroke="#262626"/>
<line x1="120.5" y1="1441.2" x2="120.5" y2="1484.1" stroke="#262626"/>
<line x1="120.5" y1="1441.2" x2="124.9" y2="1441.2" stroke="#262626"/>
<line x1="120.5" y1="1484.1" x2="140.1" y2="1484.1" stroke="#262626"/>
<line x1="150.4" y1="1491.6" x2="150.4" y2="1494.1" stroke="#262626"/>
<line x1="150.4" y1="1491.6" x2="166.5" y2="1491.6" stroke="#262626"/>
<line x1="150.4" y1="1494.1" x2="166.5" y2="1494.1" stroke="#262626"/>
<line x1="151.7" y1="1497.3" x2="151.7" y2="1500.7" stroke="#262626"/>
<line x1="151.7" y1="1497.3" x2="166.5" y2="1497.3" stroke="#262626"/>
<line x1="151.7" y1="1500.7" x2="166.5" y2="1500.7" stroke="#262626"/>
<line x1="151.6" y1="1503.4" x2="151.6" y2="1505.9" stroke="#262626"/>
<line x1="151.6" y1="1503.4" x2="166.5" y2="1503.4" stroke="#262626"/>
<line x1="151.6" y1="1505.9" x2="166.5" y2="1505.9" stroke="#262626"/>
<line x1="145.1" y1="1499.0" x2="145.1" y2="1504.7" stroke="#262626"/>
<line x1="145.1" y1="1499.0" x2="151.7" y2="1499.0" stroke="#262626"/>
<line x1="145.1" y1="1504.7" x2="151.6" y2="1504.7" stroke="#262626"/>
<line x1="143.6" y1="1492.8" x2="143.6" y2="1501.8" stroke="#262626"/>
<line x1="143.6" y1="1492.8" x2="150.4" y2="1492.8" stroke="#262626"/>
<line x1="143.6" y1="1501.8" x2="145.1" y2="1501.8" stroke="#262626"/>
<line x1="145.9" y1="1508.7" x2="145.9" y2="1512.1" stroke="#262626"/>
<line x1="145.9" y1="1508.7" x2="166.5" y2="1508.7" stroke="#262626"/>
<line x1="145.9" y1="1512.1" x2="166.5" y2="1512.1" stroke="#262626"/>
<line x1="145.1" y1="1519.0" x2="145.1" y2="1523.2" stroke="#262626"/>
<line x1="145.1" y1="1519.0" x2="166.5" y2="1519.0" stroke="#262626"/>
<line x1="145.1" y1="1523.2" x2="166.5" y2="1523.2" stroke="#262626"/>
<line x1="141.3" y1="1515.3" x2="141.3" y2="1521.1" stroke="#262626"/>
<line x1="141.3" y1="1515.3" x2="166.5" y2="1515.3" stroke="#262626"/>
<line x1="141.3" y1="1521.1" x2="145.1" y2="1521.1" stroke="#262626"/>
<line x1="139.8" y1="1510.4" x2="139.8" y2="1518.2" stroke="#262626"/>
<line x1="139.8" y1="1510.4" x2="145.9" y2="1510.4" stroke="#262626"/>
<line x1="139.8" y1="1518.2" x2="141.3" y2="1518.2" stroke="#262626"/>
<line x1="138.3" y1="1497.3" x2="138.3" y2="1514.3" stroke="#262626"/>
<line x1="138.3" y1="1497.3" x2="143.6" y2="1497.3" stroke="#262626"/>
<line x1="138.3" y1="1514.3" x2="139.8" y2="1514.3" stroke="#262626"/>
<line x1="112.4" y1="1462.7" x2="112.4" y2="1505.8" stroke="#262626"/>
<line x1="112.4" y1="1462.7" x2="120.5" y2="1462.7" stroke="#262626"/>
<line x1="112.4" y1="1505.8" x2="138.3" y2="1505.8" stroke="#262626"/>
<line x1="149.3" y1="1526.8" x2="149.3" y2="1529.6" stroke="#262626"/>
<line x1="149.3" y1="1526.8" x2="166.5" y2="1526.8" stroke="#262626"/>
<line x1="149.3" y1="1529.6" x2="166.5" y2="1529.6" stroke="#262626"/>
<line x1="149.4" y1="1532.3" x2="149.4" y2="1534.6" stroke="#262626"/>
<line x1="149.4" y1="1532.3" x2="166.5" y2="1532.3" stroke="#262626"/>
<line x1="149.4" y1="1534.6" x2="166.5" y2="1534.6" stroke="#262626"/>
<line x1="147.9" y1="1533.4" x2="147.9" y2="1536.9" stroke="#262626"/>
<line x1="147.9" y1="1533.4" x2="149.4" y2="1533.4" stroke="#262626"/>
<line x1="147.9" y1="1536.9" x2="166.5" y2="1536.9" stroke="#262626"/>
<line x1="145.3" y1="1528.2" x2="145.3" y2="1535.1" stroke="#262626"/>
<line x1="145.3" y1="1528.2" x2="149.3" y2="1528.2" stroke="#262626"/>
<line x1="145.3" y1="1535.1" x2="147.9" y2="1535.1" stroke="#262626"/>
<line x1="138.9" y1="1531.7" x2="138.9" y2="1540.3" stroke="#262626"/>
<line x1="138.9" y1="1531.7" x2="145.3" y2="1531.7" stroke="#262626"/>
<line x1="138.9" y1="1540.3" x2="166.5" y2="1540.3" stroke="#262626"/>
<line x1="151.9" y1="1551.3" x2="151.9" y2="1553.6" stroke="#262626"/>
<line x1="151.9" y1="1551.3" x2="166.5" y2="1551.3" stroke="#262626"/>
<line x1="151.9" y1="1553.6" x2="166.5" y2="1553.6" stroke="#262626"/>
<line x1="150.4" y1="1548.2" x2="150.4" y2="1552.5" stroke="#262626"/>
<line x1="150.4" y1="1548.2" x2="166.5" y2="1548.2" stroke="#262626"/>
<line x1="150.4" y1="1552.5" x2="151.9" y2="1552.5" stroke="#262626"/>
<line x1="147.1" y1="1544.4" x2="147.1" y2="1550.3" stroke="#262626"/>
<line x1="147.1" y1="1544.4" x2="166.5" y2="1544.4" stroke="#262626"/>
<line x1="147.1" y1="1550.3" x2="150.4" y2="1550.3" stroke="#262626"/>
<line x1="153.4" y1="1558.7" x2="153.4" y2="1561.4" stroke="#262626"/>
<line x1="153.4" y1="1558.7" x2="166.5" y2="1558.7" stroke="#262626"/>
<line x1="153.4" y1="1561.4" x2="166.5" y2="1561.4" stroke="#262626"/>
<line x1="153.5" y1="1564.0" x2="153.5" y2="1566.3" stroke="#262626"/>
<line x1="153.5" y1="1564.0" x2="166.5" y2="1564.0" stroke="#262626"/>
<line x1="153.5" y1="1566.3" x2="166.5" y2="1566.3" stroke="#262626"/>
<line x1="145.7" y1="1560.1" x2="145.7" y2="1565.2" stroke="#262626"/>
<line x1="145.7" y1="1560.1" x2="153.4" y2="1560.1" stroke="#262626"/>
<line x1="145.7" y1="1565.2" x2="153.5" y2="1565.2" stroke="#262626"/>
<line x1="144.2" y1="1556.0" x2="144.2" y2="1562.6" stroke="#262626"/>
<line x1="144.2" y1="1556.0" x2="166.5" y2="1556.0" stroke="#262626"/>
<line x1="144.2" y1="1562.6" x2="145.7" y2="1562.6" stroke="#262626"/>
<line x1="152.4" y1="1568.6" x2="152.4" y2="1570.8" stroke="#262626"/>
<line x1="152.4" y1="1568.6" x2="166.5" y2="1568.6" stroke="#262626"/>
<line x1="152.4" y1="1570.8" x2="166.5" y2="1570.8" stroke="#262626"/>
<line x1="142.7" y1="1559.3" x2="142.7" y2="1569.7" stroke="#262626"/>
<line x1="142.7" y1="1559.3" x2="144.2" y2="1559.3" stroke="#262626"/>
<line x1="142.7" y1="1569.7" x2="152.4" y2="1569.7" stroke="#262626"/>
<line x1="149.2" y1="1573.1" x2="149.2" y2="1575.8" stroke="#262626"/>
<line x1="149.2" y1="1573.1" x2="166.5" y2="1573.1" stroke="#262626"/>
<line x1="149.2" y1="1575.8" x2="166.5" y2="1575.8" stroke="#262626"/>
<line x1="146.9" y1="1574.5" x2="146.9" y2="1579.4" stroke="#262626"/>
<line x1="146.9" y1="1574.5" x2="149.2" y2="1574.5" stroke="#262626"/>
<line x1="146.9" y1="1579.4" x2="166.5" y2="1579.4" stroke="#262626"/>
<line x1="138.6" y1="1564.5" x2="138.6" y2="1576.9" stroke="#262626"/>
<line x1="138.6" y1="1564.5" x2="142.7" y2="1564.5" stroke="#262626"/>
<line x1="138.6" y1="1576.9" x2="146.9" y2="1576.9" stroke="#262626"/>
<line x1="137.1" y1="1547.4" x2="137.1" y2="1570.7" stroke="#262626"/>
<line x1="137.1" y1="1547.4" x2="147.1" y2="1547.4" stroke="#262626"/>
<line x1="137.1" y1="1570.7" x2="138.6" y2="1570.7" stroke="#262626"/>
<line x1="149.3" y1="1583.0" x2="149.3" y2="1585.4" stroke="#262626"/>
<line x1="149.3" y1="1583.0" x2="166.5" y2="1583.0" stroke="#262626"/>
<line x1="149.3" y1="1585.4" x2="166.5" y2="1585.4" stroke="#262626"/>
<line x1="151.0" y1="1587.8" x2="151.0" y2="1590.3" stroke="#262626"/>
<line x1="151.0" y1="1587.8" x2="166.5" y2="1587.8" stroke="#262626"/>
<line x1="151.0" y1="1590.3" x2="166.5" y2="1590.3" stroke="#262626"/>
<line x1="147.8" y1="1584.2" x2="147.8" y2="1589.0" stroke="#262626"/>
<line x1="147.8" y1="1584.2" x2="149.3" y2="1584.2" stroke="#262626"/>
<line x1="147.8" y1="1589.0" x2="151.0" y2="1589.0" stroke="#262626"/>
<line x1="151.3" y1="1593.1" x2="151.3" y2="1596.8" stroke="#262626"/>
<line x1="151.3" y1="1593.1" x2="166.5" y2="1593.1" stroke="#262626"/>
<line x1="151.3" y1="1596.8" x2="166.5" y2="1596.8" stroke="#262626"/>
<line x1="145.8" y1="1586.6" x2="145.8" y2="1595.0" stroke="#262626"/>
<line x1="145.8" y1="1586.6" x2="147.8" y2="1586.6" stroke="#262626"/>
<line x1="145.8" y1="1595.0" x2="151.3" y2="1595.0" stroke="#262626"/>
<line x1="130.6" y1="1559.0" x2="130.6" y2="1590.8" stroke="#262626"/>
<line x1="130.6" y1="1559.0" x2="137.1" y2="1559.0" stroke="#262626"/>
<line x1="130.6" y1="1590.8" x2="145.8" y2="1590.8" stroke="#262626"/>
<line x1="129.1" y1="1536.0" x2="129.1" y2="1574.9" stroke="#262626"/>
<line x1="129.1" y1="1536.0" x2="138.9" y2="1536.0" stroke="#262626"/>
<line x1="129.1" y1="1574.9" x2="130.6" y2="1574.9" stroke="#262626"/>
<line x1="148.4" y1="1606.8" x2="148.4" y2="1609.5" stroke="#262626"/>
<line x1="148.4" y1="1606.8" x2="166.5" y2="1606.8" stroke="#262626"/>
<line x1="148.4" y1="1609.5" x2="166.5" y2="1609.5" stroke="#262626"/>
<line x1="146.9" y1="1604.1" x2="146.9" y2="1608.1" stroke="#262626"/>
<line x1="146.9" y1="1604.1" x2="166.5" y2="1604.1" stroke="#262626"/>
<line x1="146.9" y1="1608.1" x2="148.4" y2="1608.1" stroke="#262626"/>
<line x1="149.8" y1="1612.2" x2="149.8" y2="1615.1" stroke="#262626"/>
<line x1="149.8" y1="1612.2" x2="166.5" y2="1612.2" stroke="#262626"/>
<line x1="149.8" y1="1615.1" x2="166.5" y2="1615.1" stroke="#262626"/>
<line x1="145.0" y1="1606.1" x2="145.0" y2="1613.6" stroke="#262626"/>
<line x1="145.0" y1="1606.1" x2="146.9" y2="1606.1" stroke="#262626"/>
<line x1="145.0" y1="1613.6" x2="149.8" y2="1613.6" stroke="#262626"/>
<line x1="137.3" y1="1600.7" x2="137.3" y2="1609.9" stroke="#262626"/>
<line x1="137.3" y1="1600.7" x2="166.5" y2="1600.7" stroke="#262626"/>
<line x1="137.3" y1="1609.9" x2="145.0" y2="1609.9" stroke="#262626"/>
<line x1="147.6" y1="1618.0" x2="147.6" y2="1620.5" stroke="#262626"/>
<line x1="147.6" y1="1618.0" x2="166.5" y2="1618.0" stroke="#262626"/>
<line x1="147.6" y1="1620.5" x2="166.5" y2="1620.5" stroke="#262626"/>
<line x1="147.2" y1="1623.0" x2="147.2" y2="1625.6" stroke="#262626"/>
<line x1="147.2" y1="1623.0" x2="166.5" y2="1623.0" stroke="#262626"/>
<line x1="147.2" y1="1625.6" x2="166.5" y2="1625.6" stroke="#262626"/>
<line x1="145.7" y1="1624.3" x2="145.7" y2="1628.3" stroke="#262626"/>
<line x1="145.7" y1="1624.3" x2="147.2" y2="1624.3" stroke="#262626"/>
<line x1="145.7" y1="1628.3" x2="166.5" y2="1628.3" stroke="#262626"/>
<line x1="148.7" y1="1631.0" x2="148.7" y2="1633.3" stroke="#262626"/>
<line x1="148.7" y1="1631.0" x2="166.5" y2="1631.0" stroke="#262626"/>
<line x1="148.7" y1="1633.3" x2="166.5" y2="1633.3" stroke="#262626"/>
<line x1="144.2" y1="1626.3" x2="144.2" y2="1632.2" stroke="#262626"/>
<line x1="144.2" y1="1626.3" x2="145.7" y2="1626.3" stroke="#262626"/>
<line x1="144.2" y1="1632.2" x2="148.7" y2="1632.2" stroke="#262626"/>
<line x1="139.1" y1="1619.2" x2="139.1" y2="1629.2" stroke="#262626"/>
<line x1="139.1" y1="1619.2" x2="147.6" y2="1619.2" stroke="#262626"/>
<line x1="139.1" y1="1629.2" x2="144.2" y2="1629.2" stroke="#262626"/>
<line x1="129.7" y1="1605.3" x2="129.7" y2="1624.2" stroke="#262626"/>
<line x1="129.7" y1="1605.3" x2="137.3" y2="1605.3" stroke="#262626"/>
<line x1="129.7" y1="1624.2" x2="139.1" y2="1624.2" stroke="#262626"/>
<line x1="152.2" y1="1639.8" x2="152.2" y2="1642.6" stroke="#262626"/>
<line x1="152.2" y1="1639.8" x2="166.5" y2="1639.8" stroke="#262626"/>
<line x1="152.2" y1="1642.6" x2="166.5" y2="1642.6" stroke="#262626"/>
<line x1="143.3" y1="1636.2" x2="143.3" y2="1641.2" stroke="#262626"/>
<line x1="143.3" y1="1636.2" x2="166.5" y2="1636.2" stroke="#262626"/>
<line x1="143.3" y1="1641.2" x2="152.2" y2="1641.2" stroke="#262626"/>
<line x1="147.9" y1="1648.0" x2="147.9" y2="1650.6" stroke="#262626"/>
<line x1="147.9" y1="1648.0" x2="166.5" y2="1648.0" stroke="#262626"/>
<line x1="147.9" y1="1650.6" x2="166.5" y2="1650.6" stroke="#262626"/>
<line x1="146.4" y1="1645.3" x2="146.4" y2="1649.3" stroke="#262626"/>
<line x1="146.4" y1="1645.3" x2="166.5" y2="1645.3" stroke="#262626"/>
<line x1="146.4" y1="1649.3" x2="147.9" y2="1649.3" stroke="#262626"/>
<line x1="144.9" y1="1647.3" x2="144.9" y2="1653.6" stroke="#262626"/>
<line x1="144.9" y1="1647.3" x2="146.4" y2="1647.3" stroke="#262626"/>
<line x1="144.9" y1="1653.6" x2="166.5" y2="1653.6" stroke="#262626"/>
<line x1="151.8" y1="1660.6" x2="151.8" y2="1663.6" stroke="#262626"/>
<line x1="151.8" y1="1660.6" x2="166.5" y2="1660.6" stroke="#262626"/>
<line x1="151.8" y1="1663.6" x2="166.5" y2="1663.6" stroke="#262626"/>
<line x1="149.1" y1="1657.3" x2="149.1" y2="1662.1" stroke="#262626"/>
<line x1="149.1" y1="1657.3" x2="166.5" y2="1657.3" stroke="#262626"/>
<line x1="149.1" y1="1662.1" x2="151.8" y2="1662.1" stroke="#262626"/>
<line x1="145.8" y1="1667.4" x2="145.8" y2="1671.0" stroke="#262626"/>
<line x1="145.8" y1="1667.4" x2="166.5" y2="1667.4" stroke="#262626"/>
<line x1="145.8" y1="1671.0" x2="166.5" y2="1671.0" stroke="#262626"/>
<line x1="144.3" y1="1669.2" x2="144.3" y2="1673.7" stroke="#262626"/>
<line x1="144.3" y1="1669.2" x2="145.8" y2="1669.2" stroke="#262626"/>
<line x1="144.3" y1="1673.7" x2="166.5" y2="1673.7" stroke="#262626"/>
<line x1="138.0" y1="1659.7" x2="138.0" y2="1671.5" stroke="#262626"/>
<line x1="138.0" y1="1659.7" x2="149.1" y2="1659.7" stroke="#262626"/>
<line x1="138.0" y1="1671.5" x2="144.3" y2="1671.5" stroke="#262626"/>
<line x1="136.5" y1="1650.5" x2="136.5" y2="1665.6" stroke="#262626"/>
<line x1="136.5" y1="1650.5" x2="144.9" y2="1650.5" stroke="#262626"/>
<line x1="136.5" y1="1665.6" x2="138.0" y2="1665.6" stroke="#262626"/>
<line x1="133.1" y1="1638.7" x2="133.1" y2="1658.0" stroke="#262626"/>
<line x1="133.1" y1="1638.7" x2="143.3" y2="1638.7" stroke="#262626"/>
<line x1="133.1" y1="1658.0" x2="136.5" y2="1658.0" stroke="#262626"/>
<line x1="123.2" y1="1614.8" x2="123.2" y2="1648.4" stroke="#262626"/>
<line x1="123.2" y1="1614.8" x2="129.7" y2="1614.8" stroke="#262626"/>
<line x1="123.2" y1="1648.4" x2="133.1" y2="1648.4" stroke="#262626"/>
<line x1="117.5" y1="1555.4" x2="117.5" y2="1631.6" stroke="#262626"/>
<line x1="117.5" y1="1555.4" x2="129.1" y2="1555.4" stroke="#262626"/>
<line x1="117.5" y1="1631.6" x2="123.2" y2="1631.6" stroke="#262626"/>
<line x1="146.4" y1="1676.4" x2="146.4" y2="1679.4" stroke="#262626"/>
<line x1="146.4" y1="1676.4" x2="166.5" y2="1676.4" stroke="#262626"/>
<line x1="146.4" y1="1679.4" x2="166.5" y2="1679.4" stroke="#262626"/>
<line x1="144.9" y1="1677.9" x2="144.9" y2="1682.4" stroke="#262626"/>
<line x1="144.9" y1="1677.9" x2="146.4" y2="1677.9" stroke="#262626"/>
<line x1="144.9" y1="1682.4" x2="166.5" y2="1682.4" stroke="#262626"/>
<line x1="146.5" y1="1685.3" x2="146.5" y2="1688.9" stroke="#262626"/>
<line x1="146.5" y1="1685.3" x2="166.5" y2="1685.3" stroke="#262626"/>
<line x1="146.5" y1="1688.9" x2="166.5" y2="1688.9" stroke="#262626"/>
<line x1="143.4" y1="1680.1" x2="143.4" y2="1687.1" stroke="#262626"/>
<line x1="143.4" y1="1680.1" x2="144.9" y2="1680.1" stroke="#262626"/>
<line x1="143.4" y1="1687.1" x2="146.5" y2="1687.1" stroke="#262626"/>
<line x1="147.9" y1="1692.2" x2="147.9" y2="1695.2" stroke="#262626"/>
<line x1="147.9" y1="1692.2" x2="166.5" y2="1692.2" stroke="#262626"/>
<line x1="147.9" y1="1695.2" x2="166.5" y2="1695.2" stroke="#262626"/>
<line x1="152.8" y1="1698.2" x2="152.8" y2="1700.7" stroke="#262626"/>
<line x1="152.8" y1="1698.2" x2="166.5" y2="1698.2" stroke="#262626"/>
<line x1="152.8" y1="1700.7" x2="166.5" y2="1700.7" stroke="#262626"/>
<line x1="143.6" y1="1693.7" x2="143.6" y2="1699.5" stroke="#262626"/>
<line x1="143.6" y1="1693.7" x2="147.9" y2="1693.7" stroke="#262626"/>
<line x1="143.6" y1="1699.5" x2="152.8" y2="1699.5" stroke="#262626"/>
<line x1="142.1" y1="1696.6" x2="142.1" y2="1703.3" stroke="#262626"/>
<line x1="142.1" y1="1696.6" x2="143.6" y2="1696.6" stroke="#262626"/>
<line x1="142.1" y1="1703.3" x2="166.5" y2="1703.3" stroke="#262626"/>
<line x1="133.3" y1="1683.6" x2="133.3" y2="1699.9" stroke="#262626"/>
<line x1="133.3" y1="1683.6" x2="143.4" y2="1683.6" stroke="#262626"/>
<line x1="133.3" y1="1699.9" x2="142.1" y2="1699.9" stroke="#262626"/>
<line x1="144.9" y1="1710.8" x2="144.9" y2="1714.5" stroke="#262626"/>
<line x1="144.9" y1="1710.8" x2="166.5" y2="1710.8" stroke="#262626"/>
<line x1="144.9" y1="1714.5" x2="166.5" y2="1714.5" stroke="#262626"/>
<line x1="143.4" y1="1706.7" x2="143.4" y2="1712.6" stroke="#262626"/>
<line x1="143.4" y1="1706.7" x2="166.5" y2="1706.7" stroke="#262626"/>
<line x1="143.4" y1="1712.6" x2="144.9" y2="1712.6" stroke="#262626"/>
<line x1="131.3" y1="1691.8" x2="131.3" y2="1709.7" stroke="#262626"/>
<line x1="131.3" y1="1691.8" x2="133.3" y2="1691.8" stroke="#262626"/>
<line x1="131.3" y1="1709.7" x2="143.4" y2="1709.7" stroke="#262626"/>
<line x1="114.2" y1="1593.5" x2="114.2" y2="1700.7" stroke="#262626"/>
<line x1="114.2" y1="1593.5" x2="117.5" y2="1593.5" stroke="#262626"/>
<line x1="114.2" y1="1700.7" x2="131.3" y2="1700.7" stroke="#262626"/>
<line x1="96.0" y1="1484.2" x2="96.0" y2="1647.1" stroke="#262626"/>
<line x1="96.0" y1="1484.2" x2="112.4" y2="1484.2" stroke="#262626"/>
<line x1="96.0" y1="1647.1" x2="114.2" y2="1647.1" stroke="#262626"/>
<line x1="151.5" y1="1720.1" x2="151.5" y2="1722.4" stroke="#262626"/>
<line x1="151.5" y1="1720.1" x2="166.5" y2="1720.1" stroke="#262626"/>
<line x1="151.5" y1="1722.4" x2="166.5" y2="1722.4" stroke="#262626"/>
<line x1="148.3" y1="1717.3" x2="148.3" y2="1721.2" stroke="#262626"/>
<line x1="148.3" y1="1717.3" x2="166.5" y2="1717.3" stroke="#262626"/>
<line x1="148.3" y1="1721.2" x2="151.5" y2="1721.2" stroke="#262626"/>
<line x1="149.3" y1="1724.7" x2="149.3" y2="1727.4" stroke="#262626"/>
<line x1="149.3" y1="1724.7" x2="166.5" y2="1724.7" stroke="#262626"/>
<line x1="149.3" y1="1727.4" x2="166.5" y2="1727.4" stroke="#262626"/>
<line x1="151.8" y1="1739.2" x2="151.8" y2="1741.6" stroke="#262626"/>
<line x1="151.8" y1="1739.2" x2="166.5" y2="1739.2" stroke="#262626"/>
<line x1="151.8" y1="1741.6" x2="166.5" y2="1741.6" stroke="#262626"/>
<line x1="149.8" y1="1736.1" x2="149.8" y2="1740.4" stroke="#262626"/>
<line x1="149.8" y1="1736.1" x2="166.5" y2="1736.1" stroke="#262626"/>
<line x1="149.8" y1="1740.4" x2="151.8" y2="1740.4" stroke="#262626"/>
<line x1="145.0" y1="1733.1" x2="145.0" y2="1738.2" stroke="#262626"/>
<line x1="145.0" y1="1733.1" x2="166.5" y2="1733.1" stroke="#262626"/>
<line x1="145.0" y1="1738.2" x2="149.8" y2="1738.2" stroke="#262626"/>
<line x1="143.1" y1="1730.2" x2="143.1" y2="1735.6" stroke="#262626"/>
<line x1="143.1" y1="1730.2" x2="166.5" y2="1730.2" stroke="#262626"/>
<line x1="143.1" y1="1735.6" x2="145.0" y2="1735.6" stroke="#262626"/>
<line x1="141.6" y1="1726.1" x2="141.6" y2="1732.9" stroke="#262626"/>
<line x1="141.6" y1="1726.1" x2="149.3" y2="1726.1" stroke="#262626"/>
<line x1="141.6" y1="1732.9" x2="143.1" y2="1732.9" stroke="#262626"/>
<line x1="149.0" y1="1744.6" x2="149.0" y2="1748.0" stroke="#262626"/>
<line x1="149.0" y1="1744.6" x2="166.5" y2="1744.6" stroke="#262626"/>
<line x1="149.0" y1="1748.0" x2="166.5" y2="1748.0" stroke="#262626"/>
<line x1="140.1" y1="1729.5" x2="140.1" y2="1746.3" stroke="#262626"/>
<line x1="140.1" y1="1729.5" x2="141.6" y2="1729.5" stroke="#262626"/>
<line x1="140.1" y1="1746.3" x2="149.0" y2="1746.3" stroke="#262626"/>
<line x1="130.4" y1="1719.3" x2="130.4" y2="1737.9" stroke="#262626"/>
<line x1="130.4" y1="1719.3" x2="148.3" y2="1719.3" stroke="#262626"/>
<line x1="130.4" y1="1737.9" x2="140.1" y2="1737.9" stroke="#262626"/>
<line x1="148.0" y1="1754.4" x2="148.0" y2="1757.3" stroke="#262626"/>
<line x1="148.0" y1="1754.4" x2="166.5" y2="1754.4" stroke="#262626"/>
<line x1="148.0" y1="1757.3" x2="166.5" y2="1757.3" stroke="#262626"/>
<line x1="146.5" y1="1755.9" x2="146.5" y2="1760.7" stroke="#262626"/>
<line x1="146.5" y1="1755.9" x2="148.0" y2="1755.9" stroke="#262626"/>
<line x1="146.5" y1="1760.7" x2="166.5" y2="1760.7" stroke="#262626"/>
<line x1="145.0" y1="1751.2" x2="145.0" y2="1758.3" stroke="#262626"/>
<line x1="145.0" y1="1751.2" x2="166.5" y2="1751.2" stroke="#262626"/>
<line x1="145.0" y1="1758.3" x2="146.5" y2="1758.3" stroke="#262626"/>
<line x1="148.5" y1="1764.8" x2="148.5" y2="1768.2" stroke="#262626"/>
<line x1="148.5" y1="1764.8" x2="166.5" y2="1764.8" stroke="#262626"/>
<line x1="148.5" y1="1768.2" x2="166.5" y2="1768.2" stroke="#262626"/>
<line x1="146.4" y1="1771.0" x2="146.4" y2="1774.2" stroke="#262626"/>
<line x1="146.4" y1="1771.0" x2="166.5" y2="1771.0" stroke="#262626"/>
<line x1="146.4" y1="1774.2" x2="166.5" y2="1774.2" stroke="#262626"/>
<line x1="144.0" y1="1772.6" x2="144.0" y2="1778.0" stroke="#262626"/>
<line x1="144.0" y1="1772.6" x2="146.4" y2="1772.6" stroke="#262626"/>
<line x1="144.0" y1="1778.0" x2="166.5" y2="1778.0" stroke="#262626"/>
<line x1="153.3" y1="1781.6" x2="153.3" y2="1784.2" stroke="#262626"/>
<line x1="153.3" y1="1781.6" x2="166.5" y2="1781.6" stroke="#262626"/>
<line x1="153.3" y1="1784.2" x2="166.5" y2="1784.2" stroke="#262626"/>
<line x1="152.2" y1="1786.9" x2="152.2" y2="1789.5" stroke="#262626"/>
<line x1="152.2" y1="1786.9" x2="166.5" y2="1786.9" stroke="#262626"/>
<line x1="152.2" y1="1789.5" x2="166.5" y2="1789.5" stroke="#262626"/>
<line x1="149.2" y1="1792.1" x2="149.2" y2="1794.5" stroke="#262626"/>
<line x1="149.2" y1="1792.1" x2="166.5" y2="1792.1" stroke="#262626"/>
<line x1="149.2" y1="1794.5" x2="166.5" y2="1794.5" stroke="#262626"/>
<line x1="147.7" y1="1788.2" x2="147.7" y2="1793.3" stroke="#262626"/>
<line x1="147.7" y1="1788.2" x2="152.2" y2="1788.2" stroke="#262626"/>
<line x1="147.7" y1="1793.3" x2="149.2" y2="1793.3" stroke="#262626"/>
<line x1="142.6" y1="1782.9" x2="142.6" y2="1790.7" stroke="#262626"/>
<line x1="142.6" y1="1782.9" x2="153.3" y2="1782.9" stroke="#262626"/>
<line x1="142.6" y1="1790.7" x2="147.7" y2="1790.7" stroke="#262626"/>
<line x1="133.4" y1="1775.3" x2="133.4" y2="1786.8" stroke="#262626"/>
<line x1="133.4" y1="1775.3" x2="144.0" y2="1775.3" stroke="#262626"/>
<line x1="133.4" y1="1786.8" x2="142.6" y2="1786.8" stroke="#262626"/>
<line x1="131.9" y1="1766.5" x2="131.9" y2="1781.1" stroke="#262626"/>
<line x1="131.9" y1="1766.5" x2="148.5" y2="1766.5" stroke="#262626"/>
<line x1="131.9" y1="1781.1" x2="133.4" y2="1781.1" stroke="#262626"/>
<line x1="130.4" y1="1754.8" x2="130.4" y2="1773.8" stroke="#262626"/>
<line x1="130.4" y1="1754.8" x2="145.0" y2="1754.8" stroke="#262626"/>
<line x1="130.4" y1="1773.8" x2="131.9" y2="1773.8" stroke="#262626"/>
<line x1="150.2" y1="1799.9" x2="150.2" y2="1803.4" stroke="#262626"/>
<line x1="150.2" y1="1799.9" x2="166.5" y2="1799.9" stroke="#262626"/>
<line x1="150.2" y1="1803.4" x2="166.5" y2="1803.4" stroke="#262626"/>
<line x1="148.7" y1="1797.0" x2="148.7" y2="1801.6" stroke="#262626"/>
<line x1="148.7" y1="1797.0" x2="166.5" y2="1797.0" stroke="#262626"/>
<line x1="148.7" y1="1801.6" x2="150.2" y2="1801.6" stroke="#262626"/>
<line x1="149.5" y1="1806.8" x2="149.5" y2="1809.1" stroke="#262626"/>
<line x1="149.5" y1="1806.8" x2="166.5" y2="1806.8" stroke="#262626"/>
<line x1="149.5" y1="1809.1" x2="166.5" y2="1809.1" stroke="#262626"/>
<line x1="141.6" y1="1799.3" x2="141.6" y2="1808.0" stroke="#262626"/>
<line x1="141.6" y1="1799.3" x2="148.7" y2="1799.3" stroke="#262626"/>
<line x1="141.6" y1="1808.0" x2="149.5" y2="1808.0" stroke="#262626"/>
<line x1="151.0" y1="1814.1" x2="151.0" y2="1816.5" stroke="#262626"/>
<line x1="151.0" y1="1814.1" x2="166.5" y2="1814.1" stroke="#262626"/>
<line x1="151.0" y1="1816.5" x2="166.5" y2="1816.5" stroke="#262626"/>
<line x1="146.4" y1="1815.3" x2="146.4" y2="1818.9" stroke="#262626"/>
<line x1="146.4" y1="1815.3" x2="151.0" y2="1815.3" stroke="#262626"/>
<line x1="146.4" y1="1818.9" x2="166.5" y2="1818.9" stroke="#262626"/>
<line x1="144.9" y1="1811.4" x2="144.9" y2="1817.1" stroke="#262626"/>
<line x1="144.9" y1="1811.4" x2="166.5" y2="1811.4" stroke="#262626"/>
<line x1="144.9" y1="1817.1" x2="146.4" y2="1817.1" stroke="#262626"/>
<line x1="140.1" y1="1803.7" x2="140.1" y2="1814.2" stroke="#262626"/>
<line x1="140.1" y1="1803.7" x2="141.6" y2="1803.7" stroke="#262626"/>
<line x1="140.1" y1="1814.2" x2="144.9" y2="1814.2" stroke="#262626"/>
<line x1="152.4" y1="1821.6" x2="152.4" y2="1824.8" stroke="#262626"/>
<line x1="152.4" y1="1821.6" x2="166.5" y2="1821.6" stroke="#262626"/>
<line x1="152.4" y1="1824.8" x2="166.5" y2="1824.8" stroke="#262626"/>
<line x1="149.2" y1="1828.1" x2="149.2" y2="1830.3" stroke="#262626"/>
<line x1="149.2" y1="1828.1" x2="166.5" y2="1828.1" stroke="#262626"/>
<line x1="149.2" y1="1830.3" x2="166.5" y2="1830.3" stroke="#262626"/>
<line x1="147.0" y1="1829.2" x2="147.0" y2="1832.6" stroke="#262626"/>
<line x1="147.0" y1="1829.2" x2="149.2" y2="1829.2" stroke="#262626"/>
<line x1="147.0" y1="1832.6" x2="166.5" y2="1832.6" stroke="#262626"/>
<line x1="149.3" y1="1839.6" x2="149.3" y2="1843.0" stroke="#262626"/>
<line x1="149.3" y1="1839.6" x2="166.5" y2="1839.6" stroke="#262626"/>
<line x1="149.3" y1="1843.0" x2="166.5" y2="1843.0" stroke="#262626"/>
<line x1="143.5" y1="1835.8" x2="143.5" y2="1841.3" stroke="#262626"/>
<line x1="143.5" y1="1835.8" x2="166.5" y2="1835.8" stroke="#262626"/>
<line x1="143.5" y1="1841.3" x2="149.3" y2="1841.3" stroke="#262626"/>
<line x1="141.5" y1="1830.9" x2="141.5" y2="1838.6" stroke="#262626"/>
<line x1="141.5" y1="1830.9" x2="147.0" y2="1830.9" stroke="#262626"/>
<line x1="141.5" y1="1838.6" x2="143.5" y2="1838.6" stroke="#262626"/>
<line x1="140.0" y1="1823.2" x2="140.0" y2="1834.7" stroke="#262626"/>
<line x1="140.0" y1="1823.2" x2="152.4" y2="1823.2" stroke="#262626"/>
<line x1="140.0" y1="1834.7" x2="141.5" y2="1834.7" stroke="#262626"/>
<line x1="129.3" y1="1808.9" x2="129.3" y2="1829.0" stroke="#262626"/>
<line x1="129.3" y1="1808.9" x2="140.1" y2="1808.9" stroke="#262626"/>
<line x1="129.3" y1="1829.0" x2="140.0" y2="1829.0" stroke="#262626"/>
<line x1="150.4" y1="1846.0" x2="150.4" y2="1849.5" stroke="#262626"/>
<line x1="150.4" y1="1846.0" x2="166.5" y2="1846.0" stroke="#262626"/>
<line x1="150.4" y1="1849.5" x2="166.5" y2="1849.5" stroke="#262626"/>
<line x1="148.6" y1="1847.8" x2="148.6" y2="1853.0" stroke="#262626"/>
<line x1="148.6" y1="1847.8" x2="150.4" y2="1847.8" stroke="#262626"/>
<line x1="148.6" y1="1853.0" x2="166.5" y2="1853.0" stroke="#262626"/>
<line x1="146.7" y1="1855.7" x2="146.7" y2="1858.9" stroke="#262626"/>
<line x1="146.7" y1="1855.7" x2="166.5" y2="1855.7" stroke="#262626"/>
<line x1="146.7" y1="1858.9" x2="166.5" y2="1858.9" stroke="#262626"/>
<line x1="145.2" y1="1857.3" x2="145.2" y2="1862.5" stroke="#262626"/>
<line x1="145.2" y1="1857.3" x2="146.7" y2="1857.3" stroke="#262626"/>
<line x1="145.2" y1="1862.5" x2="166.5" y2="1862.5" stroke="#262626"/>
<line x1="143.7" y1="1859.9" x2="143.7" y2="1865.7" stroke="#262626"/>
<line x1="143.7" y1="1859.9" x2="145.2" y2="1859.9" stroke="#262626"/>
<line x1="143.7" y1="1865.7" x2="166.5" y2="1865.7" stroke="#262626"/>
<line x1="147.8" y1="1869.3" x2="147.8" y2="1872.8" stroke="#262626"/>
<line x1="147.8" y1="1869.3" x2="166.5" y2="1869.3" stroke="#262626"/>
<line x1="147.8" y1="1872.8" x2="166.5" y2="1872.8" stroke="#262626"/>
<line x1="139.0" y1="1862.8" x2="139.0" y2="1871.0" stroke="#262626"/>
<line x1="139.0" y1="1862.8" x2="143.7" y2="1862.8" stroke="#262626"/>
<line x1="139.0" y1="1871.0" x2="147.8" y2="1871.0" stroke="#262626"/>
<line x1="135.1" y1="1850.4" x2="135.1" y2="1866.9" stroke="#262626"/>
<line x1="135.1" y1="1850.4" x2="148.6" y2="1850.4" stroke="#262626"/>
<line x1="135.1" y1="1866.9" x2="139.0" y2="1866.9" stroke="#262626"/>
<line x1="147.7" y1="1875.5" x2="147.7" y2="1878.3" stroke="#262626"/>
<line x1="147.7" y1="1875.5" x2="166.5" y2="1875.5" stroke="#262626"/>
<line x1="147.7" y1="1878.3" x2="166.5" y2="1878.3" stroke="#262626"/>
<line x1="146.1" y1="1876.9" x2="146.1" y2="1881.2" stroke="#262626"/>
<line x1="146.1" y1="1876.9" x2="147.7" y2="1876.9" stroke="#262626"/>
<line x1="146.1" y1="1881.2" x2="166.5" y2="1881.2" stroke="#262626"/>
<line x1="129.8" y1="1858.7" x2="129.8" y2="1879.0" stroke="#262626"/>
<line x1="129.8" y1="1858.7" x2="135.1" y2="1858.7" stroke="#262626"/>
<line x1="129.8" y1="1879.0" x2="146.1" y2="1879.0" stroke="#262626"/>
<line x1="124.6" y1="1819.0" x2="124.6" y2="1868.8" stroke="#262626"/>
<line x1="124.6" y1="1819.0" x2="129.3" y2="1819.0" stroke="#262626"/>
<line x1="124.6" y1="1868.8" x2="129.8" y2="1868.8" stroke="#262626"/>
<line x1="112.2" y1="1764.3" x2="112.2" y2="1843.9" stroke="#262626"/>
<line x1="112.2" y1="1764.3" x2="130.4" y2="1764.3" stroke="#262626"/>
<line x1="112.2" y1="1843.9" x2="124.6" y2="1843.9" stroke="#262626"/>
<line x1="104.0" y1="1728.6" x2="104.0" y2="1804.1" stroke="#262626"/>
<line x1="104.0" y1="1728.6" x2="130.4" y2="1728.6" stroke="#262626"/>
<line x1="104.0" y1="1804.1" x2="112.2" y2="1804.1" stroke="#262626"/>
<line x1="84.0" y1="1565.7" x2="84.0" y2="1766.3" stroke="#262626"/>
<line x1="84.0" y1="1565.7" x2="96.0" y2="1565.7" stroke="#262626"/>
<line x1="84.0" y1="1766.3" x2="104.0" y2="1766.3" stroke="#262626"/>
<line x1="66.0" y1="1108.0" x2="66.0" y2="1756.0" stroke="#262626"/>
<line x1="66.0" y1="1108.0" x2="84.0" y2="1108.0" stroke="#262626"/>
<line x1="66.0" y1="1756.0" x2="84.0" y2="1756.0" stroke="#262626"/>
<line x1="36.0" y1="852.9" x2="36.0" y2="1386.7" stroke="#9a9a9a"/>
<line x1="36.0" y1="852.9" x2="100.0" y2="852.9" stroke="#262626"/>
<line x1="36.0" y1="1386.7" x2="66.0" y2="1386.7" stroke="#262626"/>
<line x1="25.5" y1="145.0" x2="25.5" y2="1120.0" stroke="#c8c8c8"/>
<line x1="25.5" y1="145.0" x2="52.0" y2="145.0" stroke="#262626"/>
<line x1="25.5" y1="1120.0" x2="36.0" y2="1120.0" stroke="#262626"/>
</g>
<polygon points="167,49 148.4,49.0 148.4,52.4 149.1,52.4 149.1,55.1 147.0,55.1 147.0,58.2 147.0,58.2 147.0,61.9 149.0,61.9 149.0,66.0 147.0,66.0 147.0,70.7 147.1,70.7 147.1,74.9 147.0,74.9 147.0,78.8 140.7,78.8 140.7,82.5 148.3,82.5 148.3,86.8 150.8,86.8 150.8,91.3 150.5,91.3 150.5,96.0 145.0,96.0 145.0,100.9 147.7,100.9 147.7,104.2 147.8,104.2 147.8,107.5 148.3,107.5 148.3,112.3 149.4,112.3 149.4,116.9 152.3,116.9 152.3,119.9 154.5,119.9 154.5,124.6 154.9,124.6 154.9,127.6 156.9,127.6 156.9,130.9 154.2,130.9 154.2,135.8 151.8,135.8 151.8,139.4 149.7,139.4 149.7,143.8 146.8,143.8 146.8,146.4 153.2,146.4 153.2,151.1 156.1,151.1 156.1,156.1 150.0,156.1 150.0,158.7 153.2,158.7 153.2,162.7 144.8,162.7 144.8,166.0 153.8,166.0 153.8,169.4 153.6,169.4 153.6,173.5 154.2,173.5 154.2,177.6 156.8,177.6 156.8,181.2 153.5,181.2 153.5,186.1 157.0,186.1 157.0,188.6 156.5,188.6 156.5,191.2 157.0,191.2 157.0,193.8 157.0,193.8 157.0,198.0 156.1,198.0 156.1,202.4 147.9,202.4 147.9,207.3 151.8,207.3 151.8,211.3 150.7,211.3 150.7,214.6 149.9,214.6 149.9,217.8 149.2,217.8 149.2,220.4 149.6,220.4 149.6,223.6 147.9,223.6 147.9,226.7 147.0,226.7 147.0,231.0 147.0,231.0 147.0,234.3 149.0,234.3 149.0,239.0 147.0,239.0 147.0,243.1 149.3,243.1 149.3,246.1 147.1,246.1 147.1,249.1 148.9,249.1 148.9,252.1 147.6,252.1 147.6,256.2 149.4,256.2 149.4,259.0 148.2,259.0 148.2,262.2 147.2,262.2 147.2,265.7 147.0,265.7 147.0,268.6 147.0,268.6 147.0,273.3 149.9,273.3 149.9,278.2 146.8,278.2 146.8,282.8 153.5,282.8 153.5,286.0 150.2,286.0 150.2,290.0 151.2,290.0 151.2,292.6 153.7,292.6 153.7,297.4 156.0,297.4 156.0,301.4 153.1,301.4 153.1,304.3 151.9,304.3 151.9,308.1 151.4,308.1 151.4,312.1 150.4,312.1 150.4,316.8 150.3,316.8 150.3,320.2 148.5,320.2 148.5,324.7 147.0,324.7 147.0,329.5 148.8,329.5 148.8,332.0 149.6,332.0 149.6,334.7 148.2,334.7 148.2,338.5 147.8,338.5 147.8,342.9 144.4,342.9 144.4,345.7 147.0,345.7 147.0,350.4 147.0,350.4 147.0,353.6 147.0,353.6 147.0,357.8 147.5,357.8 147.5,360.7 142.2,360.7 142.2,365.0 144.1,365.0 144.1,368.5 147.6,368.5 147.6,371.9 149.4,371.9 149.4,375.5 148.7,375.5 148.7,379.8 148.2,379.8 148.2,383.4 147.0,383.4 147.0,387.6 147.0,387.6 147.0,391.2 149.3,391.2 149.3,394.6 151.7,394.6 151.7,397.8 145.4,397.8 145.4,402.0 153.8,402.0 153.8,406.1 155.2,406.1 155.2,408.9 153.0,408.9 153.0,413.3 150.5,413.3 150.5,418.0 144.8,418.0 144.8,420.8 153.1,420.8 153.1,425.4 155.8,425.4 155.8,429.9 153.0,429.9 153.0,433.7 148.6,433.7 148.6,438.5 151.7,438.5 151.7,442.4 150.8,442.4 150.8,445.6 154.4,445.6 154.4,449.0 153.6,449.0 153.6,452.4 148.6,452.4 148.6,457.4 152.6,457.4 152.6,460.3 153.7,460.3 153.7,464.4 153.8,464.4 153.8,468.5 153.7,468.5 153.7,472.9 157.0,472.9 157.0,476.5 153.7,476.5 153.7,479.5 157.0,479.5 157.0,482.6 157.0,482.6 157.0,485.8 157.0,485.8 157.0,490.5 157.0,490.5 157.0,493.5 154.1,493.5 154.1,497.0 152.2,497.0 152.2,500.3 146.9,500.3 146.9,504.0 154.4,504.0 154.4,508.6 156.3,508.6 156.3,512.3 157.0,512.3 157.0,515.8 157.0,515.8 157.0,519.4 149.8,519.4 149.8,523.6 157.0,523.6 157.0,526.7 155.1,526.7 155.1,529.7 156.4,529.7 156.4,534.5 154.9,534.5 154.9,537.7 154.4,537.7 154.4,540.5 152.0,540.5 152.0,543.7 151.1,543.7 151.1,547.9 148.2,547.9 148.2,551.5 143.2,551.5 143.2,556.3 147.4,556.3 147.4,559.1 147.0,559.1 147.0,561.9 149.3,561.9 149.3,564.7 152.0,564.7 152.0,569.1 153.5,569.1 153.5,573.3 154.4,573.3 154.4,576.5 156.0,576.5 156.0,580.6 151.7,580.6 151.7,584.0 157.0,584.0 157.0,587.9 155.1,587.9 155.1,592.0 153.2,592.0 153.2,596.1 150.9,596.1 150.9,599.0 149.9,599.0 149.9,603.0 150.2,603.0 150.2,606.6 146.8,606.6 146.8,610.9 150.6,610.9 150.6,615.3 149.8,615.3 149.8,618.7 147.5,618.7 147.5,621.9 153.6,621.9 153.6,625.2 153.0,625.2 153.0,629.6 152.2,629.6 152.2,632.4 148.2,632.4 148.2,636.8 149.2,636.8 149.2,640.4 153.6,640.4 153.6,644.8 150.2,644.8 150.2,647.7 154.3,647.7 154.3,650.7 152.8,650.7 152.8,653.3 154.7,653.3 154.7,658.2 153.9,658.2 153.9,662.2 154.8,662.2 154.8,666.4 153.5,666.4 153.5,670.1 154.2,670.1 154.2,672.6 155.8,672.6 155.8,676.3 155.9,676.3 155.9,679.3 151.6,679.3 151.6,683.4 155.8,683.4 155.8,688.3 151.0,688.3 151.0,692.4 154.3,692.4 154.3,695.5 151.8,695.5 151.8,700.3 150.7,700.3 150.7,704.5 148.5,704.5 148.5,708.5 151.1,708.5 151.1,712.9 150.1,712.9 150.1,717.7 152.3,717.7 152.3,722.1 150.0,722.1 150.0,724.8 145.9,724.8 145.9,729.0 150.6,729.0 150.6,733.2 149.5,733.2 149.5,737.5 142.4,737.5 142.4,741.8 148.1,741.8 148.1,745.7 146.6,745.7 146.6,748.7 146.1,748.7 146.1,751.7 144.6,751.7 144.6,754.6 144.2,754.6 144.2,758.3 142.8,758.3 142.8,761.8 144.2,761.8 144.2,765.3 147.0,765.3 147.0,768.4 147.0,768.4 147.0,771.3 147.7,771.3 147.7,774.1 147.0,774.1 147.0,777.3 148.7,777.3 148.7,782.1 144.2,782.1 144.2,786.7 148.3,786.7 148.3,789.4 149.4,789.4 149.4,793.4 144.5,793.4 144.5,796.3 141.7,796.3 141.7,801.1 147.0,801.1 147.0,804.7 148.8,804.7 148.8,809.6 147.0,809.6 147.0,813.6 146.2,813.6 146.2,818.2 147.4,818.2 147.4,821.6 148.4,821.6 148.4,824.5 149.9,824.5 149.9,829.1 150.2,829.1 150.2,832.5 143.8,832.5 143.8,836.2 142.7,836.2 142.7,840.2 149.6,840.2 149.6,843.9 147.5,843.9 147.5,846.5 147.3,846.5 147.3,850.7 140.8,850.7 140.8,854.8 149.3,854.8 149.3,858.4 151.7,858.4 151.7,861.8 146.9,861.8 146.9,866.6 148.5,866.6 148.5,869.4 147.0,869.4 147.0,872.5 141.8,872.5 141.8,876.5 140.2,876.5 140.2,879.5 147.4,879.5 147.4,884.0 148.0,884.0 148.0,887.8 144.6,887.8 144.6,892.4 140.2,892.4 140.2,895.4 145.0,895.4 145.0,898.4 151.3,898.4 151.3,902.6 152.9,902.6 152.9,905.9 153.5,905.9 153.5,908.7 155.5,908.7 155.5,913.2 153.8,913.2 153.8,916.9 151.4,916.9 151.4,920.6 152.6,920.6 152.6,924.9 152.1,924.9 152.1,929.0 150.4,929.0 150.4,933.9 149.4,933.9 149.4,936.7 141.1,936.7 141.1,941.0 150.0,941.0 150.0,945.0 152.5,945.0 152.5,948.5 155.2,948.5 155.2,953.4 155.1,953.4 155.1,956.9 157.0,956.9 157.0,960.2 154.5,960.2 154.5,964.5 155.8,964.5 155.8,968.6 153.0,968.6 153.0,971.8 152.6,971.8 152.6,976.1 154.1,976.1 154.1,978.9 152.9,978.9 152.9,981.6 150.8,981.6 150.8,985.8 153.7,985.8 153.7,990.5 149.3,990.5 149.3,994.2 153.0,994.2 153.0,997.6 155.2,997.6 155.2,1001.2 157.0,1001.2 157.0,1004.5 155.5,1004.5 155.5,1007.0 153.2,1007.0 153.2,1010.8 148.2,1010.8 148.2,1015.3 151.0,1015.3 151.0,1019.7 151.0,1019.7 151.0,1022.3 153.5,1022.3 153.5,1024.9 150.2,1024.9 150.2,1028.0 155.6,1028.0 155.6,1031.2 152.9,1031.2 152.9,1035.2 153.9,1035.2 153.9,1039.7 146.6,1039.7 146.6,1044.2 152.4,1044.2 152.4,1048.1 149.0,1048.1 149.0,1052.2 153.5,1052.2 153.5,1055.9 154.5,1055.9 154.5,1060.4 155.1,1060.4 155.1,1064.2 147.7,1064.2 147.7,1069.2 153.4,1069.2 153.4,1072.6 153.1,1072.6 153.1,1076.2 152.3,1076.2 152.3,1080.0 155.4,1080.0 155.4,1084.6 157.0,1084.6 157.0,1087.1 157.0,1087.1 157.0,1090.9 155.7,1090.9 155.7,1095.6 153.3,1095.6 153.3,1099.1 153.4,1099.1 153.4,1104.0 147.6,1104.0 147.6,1106.9 153.5,1106.9 153.5,1110.2 152.2,1110.2 152.2,1115.1 151.1,1115.1 151.1,1118.3 148.9,1118.3 148.9,1123.2 144.0,1123.2 144.0,1125.9 147.2,1125.9 147.2,1130.5 147.9,1130.5 147.9,1133.0 147.0,1133.0 147.0,1135.7 147.0,1135.7 147.0,1138.9 144.1,1138.9 144.1,1143.8 147.0,1143.8 147.0,1146.7 150.0,1146.7 150.0,1150.8 142.0,1150.8 142.0,1153.8 147.0,1153.8 147.0,1158.5 147.0,1158.5 147.0,1162.3 143.1,1162.3 143.1,1167.3 144.3,1167.3 144.3,1170.1 147.0,1170.1 147.0,1172.8 147.0,1172.8 147.0,1177.8 146.1,1177.8 146.1,1182.7 149.8,1182.7 149.8,1185.9 147.0,1185.9 147.0,1190.3 148.7,1190.3 148.7,1194.0 148.9,1194.0 148.9,1197.8 145.9,1197.8 145.9,1202.6 146.2,1202.6 146.2,1207.2 151.0,1207.2 151.0,1210.2 148.3,1210.2 148.3,1213.8 148.5,1213.8 148.5,1218.4 152.3,1218.4 152.3,1222.7 152.5,1222.7 152.5,1225.4 152.7,1225.4 152.7,1228.2 153.3,1228.2 153.3,1232.0 152.6,1232.0 152.6,1235.4 153.2,1235.4 153.2,1240.3 155.4,1240.3 155.4,1243.5 157.0,1243.5 157.0,1246.3 157.0,1246.3 157.0,1249.6 157.0,1249.6 157.0,1254.5 156.7,1254.5 156.7,1258.4 157.0,1258.4 157.0,1262.2 156.6,1262.2 156.6,1264.9 156.2,1264.9 156.2,1269.3 153.6,1269.3 153.6,1272.8 156.4,1272.8 156.4,1275.8 156.7,1275.8 156.7,1279.4 157.0,1279.4 157.0,1282.8 155.8,1282.8 155.8,1286.3 155.0,1286.3 155.0,1291.0 152.4,1291.0 152.4,1294.4 153.8,1294.4 153.8,1297.7 150.2,1297.7 150.2,1302.5 155.1,1302.5 155.1,1307.1 157.0,1307.1 157.0,1310.7 150.6,1310.7 150.6,1314.1 156.9,1314.1 156.9,1317.3 155.0,1317.3 155.0,1321.3 148.7,1321.3 148.7,1323.9 151.1,1323.9 151.1,1327.3 154.6,1327.3 154.6,1331.4 155.5,1331.4 155.5,1334.1 157.0,1334.1 157.0,1336.9 156.7,1336.9 156.7,1341.8 149.6,1341.8 149.6,1345.4 156.4,1345.4 156.4,1348.7 155.9,1348.7 155.9,1353.4 154.1,1353.4 154.1,1356.2 148.3,1356.2 148.3,1360.0 152.3,1360.0 152.3,1363.6 157.0,1363.6 157.0,1366.8 157.0,1366.8 157.0,1370.7 155.2,1370.7 155.2,1375.4 153.0,1375.4 153.0,1379.5 152.1,1379.5 152.1,1384.2 154.3,1384.2 154.3,1387.2 151.6,1387.2 151.6,1390.5 149.8,1390.5 149.8,1393.6 151.7,1393.6 151.7,1396.4 154.2,1396.4 154.2,1399.4 147.9,1399.4 147.9,1402.9 154.5,1402.9 154.5,1405.5 153.9,1405.5 153.9,1408.4 152.4,1408.4 152.4,1412.7 148.3,1412.7 148.3,1416.3 146.3,1416.3 146.3,1419.3 152.8,1419.3 152.8,1422.3 154.3,1422.3 154.3,1426.1 154.9,1426.1 154.9,1429.7 152.3,1429.7 152.3,1434.4 152.2,1434.4 152.2,1437.5 154.6,1437.5 154.6,1440.6 156.5,1440.6 156.5,1444.0 157.0,1444.0 157.0,1446.9 157.0,1446.9 157.0,1451.2 152.4,1451.2 152.4,1455.9 156.9,1455.9 156.9,1460.5 156.5,1460.5 156.5,1464.5 154.5,1464.5 154.5,1468.9 157.0,1468.9 157.0,1473.6 157.0,1473.6 157.0,1478.6 157.0,1478.6 157.0,1481.8 154.1,1481.8 154.1,1486.1 153.2,1486.1 153.2,1490.1 151.7,1490.1 151.7,1494.0 146.2,1494.0 146.2,1497.3 148.4,1497.3 148.4,1500.3 151.8,1500.3 151.8,1503.0 149.1,1503.0 149.1,1506.0 146.6,1506.0 146.6,1509.9 151.7,1509.9 151.7,1513.7 147.7,1513.7 147.7,1517.0 147.0,1517.0 147.0,1520.6 153.3,1520.6 153.3,1525.5 151.4,1525.5 151.4,1529.3 142.7,1529.3 142.7,1533.8 151.0,1533.8 151.0,1536.5 152.3,1536.5 152.3,1539.6 152.0,1539.6 152.0,1542.9 148.2,1542.9 148.2,1546.1 153.6,1546.1 153.6,1550.8 155.1,1550.8 155.1,1555.0 154.7,1555.0 154.7,1558.1 154.9,1558.1 154.9,1561.6 147.0,1561.6 147.0,1564.6 153.7,1564.6 153.7,1569.5 155.8,1569.5 155.8,1573.0 153.1,1573.0 153.1,1577.3 152.8,1577.3 152.8,1582.3 157.0,1582.3 157.0,1586.6 154.9,1586.6 154.9,1590.8 152.8,1590.8 152.8,1594.8 155.0,1594.8 155.0,1597.6 157.0,1597.6 157.0,1601.2 157.0,1601.2 157.0,1604.4 153.6,1604.4 153.6,1608.6 150.4,1608.6 150.4,1611.9 151.0,1611.9 151.0,1615.4 157.0,1615.4 157.0,1619.6 151.7,1619.6 151.7,1624.1 151.0,1624.1 151.0,1626.8 153.9,1626.8 153.9,1630.7 154.5,1630.7 154.5,1633.2 151.7,1633.2 151.7,1636.2 152.1,1636.2 152.1,1640.6 152.7,1640.6 152.7,1645.0 152.8,1645.0 152.8,1648.2 150.2,1648.2 150.2,1652.0 147.8,1652.0 147.8,1655.9 148.5,1655.9 148.5,1658.8 147.7,1658.8 147.7,1663.8 149.3,1663.8 149.3,1667.4 147.8,1667.4 147.8,1671.0 147.0,1671.0 147.0,1673.5 148.3,1673.5 148.3,1678.3 147.0,1678.3 147.0,1681.5 147.0,1681.5 147.0,1684.8 147.0,1684.8 147.0,1687.5 143.0,1687.5 143.0,1690.5 147.3,1690.5 147.3,1694.3 148.9,1694.3 148.9,1698.4 147.0,1698.4 147.0,1702.2 147.4,1702.2 147.4,1706.4 152.3,1706.4 152.3,1710.6 152.7,1710.6 152.7,1714.3 149.8,1714.3 149.8,1718.6 151.9,1718.6 151.9,1721.8 151.0,1721.8 151.0,1726.1 153.7,1726.1 153.7,1729.2 149.6,1729.2 149.6,1733.1 150.5,1733.1 150.5,1735.9 151.5,1735.9 151.5,1739.0 153.8,1739.0 153.8,1742.3 147.7,1742.3 147.7,1746.7 152.6,1746.7 152.6,1749.9 147.9,1749.9 147.9,1753.9 151.7,1753.9 151.7,1756.7 153.3,1756.7 153.3,1760.1 153.4,1760.1 153.4,1763.1 152.7,1763.1 152.7,1767.4 148.8,1767.4 148.8,1771.9 156.5,1771.9 156.5,1774.8 157.0,1774.8 157.0,1777.6 157.0,1777.6 157.0,1780.8 157.0,1780.8 157.0,1784.4 148.7,1784.4 148.7,1787.9 153.8,1787.9 153.8,1792.8 145.5,1792.8 145.5,1796.1 151.6,1796.1 151.6,1799.3 149.1,1799.3 149.1,1802.4 147.4,1802.4 147.4,1805.4 149.9,1805.4 149.9,1808.7 148.1,1808.7 148.1,1812.6 147.5,1812.6 147.5,1815.8 149.6,1815.8 149.6,1820.2 148.2,1820.2 148.2,1823.2 149.4,1823.2 149.4,1828.0 151.9,1828.0 151.9,1830.8 144.9,1830.8 144.9,1834.0 150.2,1834.0 150.2,1837.0 152.7,1837.0 152.7,1841.1 150.4,1841.1 150.4,1844.6 149.4,1844.6 149.4,1848.6 143.1,1848.6 143.1,1851.2 150.2,1851.2 150.2,1854.1 145.6,1854.1 145.6,1857.9 148.6,1857.9 148.6,1861.2 148.5,1861.2 148.5,1864.8 150.1,1864.8 150.1,1867.6 148.1,1867.6 148.1,1871.3 147.4,1871.3 147.4,1875.9 147.0,1875.9 147.0,1879.3 147.0,1879.3 147.0,1882.5 167,1882.5" fill="#000"/>
<rect x="1078" y="49" width="27.5" height="409.5" fill="url(#cb)"/>
<g fill="#111">
<path d="M1126.6,137.3 L1130.6,137.3 L1130.6,166.2 L1126.6,166.2 L1126.6,142.6 L1120.3,144.6 L1120.3,141.4 Z"/>
<rect x="1117.5" y="357.3" width="10" height="3" fill="#888"/>
<rect x="1118.5" y="459.6" width="8.5" height="3" fill="#b8b3bd"/>
<path d="M1140.6,341.0 L1144.6,341.0 L1144.6,370.9 L1140.6,370.9 L1140.6,346.3 L1134.0,348.3 L1134.0,345.1 Z"/>
</g>
</svg>
<div class="lab" style="left:162px;top:1902px">WA-1</div>
<div class="lab" style="left:320px;top:1902px">WA-2</div>
<div class="lab" style="left:477px;top:1902px">WA-3</div>
<div class="lab" style="left:637px;top:1902px">CA-1</div>
<div class="lab" style="left:787px;top:1902px">CA-2</div>
<div class="lab" style="left:940px;top:1902px">CA-3</div>
<div class="tk" style="left:1115.5px;top:28.8px">2</div>
<div class="tk" style="left:1115.5px;top:233.4px">0</div>
<div class="tk" style="left:1129.2px;top:436.8px">2</div>
</div>
</body></html>
